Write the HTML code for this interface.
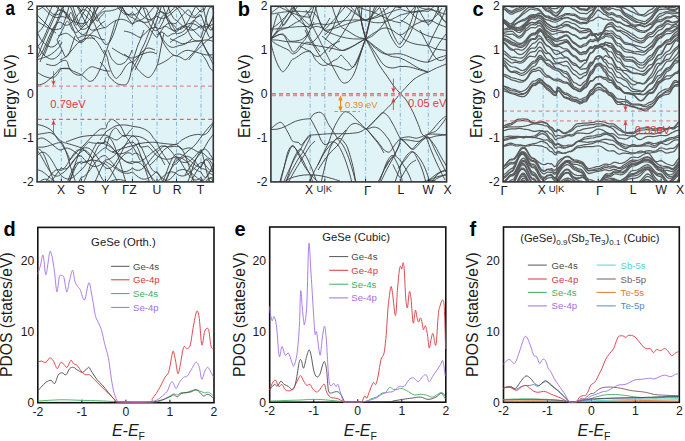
<!DOCTYPE html>
<html><head><meta charset="utf-8"><style>
html,body{margin:0;padding:0;background:#fff;}
svg{display:block;}
text{font-family:"Liberation Sans", sans-serif;}
</style></head><body>
<svg width="685" height="441" viewBox="0 0 685 441" font-family='"Liberation Sans", sans-serif'>
<rect width="685" height="441" fill="#ffffff"/>
<rect x="37.1" y="6.2" width="176.20" height="175.70" fill="#e0f4f8"/>
<line x1="61.3" y1="6.2" x2="61.3" y2="181.9" stroke="#88b6d8" stroke-width="1.05" stroke-dasharray="4 2 1 2" stroke-dashoffset="1.4"/>
<line x1="81.3" y1="6.2" x2="81.3" y2="181.9" stroke="#88b6d8" stroke-width="1.05" stroke-dasharray="4 2 1 2" stroke-dashoffset="1.4"/>
<line x1="105.4" y1="6.2" x2="105.4" y2="181.9" stroke="#88b6d8" stroke-width="1.05" stroke-dasharray="4 2 1 2" stroke-dashoffset="1.4"/>
<line x1="132.5" y1="6.2" x2="132.5" y2="181.9" stroke="#88b6d8" stroke-width="1.05" stroke-dasharray="4 2 1 2" stroke-dashoffset="1.4"/>
<line x1="157.0" y1="6.2" x2="157.0" y2="181.9" stroke="#88b6d8" stroke-width="1.05" stroke-dasharray="4 2 1 2" stroke-dashoffset="1.4"/>
<line x1="176.5" y1="6.2" x2="176.5" y2="181.9" stroke="#88b6d8" stroke-width="1.05" stroke-dasharray="4 2 1 2" stroke-dashoffset="1.4"/>
<line x1="201.0" y1="6.2" x2="201.0" y2="181.9" stroke="#88b6d8" stroke-width="1.05" stroke-dasharray="4 2 1 2" stroke-dashoffset="1.4"/>
<clipPath id="clipa"><rect x="37.1" y="6.2" width="176.20" height="175.70"/></clipPath>
<g clip-path="url(#clipa)">
<path d="M36.0,85.3 C37.3,85.0 41.0,85.0 43.9,83.4 C46.8,81.8 50.7,78.2 53.3,75.8 C55.9,73.4 58.2,70.0 59.6,68.8 C61.0,67.6 60.0,68.6 61.5,68.6 C63.0,68.6 67.0,68.5 68.7,68.8 C70.4,69.1 70.2,69.8 71.4,70.4 C72.6,71.0 74.2,71.5 75.9,72.2 C77.6,73.0 79.7,73.9 81.4,74.9 C83.1,76.0 84.6,77.4 85.9,78.5 C87.2,79.6 88.2,81.1 89.5,81.3 C90.8,81.5 92.5,81.0 94.0,79.5 C95.5,78.0 97.2,74.9 98.6,72.2 C100.0,69.5 101.2,66.0 102.2,63.1 C103.2,60.2 104.1,57.4 104.9,55.0 C105.7,52.6 106.2,51.5 107.0,49.0 C107.8,46.5 109.0,43.2 110.0,40.0 C111.0,36.8 112.0,33.3 113.0,30.0 C114.0,26.7 115.5,21.7 116.0,20.0" fill="none" stroke="#3c3c3c" stroke-width="0.9" stroke-linejoin="round"/>
<path d="M36.0,71.5 C37.3,72.3 41.3,75.0 43.9,76.1 C46.5,77.2 49.6,78.3 51.8,78.1 C54.0,77.9 55.6,76.2 57.0,74.8 C58.4,73.4 59.5,70.7 60.3,69.6 C61.1,68.5 60.6,68.6 62.0,68.4 C63.4,68.2 67.1,68.2 68.7,68.4 C70.3,68.6 71.0,69.4 71.4,69.6" fill="none" stroke="#3c3c3c" stroke-width="0.9" stroke-linejoin="round"/>
<path d="M46.0,64.0 C46.9,64.2 49.7,65.2 51.4,65.4 C53.1,65.6 54.5,65.6 56.0,65.0 C57.5,64.4 59.1,62.6 60.5,61.8 C61.9,61.0 63.0,60.5 64.1,60.4 C65.2,60.3 66.1,60.1 66.9,61.3 C67.7,62.5 68.3,66.0 69.1,67.7 C69.8,69.4 70.3,70.2 71.4,71.3 C72.5,72.4 74.2,73.9 75.9,74.5 C77.6,75.1 79.7,75.6 81.4,74.9 C83.1,74.2 84.2,71.8 85.9,70.4 C87.6,69.1 89.5,67.2 91.3,66.8 C93.1,66.4 95.0,67.6 96.8,68.1 C98.6,68.6 100.7,69.5 102.2,69.9 C103.7,70.4 104.7,70.6 106.0,70.8 C107.3,71.0 109.3,71.1 110.0,71.2" fill="none" stroke="#3c3c3c" stroke-width="0.9" stroke-linejoin="round"/>
<path d="M57.0,40.0 C57.5,41.0 59.1,44.3 60.0,46.0 C60.9,47.7 61.4,48.6 62.3,50.4 C63.2,52.2 64.4,56.2 65.5,56.8 C66.6,57.4 67.7,55.8 68.7,54.1 C69.7,52.4 70.7,48.8 71.4,46.8 C72.1,44.8 72.4,43.8 73.0,42.0 C73.6,40.2 74.7,37.0 75.0,36.0" fill="none" stroke="#3c3c3c" stroke-width="0.9" stroke-linejoin="round"/>
<path d="M36.0,60.0 C37.7,59.5 43.4,57.8 46.0,56.8 C48.6,55.8 49.6,55.3 51.4,54.1 C53.2,52.9 55.5,50.8 56.9,49.5 C58.3,48.2 58.8,47.6 59.6,46.4 C60.5,45.1 61.6,42.7 62.0,42.0" fill="none" stroke="#3c3c3c" stroke-width="0.9" stroke-linejoin="round"/>
<path d="M100.0,62.0 C100.9,63.0 103.9,65.7 105.4,68.1 C106.9,70.5 107.6,74.0 109.1,76.3 C110.6,78.6 112.8,80.3 114.5,81.7 C116.2,83.1 117.3,84.0 119.0,84.5 C120.7,85.0 123.1,85.1 124.5,84.9 C125.9,84.7 126.3,84.8 127.2,83.5 C128.1,82.2 129.2,79.8 129.9,77.2 C130.7,74.6 131.2,70.8 131.7,68.1 C132.2,65.4 132.6,63.0 133.1,60.9 C133.6,58.8 134.0,57.2 134.5,55.4 C135.0,53.6 135.7,51.7 136.3,50.0 C136.9,48.3 137.2,47.0 138.0,45.0 C138.8,43.0 140.0,40.5 141.0,38.0 C142.0,35.5 143.5,31.3 144.0,30.0" fill="none" stroke="#3c3c3c" stroke-width="0.9" stroke-linejoin="round"/>
<path d="M104.0,50.0 C104.5,51.2 106.5,54.7 107.3,57.3 C108.1,59.9 108.3,62.8 109.1,65.4 C109.8,68.0 110.8,70.6 111.8,72.7 C112.8,74.8 114.4,77.3 115.4,78.1 C116.5,78.8 117.0,78.1 118.1,77.2 C119.2,76.3 120.7,74.2 121.8,72.7 C122.9,71.2 123.6,69.5 124.5,68.1 C125.4,66.7 126.3,65.4 127.2,64.5 C128.1,63.6 129.1,62.9 130.0,62.5 C130.9,62.1 132.1,62.3 132.5,62.3" fill="none" stroke="#3c3c3c" stroke-width="0.9" stroke-linejoin="round"/>
<path d="M108.0,50.0 C108.5,51.2 110.0,55.5 110.9,57.3 C111.8,59.1 112.5,59.8 113.6,60.9 C114.6,62.0 115.8,63.6 117.2,64.1 C118.6,64.6 120.4,64.5 121.8,64.1 C123.2,63.7 124.5,62.6 125.4,61.8 C126.4,60.9 126.7,60.1 127.5,59.0 C128.3,57.9 129.2,56.5 130.0,55.0 C130.8,53.5 131.7,50.8 132.0,50.0" fill="none" stroke="#3c3c3c" stroke-width="0.9" stroke-linejoin="round"/>
<path d="M132.5,62.3 C133.7,63.8 137.2,69.0 139.8,71.5 C142.4,74.0 145.9,77.5 148.3,77.5 C150.7,77.5 152.7,73.7 154.2,71.5 C155.7,69.3 156.7,66.5 157.5,64.3 C158.3,62.0 158.5,60.4 159.0,58.0 C159.5,55.6 160.0,52.7 160.5,50.0 C161.0,47.3 161.4,44.8 162.0,42.0 C162.6,39.2 163.7,34.5 164.0,33.0" fill="none" stroke="#3c3c3c" stroke-width="0.9" stroke-linejoin="round"/>
<path d="M157.5,65.0 C158.4,64.6 161.2,63.4 163.0,62.5 C164.8,61.6 166.4,60.6 168.0,59.5 C169.6,58.4 171.2,56.4 172.6,55.8 C174.0,55.2 175.1,55.5 176.5,55.8 C177.9,56.1 179.4,56.9 181.0,57.5 C182.6,58.1 184.1,60.1 185.8,59.7 C187.5,59.3 189.3,56.6 191.0,55.0 C192.7,53.4 194.2,51.8 195.7,49.8 C197.2,47.8 199.0,44.4 200.0,43.0 C201.0,41.6 201.0,42.3 201.5,41.3 C202.0,40.3 202.8,37.7 203.0,37.0" fill="none" stroke="#3c3c3c" stroke-width="0.9" stroke-linejoin="round"/>
<path d="M160.0,32.0 C160.3,33.3 160.8,37.2 162.0,40.0 C163.2,42.8 165.7,46.7 167.4,49.0 C169.1,51.3 170.5,52.9 172.0,54.0 C173.5,55.1 175.2,55.9 176.5,55.8 C177.8,55.7 178.4,54.4 180.0,53.5 C181.6,52.6 183.8,50.9 185.8,50.5 C187.8,50.1 189.4,50.5 192.0,51.0 C194.6,51.5 198.8,53.1 201.5,53.8 C204.2,54.5 205.9,54.9 208.0,55.0 C210.1,55.1 213.0,54.6 214.0,54.5" fill="none" stroke="#3c3c3c" stroke-width="0.9" stroke-linejoin="round"/>
<path d="M201.5,41.3 C202.1,42.4 203.8,45.5 205.0,48.0 C206.2,50.5 207.5,53.0 209.0,56.0 C210.5,59.0 213.2,64.3 214.0,66.0" fill="none" stroke="#3c3c3c" stroke-width="0.9" stroke-linejoin="round"/>
<path d="M201.5,53.8 C202.2,54.8 204.6,57.6 206.0,60.0 C207.4,62.4 208.7,66.0 210.0,68.0 C211.3,70.0 213.3,71.3 214.0,72.0" fill="none" stroke="#3c3c3c" stroke-width="0.9" stroke-linejoin="round"/>
<path d="M124.0,54.0 C124.7,54.5 126.6,55.6 128.0,57.0 C129.4,58.4 131.0,62.1 132.5,62.3 C134.0,62.5 135.4,59.7 137.0,58.0 C138.6,56.3 140.2,53.7 142.0,52.0 C143.8,50.3 145.8,48.3 148.0,48.0 C150.2,47.7 153.8,49.7 155.0,50.0" fill="none" stroke="#3c3c3c" stroke-width="0.9" stroke-linejoin="round"/>
<path d="M112.0,48.0 C113.3,48.8 117.7,51.7 120.0,53.0 C122.3,54.3 123.9,55.2 126.0,56.0 C128.1,56.8 130.2,58.2 132.5,58.0 C134.8,57.8 137.1,56.0 140.0,55.0 C142.9,54.0 147.2,52.2 150.0,52.0 C152.8,51.8 155.8,53.7 157.0,54.0" fill="none" stroke="#3c3c3c" stroke-width="0.9" stroke-linejoin="round"/>
<path d="M36.0,124.2 C37.3,124.5 41.3,125.1 43.9,126.2 C46.5,127.3 49.4,128.5 51.8,130.8 C54.2,133.1 56.8,138.0 58.3,140.0 C59.8,142.0 60.0,141.7 61.0,143.0 C62.0,144.3 63.0,146.3 64.0,148.0 C65.0,149.7 66.0,151.0 67.0,153.0 C68.0,155.0 69.5,158.8 70.0,160.0" fill="none" stroke="#3c3c3c" stroke-width="0.9" stroke-linejoin="round"/>
<path d="M36.0,134.7 C37.3,134.5 41.5,133.7 43.9,133.4 C46.3,133.1 48.5,132.3 50.5,132.7 C52.5,133.1 54.0,134.6 55.7,136.0 C57.5,137.4 58.8,140.0 61.0,141.3 C63.2,142.6 65.5,142.8 68.9,143.9 C72.3,145.0 78.5,146.6 81.3,147.9 C84.1,149.2 84.2,150.3 86.0,152.0 C87.8,153.7 91.0,157.0 92.0,158.0" fill="none" stroke="#3c3c3c" stroke-width="0.9" stroke-linejoin="round"/>
<path d="M70.0,160.0 C71.0,158.8 74.1,155.0 76.0,153.0 C77.9,151.0 79.2,150.1 81.3,147.9 C83.4,145.7 86.5,142.2 88.6,140.0 C90.7,137.8 91.8,136.5 93.8,134.7 C95.8,132.9 98.5,130.1 100.5,129.1 C102.5,128.1 104.4,129.5 105.6,128.6 C106.8,127.6 106.6,124.9 107.5,123.4 C108.4,121.9 110.0,120.3 111.0,119.7 C112.0,119.1 112.6,119.4 113.6,119.9 C114.6,120.4 115.9,121.5 117.1,122.5 C118.3,123.5 119.6,124.5 120.6,126.0 C121.6,127.5 122.4,129.6 123.3,131.3 C124.2,133.1 125.0,135.1 125.9,136.5 C126.8,137.9 127.5,138.5 128.5,140.0 C129.5,141.5 130.8,143.3 132.0,145.3 C133.2,147.3 134.7,149.6 136.0,152.0 C137.3,154.4 139.3,158.7 140.0,160.0" fill="none" stroke="#3c3c3c" stroke-width="0.9" stroke-linejoin="round"/>
<path d="M100.0,140.0 C101.0,138.7 104.1,133.9 105.8,132.1 C107.5,130.3 108.5,130.1 110.1,129.1 C111.7,128.1 113.7,126.7 115.4,126.0 C117.2,125.3 118.7,125.2 120.6,125.1 C122.5,124.9 124.8,124.9 126.8,125.1 C128.8,125.3 130.9,126.0 132.9,126.4 C134.9,126.8 137.1,126.8 139.0,127.3 C140.9,127.8 142.5,128.2 144.3,129.1 C146.1,130.0 148.6,131.6 150.0,133.0 C151.4,134.4 151.8,135.7 152.9,137.3 C154.1,138.9 155.6,140.4 156.9,142.6 C158.2,144.8 159.3,147.9 160.8,150.5 C162.3,153.1 164.5,156.0 166.0,158.4 C167.5,160.8 169.3,163.9 170.0,165.0" fill="none" stroke="#3c3c3c" stroke-width="0.9" stroke-linejoin="round"/>
<path d="M106.0,148.0 C106.5,146.3 108.0,140.8 109.0,138.0 C110.0,135.2 110.9,132.7 112.0,131.0 C113.1,129.3 114.4,128.2 115.4,128.0 C116.4,127.8 117.1,129.0 118.0,130.0 C118.9,131.0 119.4,132.8 120.6,133.9 C121.8,135.0 123.5,136.9 125.0,136.5 C126.5,136.1 128.1,132.8 129.4,131.3 C130.7,129.9 132.3,128.4 132.9,127.8" fill="none" stroke="#3c3c3c" stroke-width="0.9" stroke-linejoin="round"/>
<path d="M66.0,142.0 C67.3,141.5 71.7,139.8 74.0,139.0 C76.3,138.2 78.0,137.5 80.0,137.0 C82.0,136.5 84.3,136.2 86.0,136.0 C87.7,135.8 88.5,135.7 90.0,135.6 C91.5,135.5 93.3,135.4 95.0,135.3 C96.7,135.2 98.2,135.2 100.0,135.2 C101.8,135.2 103.9,134.9 105.6,135.2 C107.3,135.5 108.3,136.2 110.0,137.0 C111.7,137.8 114.3,139.8 116.0,140.0 C117.7,140.2 118.7,138.8 120.0,138.0 C121.3,137.2 122.0,135.7 124.0,135.4 C126.0,135.1 129.3,135.8 131.9,136.0 C134.5,136.2 137.4,136.0 139.8,136.7 C142.2,137.4 144.3,138.6 146.3,140.0 C148.3,141.4 149.8,143.2 151.6,145.2 C153.4,147.2 155.3,149.7 156.9,151.8 C158.5,153.9 159.7,155.8 161.0,158.0 C162.3,160.2 164.3,163.8 165.0,165.0" fill="none" stroke="#3c3c3c" stroke-width="0.9" stroke-linejoin="round"/>
<path d="M112.0,152.0 C113.0,151.7 116.0,150.7 118.0,150.0 C120.0,149.3 121.7,148.6 124.0,147.9 C126.3,147.2 129.1,146.7 131.9,145.9 C134.7,145.1 137.9,143.9 141.0,143.3 C144.1,142.7 147.7,142.4 150.3,142.3 C153.0,142.2 154.1,142.3 156.9,142.6 C159.8,142.9 164.1,143.6 167.4,143.9 C170.7,144.2 174.2,144.8 176.6,144.2 C179.0,143.5 179.6,141.4 181.8,140.0 C184.0,138.6 187.1,136.9 189.7,136.0 C192.3,135.1 195.4,134.6 197.6,134.4 C199.8,134.2 201.1,135.4 202.8,135.0 C204.6,134.6 206.2,134.2 208.1,132.1 C210.0,130.0 213.0,123.8 214.0,122.2" fill="none" stroke="#3c3c3c" stroke-width="0.9" stroke-linejoin="round"/>
<path d="M176.6,144.2 C177.5,145.0 179.6,148.6 181.8,149.2 C184.0,149.8 187.1,147.5 189.7,147.9 C192.3,148.3 195.4,150.9 197.6,151.8 C199.8,152.7 200.9,152.0 202.8,153.1 C204.7,154.2 207.1,157.3 209.0,158.4 C210.9,159.5 213.2,159.5 214.0,159.7" fill="none" stroke="#3c3c3c" stroke-width="0.9" stroke-linejoin="round"/>
<path d="M150.0,165.0 C151.2,163.9 154.7,160.8 156.9,158.4 C159.1,156.0 161.2,152.6 163.4,150.5 C165.6,148.4 167.8,147.1 170.0,146.0 C172.2,144.9 175.5,144.5 176.6,144.2" fill="none" stroke="#3c3c3c" stroke-width="0.9" stroke-linejoin="round"/>
<path d="M172.0,165.0 C173.3,163.8 177.3,160.3 180.0,158.0 C182.7,155.7 185.5,153.2 188.0,151.0 C190.5,148.8 192.5,147.7 195.0,145.0 C197.5,142.3 200.6,137.5 202.8,134.7 C205.0,131.9 206.2,130.3 208.1,128.1 C210.0,125.9 213.0,122.7 214.0,121.6" fill="none" stroke="#3c3c3c" stroke-width="0.9" stroke-linejoin="round"/>
<path d="M185.0,175.0 C185.8,173.7 188.3,169.5 190.0,167.0 C191.7,164.5 192.9,162.8 195.0,160.0 C197.1,157.2 200.6,153.6 202.8,150.5 C205.0,147.4 206.2,144.2 208.1,141.3 C210.0,138.5 213.0,134.7 214.0,133.4" fill="none" stroke="#3c3c3c" stroke-width="0.9" stroke-linejoin="round"/>
<path d="M36.0,140.0 C37.0,139.7 40.0,137.8 42.0,138.0 C44.0,138.2 46.0,139.7 48.0,141.0 C50.0,142.3 52.0,144.5 54.0,146.0 C56.0,147.5 58.0,149.7 60.0,150.0 C62.0,150.3 64.0,148.0 66.0,148.0 C68.0,148.0 69.7,148.7 72.0,150.0 C74.3,151.3 78.7,155.0 80.0,156.0" fill="none" stroke="#3c3c3c" stroke-width="0.9" stroke-linejoin="round"/>
<path d="M37.0,9.9 L38.5,9.5 L40.0,8.9 L41.6,7.9 L43.1,6.8 L44.6,5.5 L46.1,4.0 L47.6,2.5 L49.1,1.0 L50.7,-0.4 L52.2,-1.8 L53.7,-2.9 L55.2,-3.9 L56.7,-4.7 L58.3,-5.1 L59.8,-5.3 L61.3,-5.2 L62.8,-6.8 L64.4,-7.3 L65.9,-6.8 L67.5,-5.3 L69.0,-2.7 L70.5,0.6 L72.1,4.5 L73.6,8.8 L75.1,13.2 L76.7,17.5 L78.2,21.5 L79.8,24.8 L81.3,27.3 L82.8,25.3 L84.3,22.7 L85.8,19.6 L87.3,16.0 L88.8,12.1 L90.3,8.1 L91.8,4.0 L93.3,0.2 L94.9,-3.4 L96.4,-6.4 L97.9,-9.0 L99.4,-10.8 L100.9,-11.9 L102.4,-12.3 L103.9,-11.8 L105.4,-10.6 L106.9,-10.6 L108.4,-10.2 L109.9,-9.4 L111.4,-8.2 L112.9,-6.7 L114.4,-4.8 L115.9,-2.7 L117.4,-0.4 L119.0,2.0 L120.5,4.5 L122.0,7.0 L123.5,9.3 L125.0,11.5 L126.5,13.4 L128.0,15.0 L129.5,16.3 L131.0,17.2 L132.5,17.7 L134.0,18.8 L135.5,19.7 L137.1,20.2 L138.6,20.4 L140.1,20.2 L141.6,19.6 L143.1,18.7 L144.7,17.6 L146.2,16.1 L147.7,14.5 L149.2,12.8 L150.7,11.0 L152.2,9.1 L153.8,7.4 L155.3,5.8 L156.8,4.4 L158.3,2.3 L159.8,-0.0 L161.3,-2.7 L162.9,-5.3 L164.4,-7.9 L165.9,-10.3 L167.4,-12.2 L168.9,-13.7 L170.4,-14.6 L172.0,-14.9 L173.5,-14.5 L175.0,-13.5 L176.5,-11.9 L178.0,-12.8 L179.6,-13.1 L181.1,-13.0 L182.6,-12.4 L184.2,-11.2 L185.7,-9.7 L187.2,-7.8 L188.8,-5.6 L190.3,-3.1 L191.8,-0.6 L193.3,2.0 L194.9,4.5 L196.4,6.8 L197.9,8.9 L199.5,10.6 L201.0,11.9 L202.5,11.9 L204.1,10.0 L205.6,6.6 L207.2,2.0 L208.7,-3.0 L210.2,-7.6 L211.8,-11.1 L213.3,-13.0" fill="none" stroke="#3c3c3c" stroke-width="0.9" stroke-linejoin="round"/>
<path d="M37.0,58.0 L38.5,56.9 L40.0,55.2 L41.6,52.9 L43.1,50.1 L44.6,46.9 L46.1,43.5 L47.6,39.9 L49.1,36.4 L50.7,33.0 L52.2,29.9 L53.7,27.2 L55.2,25.0 L56.7,23.4 L58.3,22.4 L59.8,22.1 L61.3,22.5 L62.8,23.9 L64.4,24.8 L65.9,25.2 L67.5,25.2 L69.0,24.6 L70.5,23.6 L72.1,22.2 L73.6,20.5 L75.1,18.5 L76.7,16.5 L78.2,14.4 L79.8,12.5 L81.3,10.8 L82.8,9.9 L84.3,9.6 L85.8,10.1 L87.3,11.2 L88.8,13.0 L90.3,15.3 L91.8,18.1 L93.3,21.3 L94.9,24.7 L96.4,28.2 L97.9,31.7 L99.4,35.1 L100.9,38.2 L102.4,40.8 L103.9,43.0 L105.4,44.6 L106.9,44.4 L108.4,43.4 L109.9,41.6 L111.4,39.0 L112.9,35.7 L114.4,31.8 L115.9,27.4 L117.4,22.7 L119.0,17.8 L120.5,12.9 L122.0,8.0 L123.5,3.4 L125.0,-0.8 L126.5,-4.5 L128.0,-7.5 L129.5,-9.9 L131.0,-11.4 L132.5,-12.2 L134.0,-11.2 L135.5,-9.5 L137.1,-7.0 L138.6,-3.9 L140.1,-0.4 L141.6,3.6 L143.1,7.7 L144.7,11.9 L146.2,16.1 L147.7,19.9 L149.2,23.3 L150.7,26.2 L152.2,28.4 L153.8,29.9 L155.3,30.6 L156.8,30.5 L158.3,29.5 L159.8,27.6 L161.3,25.0 L162.9,21.9 L164.4,18.4 L165.9,14.7 L167.4,11.1 L168.9,7.7 L170.4,4.8 L172.0,2.4 L173.5,0.9 L175.0,0.2 L176.5,0.3 L178.0,0.5 L179.6,0.4 L181.1,0.2 L182.6,-0.1 L184.2,-0.6 L185.7,-1.1 L187.2,-1.8 L188.8,-2.5 L190.3,-3.3 L191.8,-4.1 L193.3,-4.8 L194.9,-5.6 L196.4,-6.2 L197.9,-6.7 L199.5,-7.1 L201.0,-7.4 L202.5,-10.8 L204.1,-13.7 L205.6,-14.7 L207.2,-14.5 L208.7,-14.6 L210.2,-14.7 L211.8,-12.0 L213.3,-8.8" fill="none" stroke="#3c3c3c" stroke-width="0.9" stroke-linejoin="round"/>
<path d="M37.0,-10.4 L38.5,-9.5 L40.0,-8.6 L41.6,-7.5 L43.1,-6.3 L44.6,-5.1 L46.1,-4.0 L47.6,-3.0 L49.1,-2.0 L50.7,-1.3 L52.2,-0.7 L53.7,-0.3 L55.2,-0.1 L56.7,-0.1 L58.3,-0.4 L59.8,-0.9 L61.3,-1.6 L62.8,-2.4 L64.4,-2.2 L65.9,-1.1 L67.5,0.8 L69.0,3.6 L70.5,6.9 L72.1,10.6 L73.6,14.5 L75.1,18.4 L76.7,22.0 L78.2,25.1 L79.8,27.6 L81.3,29.2 L82.8,29.3 L84.3,29.1 L85.8,28.5 L87.3,27.6 L88.8,26.4 L90.3,25.0 L91.8,23.4 L93.3,21.6 L94.9,19.8 L96.4,18.1 L97.9,16.4 L99.4,14.8 L100.9,13.4 L102.4,12.3 L103.9,11.5 L105.4,11.1 L106.9,11.1 L108.4,11.0 L109.9,10.9 L111.4,10.6 L112.9,10.2 L114.4,9.8 L115.9,9.3 L117.4,8.7 L119.0,8.1 L120.5,7.5 L122.0,6.9 L123.5,6.3 L125.0,5.8 L126.5,5.3 L128.0,4.9 L129.5,4.5 L131.0,4.3 L132.5,4.2 L134.0,5.7 L135.5,7.5 L137.1,9.3 L138.6,11.2 L140.1,13.0 L141.6,14.8 L143.1,16.3 L144.7,17.6 L146.2,18.6 L147.7,19.3 L149.2,19.6 L150.7,19.6 L152.2,19.2 L153.8,18.5 L155.3,17.4 L156.8,16.0 L158.3,17.0 L159.8,17.8 L161.3,18.2 L162.9,18.3 L164.4,18.1 L165.9,17.5 L167.4,16.7 L168.9,15.6 L170.4,14.3 L172.0,12.9 L173.5,11.6 L175.0,10.2 L176.5,9.0 L178.0,8.1 L179.6,7.1 L181.1,6.0 L182.6,4.8 L184.2,3.7 L185.7,2.6 L187.2,1.6 L188.8,0.7 L190.3,0.0 L191.8,-0.5 L193.3,-0.8 L194.9,-0.9 L196.4,-0.8 L197.9,-0.4 L199.5,0.1 L201.0,0.9 L202.5,5.6 L204.1,11.5 L205.6,17.9 L207.2,23.6 L208.7,27.9 L210.2,30.1 L211.8,29.8 L213.3,27.1" fill="none" stroke="#3c3c3c" stroke-width="0.9" stroke-linejoin="round"/>
<path d="M37.0,-5.9 L38.5,-4.3 L40.0,-2.3 L41.6,-0.2 L43.1,2.0 L44.6,4.4 L46.1,6.6 L47.6,8.7 L49.1,10.6 L50.7,12.3 L52.2,13.5 L53.7,14.4 L55.2,14.8 L56.7,14.8 L58.3,14.4 L59.8,13.5 L61.3,12.2 L62.8,11.6 L64.4,11.7 L65.9,12.5 L67.5,13.9 L69.0,15.8 L70.5,18.2 L72.1,20.8 L73.6,23.6 L75.1,26.4 L76.7,29.0 L78.2,31.2 L79.8,33.0 L81.3,34.2 L82.8,34.6 L84.3,34.2 L85.8,33.0 L87.3,31.1 L88.8,28.6 L90.3,25.5 L91.8,22.0 L93.3,18.1 L94.9,14.2 L96.4,10.2 L97.9,6.4 L99.4,2.9 L100.9,-0.2 L102.4,-2.7 L103.9,-4.6 L105.4,-5.7 L106.9,-5.2 L108.4,-4.5 L109.9,-3.4 L111.4,-2.1 L112.9,-0.6 L114.4,1.0 L115.9,2.8 L117.4,4.6 L119.0,6.4 L120.5,8.2 L122.0,9.8 L123.5,11.3 L125.0,12.6 L126.5,13.6 L128.0,14.4 L129.5,14.9 L131.0,15.0 L132.5,14.8 L134.0,14.9 L135.5,14.4 L137.1,13.4 L138.6,11.9 L140.1,10.0 L141.6,7.7 L143.1,5.2 L144.7,2.6 L146.2,-0.2 L147.7,-2.9 L149.2,-5.4 L150.7,-7.7 L152.2,-9.7 L153.8,-11.3 L155.3,-12.3 L156.8,-12.9 L158.3,-12.6 L159.8,-11.4 L161.3,-9.3 L162.9,-6.4 L164.4,-3.0 L165.9,0.9 L167.4,4.9 L168.9,8.8 L170.4,12.5 L172.0,15.6 L173.5,18.1 L175.0,19.7 L176.5,20.4 L178.0,21.8 L179.6,23.2 L181.1,24.6 L182.6,26.0 L184.2,27.2 L185.7,28.3 L187.2,29.1 L188.8,29.8 L190.3,30.1 L191.8,30.2 L193.3,30.0 L194.9,29.6 L196.4,28.9 L197.9,27.9 L199.5,26.8 L201.0,25.5 L202.5,28.5 L204.1,30.3 L205.6,30.6 L207.2,29.3 L208.7,26.7 L210.2,23.1 L211.8,19.2 L213.3,15.4" fill="none" stroke="#3c3c3c" stroke-width="0.9" stroke-linejoin="round"/>
<path d="M37.0,21.5 L38.5,22.2 L40.0,23.1 L41.6,23.9 L43.1,24.9 L44.6,25.8 L46.1,26.7 L47.6,27.5 L49.1,28.2 L50.7,28.8 L52.2,29.2 L53.7,29.5 L55.2,29.6 L56.7,29.5 L58.3,29.2 L59.8,28.8 L61.3,28.2 L62.8,25.3 L64.4,21.5 L65.9,16.9 L67.5,11.8 L69.0,6.6 L70.5,1.4 L72.1,-3.3 L73.6,-7.3 L75.1,-10.4 L76.7,-12.5 L78.2,-13.2 L79.8,-12.8 L81.3,-11.1 L82.8,-10.8 L84.3,-9.9 L85.8,-8.2 L87.3,-5.9 L88.8,-3.1 L90.3,0.2 L91.8,3.8 L93.3,7.6 L94.9,11.4 L96.4,15.1 L97.9,18.5 L99.4,21.6 L100.9,24.1 L102.4,26.0 L103.9,27.3 L105.4,27.8 L106.9,26.6 L108.4,25.4 L109.9,24.2 L111.4,23.1 L112.9,22.1 L114.4,21.2 L115.9,20.5 L117.4,19.9 L119.0,19.5 L120.5,19.3 L122.0,19.3 L123.5,19.6 L125.0,20.0 L126.5,20.6 L128.0,21.4 L129.5,22.3 L131.0,23.3 L132.5,24.5 L134.0,23.1 L135.5,22.0 L137.1,21.3 L138.6,21.0 L140.1,21.0 L141.6,21.5 L143.1,22.3 L144.7,23.4 L146.2,24.8 L147.7,26.5 L149.2,28.3 L150.7,30.3 L152.2,32.3 L153.8,34.2 L155.3,36.0 L156.8,37.6 L158.3,35.4 L159.8,33.0 L161.3,30.6 L162.9,28.4 L164.4,26.5 L165.9,24.9 L167.4,23.8 L168.9,23.2 L170.4,23.3 L172.0,23.9 L173.5,25.0 L175.0,26.6 L176.5,28.6 L178.0,29.3 L179.6,29.5 L181.1,29.1 L182.6,28.2 L184.2,26.7 L185.7,24.7 L187.2,22.4 L188.8,19.7 L190.3,16.8 L191.8,13.8 L193.3,10.9 L194.9,8.0 L196.4,5.5 L197.9,3.2 L199.5,1.4 L201.0,0.1 L202.5,-2.5 L204.1,-4.4 L205.6,-5.1 L207.2,-4.6 L208.7,-3.1 L210.2,-0.6 L211.8,2.4 L213.3,5.4" fill="none" stroke="#3c3c3c" stroke-width="0.9" stroke-linejoin="round"/>
<path d="M37.0,4.1 L38.5,3.3 L40.0,2.6 L41.6,2.1 L43.1,1.9 L44.6,1.8 L46.1,1.9 L47.6,2.3 L49.1,2.8 L50.7,3.5 L52.2,4.4 L53.7,5.3 L55.2,6.3 L56.7,7.4 L58.3,8.5 L59.8,9.5 L61.3,10.4 L62.8,10.5 L64.4,11.4 L65.9,13.2 L67.5,15.8 L69.0,18.9 L70.5,22.5 L72.1,26.2 L73.6,30.0 L75.1,33.5 L76.7,36.6 L78.2,39.1 L79.8,40.8 L81.3,41.6 L82.8,40.6 L84.3,38.6 L85.8,35.7 L87.3,32.1 L88.8,27.8 L90.3,23.1 L91.8,18.1 L93.3,13.0 L94.9,8.0 L96.4,3.3 L97.9,-0.9 L99.4,-4.5 L100.9,-7.3 L102.4,-9.2 L103.9,-10.1 L105.4,-10.1 L106.9,-8.6 L108.4,-6.8 L109.9,-4.7 L111.4,-2.5 L112.9,-0.2 L114.4,2.2 L115.9,4.5 L117.4,6.8 L119.0,8.8 L120.5,10.7 L122.0,12.2 L123.5,13.4 L125.0,14.3 L126.5,14.7 L128.0,14.7 L129.5,14.4 L131.0,13.6 L132.5,12.4 L134.0,14.2 L135.5,16.0 L137.1,17.6 L138.6,19.1 L140.1,20.4 L141.6,21.4 L143.1,22.1 L144.7,22.4 L146.2,22.4 L147.7,22.0 L149.2,21.3 L150.7,20.3 L152.2,19.1 L153.8,17.6 L155.3,15.9 L156.8,14.1 L158.3,12.7 L159.8,11.9 L161.3,11.7 L162.9,12.2 L164.4,13.3 L165.9,15.0 L167.4,17.1 L168.9,19.6 L170.4,22.3 L172.0,25.0 L173.5,27.6 L175.0,29.9 L176.5,31.8 L178.0,30.5 L179.6,29.2 L181.1,27.9 L182.6,26.7 L184.2,25.7 L185.7,24.8 L187.2,24.1 L188.8,23.6 L190.3,23.4 L191.8,23.5 L193.3,23.8 L194.9,24.3 L196.4,25.1 L197.9,26.1 L199.5,27.2 L201.0,28.4 L202.5,26.5 L204.1,25.0 L205.6,24.2 L207.2,24.2 L208.7,25.1 L210.2,26.7 L211.8,28.6 L213.3,30.8" fill="none" stroke="#3c3c3c" stroke-width="0.9" stroke-linejoin="round"/>
<path d="M37.0,3.0 L38.5,3.8 L40.0,4.9 L41.6,6.2 L43.1,7.6 L44.6,9.1 L46.1,10.7 L47.6,12.2 L49.1,13.6 L50.7,14.8 L52.2,15.9 L53.7,16.7 L55.2,17.2 L56.7,17.5 L58.3,17.5 L59.8,17.1 L61.3,16.5 L62.8,16.7 L64.4,17.1 L65.9,17.6 L67.5,18.2 L69.0,19.0 L70.5,19.8 L72.1,20.6 L73.6,21.4 L75.1,22.1 L76.7,22.6 L78.2,23.0 L79.8,23.3 L81.3,23.3 L82.8,23.5 L84.3,23.3 L85.8,22.7 L87.3,21.7 L88.8,20.3 L90.3,18.6 L91.8,16.6 L93.3,14.5 L94.9,12.3 L96.4,10.1 L97.9,7.9 L99.4,6.0 L100.9,4.2 L102.4,2.8 L103.9,1.7 L105.4,1.0 L106.9,1.5 L108.4,1.8 L109.9,1.7 L111.4,1.4 L112.9,0.9 L114.4,0.1 L115.9,-0.9 L117.4,-2.0 L119.0,-3.3 L120.5,-4.8 L122.0,-6.2 L123.5,-7.8 L125.0,-9.2 L126.5,-10.6 L128.0,-11.9 L129.5,-13.1 L131.0,-14.0 L132.5,-14.8 L134.0,-14.6 L135.5,-14.3 L137.1,-14.1 L138.6,-14.1 L140.1,-14.3 L141.6,-14.6 L143.1,-14.7 L144.7,-12.7 L146.2,-10.4 L147.7,-7.8 L149.2,-5.1 L150.7,-2.3 L152.2,0.4 L153.8,3.0 L155.3,5.3 L156.8,7.2 L158.3,9.1 L159.8,10.8 L161.3,12.2 L162.9,13.2 L164.4,13.8 L165.9,14.0 L167.4,13.7 L168.9,12.9 L170.4,11.7 L172.0,10.2 L173.5,8.4 L175.0,6.5 L176.5,4.6 L178.0,5.8 L179.6,7.1 L181.1,8.6 L182.6,10.1 L184.2,11.5 L185.7,13.0 L187.2,14.3 L188.8,15.4 L190.3,16.3 L191.8,17.0 L193.3,17.4 L194.9,17.4 L196.4,17.2 L197.9,16.8 L199.5,16.0 L201.0,15.0 L202.5,18.7 L204.1,23.3 L205.6,28.3 L207.2,32.8 L208.7,36.1 L210.2,37.8 L211.8,37.6 L213.3,35.5" fill="none" stroke="#3c3c3c" stroke-width="0.9" stroke-linejoin="round"/>
<path d="M37.0,46.4 L38.5,45.5 L40.0,43.8 L41.6,41.6 L43.1,38.9 L44.6,35.8 L46.1,32.4 L47.6,28.8 L49.1,25.3 L50.7,21.8 L52.2,18.6 L53.7,15.8 L55.2,13.5 L56.7,11.8 L58.3,10.6 L59.8,10.2 L61.3,10.5 L62.8,8.4 L64.4,6.4 L65.9,4.6 L67.5,3.2 L69.0,2.3 L70.5,1.8 L72.1,1.9 L73.6,2.4 L75.1,3.5 L76.7,4.9 L78.2,6.8 L79.8,8.8 L81.3,10.9 L82.8,8.8 L84.3,6.4 L85.8,3.7 L87.3,1.0 L88.8,-1.7 L90.3,-4.4 L91.8,-6.8 L93.3,-8.9 L94.9,-10.6 L96.4,-11.9 L97.9,-12.6 L99.4,-12.9 L100.9,-12.6 L102.4,-11.8 L103.9,-10.4 L105.4,-8.7 L106.9,-9.6 L108.4,-10.1 L109.9,-10.0 L111.4,-9.4 L112.9,-8.2 L114.4,-6.6 L115.9,-4.6 L117.4,-2.2 L119.0,0.5 L120.5,3.4 L122.0,6.5 L123.5,9.6 L125.0,12.6 L126.5,15.4 L128.0,18.0 L129.5,20.3 L131.0,22.2 L132.5,23.7 L134.0,21.8 L135.5,19.3 L137.1,16.3 L138.6,12.9 L140.1,9.2 L141.6,5.4 L143.1,1.6 L144.7,-2.0 L146.2,-5.3 L147.7,-8.1 L149.2,-10.5 L150.7,-12.2 L152.2,-13.1 L153.8,-13.4 L155.3,-12.9 L156.8,-11.7 L158.3,-12.3 L159.8,-13.0 L161.3,-13.5 L162.9,-13.9 L164.4,-14.2 L165.9,-14.3 L167.4,-14.3 L168.9,-14.1 L170.4,-13.7 L172.0,-13.3 L173.5,-12.7 L175.0,-12.1 L176.5,-11.4 L178.0,-13.2 L179.6,-14.8 L181.1,-14.7 L182.6,-14.4 L184.2,-14.2 L185.7,-14.1 L187.2,-14.2 L188.8,-14.3 L190.3,-14.6 L191.8,-15.0 L193.3,-13.5 L194.9,-11.7 L196.4,-9.8 L197.9,-7.9 L199.5,-5.9 L201.0,-3.9 L202.5,-1.2 L204.1,1.0 L205.6,2.2 L207.2,2.3 L208.7,1.3 L210.2,-0.7 L211.8,-3.4 L213.3,-6.4" fill="none" stroke="#3c3c3c" stroke-width="0.9" stroke-linejoin="round"/>
<path d="M37.0,32.3 L38.5,31.9 L40.0,30.7 L41.6,28.9 L43.1,26.5 L44.6,23.7 L46.1,20.4 L47.6,16.8 L49.1,13.1 L50.7,9.5 L52.2,6.0 L53.7,2.7 L55.2,-0.1 L56.7,-2.4 L58.3,-4.0 L59.8,-5.0 L61.3,-5.3 L62.8,-7.2 L64.4,-8.8 L65.9,-10.0 L67.5,-10.7 L69.0,-10.9 L70.5,-10.6 L72.1,-9.8 L73.6,-8.5 L75.1,-6.9 L76.7,-4.9 L78.2,-2.8 L79.8,-0.7 L81.3,1.4 L82.8,-0.1 L84.3,-1.5 L85.8,-2.6 L87.3,-3.5 L88.8,-4.2 L90.3,-4.5 L91.8,-4.5 L93.3,-4.2 L94.9,-3.5 L96.4,-2.6 L97.9,-1.5 L99.4,-0.1 L100.9,1.4 L102.4,3.0 L103.9,4.6 L105.4,6.2 L106.9,5.7 L108.4,5.1 L109.9,4.7 L111.4,4.3 L112.9,4.0 L114.4,3.7 L115.9,3.6 L117.4,3.5 L119.0,3.6 L120.5,3.7 L122.0,3.9 L123.5,4.2 L125.0,4.6 L126.5,5.1 L128.0,5.6 L129.5,6.1 L131.0,6.7 L132.5,7.2 L134.0,6.1 L135.5,4.8 L137.1,3.3 L138.6,1.6 L140.1,-0.2 L141.6,-2.0 L143.1,-3.7 L144.7,-5.3 L146.2,-6.8 L147.7,-8.0 L149.2,-8.9 L150.7,-9.5 L152.2,-9.8 L153.8,-9.7 L155.3,-9.3 L156.8,-8.5 L158.3,-6.4 L159.8,-3.2 L161.3,0.7 L162.9,5.2 L164.4,10.1 L165.9,15.0 L167.4,19.6 L168.9,23.7 L170.4,27.1 L172.0,29.5 L173.5,30.8 L175.0,31.0 L176.5,30.0 L178.0,28.7 L179.6,27.7 L181.1,26.9 L182.6,26.3 L184.2,26.1 L185.7,26.1 L187.2,26.4 L188.8,27.0 L190.3,27.9 L191.8,29.0 L193.3,30.3 L194.9,31.7 L196.4,33.2 L197.9,34.8 L199.5,36.2 L201.0,37.6 L202.5,32.9 L204.1,26.8 L205.6,20.2 L207.2,14.1 L208.7,9.5 L210.2,7.0 L211.8,7.1 L213.3,9.7" fill="none" stroke="#3c3c3c" stroke-width="0.9" stroke-linejoin="round"/>
<path d="M37.0,193.1 L38.5,191.9 L40.0,190.4 L41.6,188.5 L43.1,186.4 L44.6,184.1 L46.1,181.7 L47.6,179.3 L49.1,177.0 L50.7,174.9 L52.2,173.1 L53.7,171.6 L55.2,170.4 L56.7,169.8 L58.3,169.6 L59.8,169.8 L61.3,170.5 L62.8,169.6 L64.4,168.1 L65.9,166.2 L67.5,163.9 L69.0,161.4 L70.5,158.8 L72.1,156.3 L73.6,154.1 L75.1,152.2 L76.7,150.7 L78.2,149.9 L79.8,149.6 L81.3,149.9 L82.8,148.8 L84.3,148.0 L85.8,147.7 L87.3,147.8 L88.8,148.3 L90.3,149.2 L91.8,150.5 L93.3,152.1 L94.9,154.0 L96.4,156.0 L97.9,158.2 L99.4,160.4 L100.9,162.5 L102.4,164.5 L103.9,166.2 L105.4,167.7 L106.9,168.4 L108.4,168.6 L109.9,168.3 L111.4,167.4 L112.9,166.1 L114.4,164.4 L115.9,162.3 L117.4,159.8 L119.0,157.1 L120.5,154.3 L122.0,151.3 L123.5,148.4 L125.0,145.6 L126.5,142.9 L128.0,140.5 L129.5,138.5 L131.0,136.9 L132.5,135.7 L134.0,136.2 L135.5,137.3 L137.1,139.1 L138.6,141.5 L140.1,146.5 L141.6,147.6 L143.1,151.1 L144.7,154.7 L146.2,158.3 L147.7,161.7 L149.2,164.8 L150.7,167.5 L152.2,169.7 L153.8,171.3 L155.3,172.2 L156.8,172.4 L158.3,174.1 L159.8,176.3 L161.3,178.9 L162.9,181.9 L164.4,184.9 L165.9,187.8 L167.4,190.6 L168.9,192.9 L170.4,194.7 L172.0,195.8 L173.5,195.9 L175.0,195.9 L176.5,194.9 L178.0,194.2 L179.6,193.4 L181.1,192.5 L182.6,191.7 L184.2,190.8 L185.7,190.0 L187.2,189.3 L188.8,188.6 L190.3,188.1 L191.8,187.8 L193.3,187.6 L194.9,187.6 L196.4,187.8 L197.9,188.1 L199.5,188.6 L201.0,189.2 L202.5,186.7 L204.1,184.0 L205.6,181.5 L207.2,179.4 L208.7,178.3 L210.2,178.1 L211.8,179.0 L213.3,180.8" fill="none" stroke="#3c3c3c" stroke-width="0.9" stroke-linejoin="round"/>
<path d="M37.0,184.7 L38.5,183.0 L40.0,181.5 L41.6,180.3 L43.1,179.6 L44.6,179.2 L46.1,179.2 L47.6,179.7 L49.1,180.5 L50.7,181.7 L52.2,183.2 L53.7,185.0 L55.2,187.0 L56.7,189.1 L58.3,191.2 L59.8,193.2 L61.3,195.2 L62.8,192.8 L64.4,190.4 L65.9,188.0 L67.5,185.9 L69.0,184.1 L70.5,182.7 L72.1,181.8 L73.6,181.5 L75.1,181.8 L76.7,182.7 L78.2,184.1 L79.8,185.9 L81.3,188.0 L82.8,187.1 L84.3,186.2 L85.8,185.2 L87.3,184.3 L88.8,183.5 L90.3,182.7 L91.8,182.1 L93.3,181.6 L94.9,181.3 L96.4,181.2 L97.9,181.2 L99.4,181.5 L100.9,181.9 L102.4,182.4 L103.9,183.2 L105.4,184.0 L106.9,183.1 L108.4,182.4 L109.9,181.6 L111.4,181.0 L112.9,180.4 L114.4,180.0 L115.9,179.7 L117.4,179.5 L119.0,179.5 L120.5,179.7 L122.0,180.0 L123.5,180.4 L125.0,180.9 L126.5,181.6 L128.0,182.3 L129.5,183.1 L131.0,183.9 L132.5,184.7 L134.0,185.5 L135.5,186.1 L137.1,186.7 L138.6,187.2 L140.1,187.6 L141.6,187.8 L143.1,187.8 L144.7,187.7 L146.2,187.5 L147.7,187.1 L149.2,186.6 L150.7,186.0 L152.2,185.3 L153.8,184.5 L155.3,183.8 L156.8,183.0 L158.3,184.8 L159.8,185.8 L161.3,185.8 L162.9,185.0 L164.4,183.3 L165.9,180.8 L167.4,177.7 L168.9,174.2 L170.4,170.4 L172.0,166.6 L173.5,163.0 L175.0,159.9 L176.5,157.3 L178.0,157.3 L179.6,157.5 L181.1,158.0 L182.6,158.7 L184.2,159.7 L185.7,160.9 L187.2,162.2 L188.8,163.6 L190.3,165.0 L191.8,166.4 L193.3,167.8 L194.9,169.0 L196.4,170.1 L197.9,170.9 L199.5,171.5 L201.0,171.9 L202.5,174.9 L204.1,176.9 L205.6,177.5 L207.2,176.6 L208.7,174.4 L210.2,171.1 L211.8,167.4 L213.3,163.8" fill="none" stroke="#3c3c3c" stroke-width="0.9" stroke-linejoin="round"/>
<path d="M37.0,195.3 L38.5,195.8 L40.0,195.5 L41.6,195.1 L43.1,194.8 L44.6,194.6 L46.1,194.5 L47.6,194.4 L49.1,194.4 L50.7,194.5 L52.2,194.7 L53.7,194.9 L55.2,195.2 L56.7,195.6 L58.3,195.9 L59.8,194.9 L61.3,193.6 L62.8,193.0 L64.4,191.6 L65.9,189.3 L67.5,186.3 L69.0,182.9 L70.5,179.1 L72.1,175.3 L73.6,171.6 L75.1,168.2 L76.7,165.4 L78.2,163.3 L79.8,162.1 L81.3,161.7 L82.8,162.2 L84.3,162.3 L85.8,162.2 L87.3,161.8 L88.8,161.1 L90.3,160.2 L91.8,159.0 L93.3,157.7 L94.9,156.3 L96.4,154.8 L97.9,153.3 L99.4,151.9 L100.9,150.6 L102.4,149.4 L103.9,148.4 L105.4,147.7 L106.9,148.7 L108.4,149.7 L109.9,150.7 L111.4,151.6 L112.9,152.3 L114.4,153.0 L115.9,153.4 L117.4,153.7 L119.0,153.9 L120.5,153.8 L122.0,153.6 L123.5,153.2 L125.0,152.6 L126.5,151.9 L128.0,151.0 L129.5,150.1 L131.0,149.1 L132.5,148.1 L134.0,146.5 L135.5,145.2 L137.1,144.1 L138.6,143.3 L140.1,146.9 L141.6,147.0 L143.1,146.9 L144.7,146.7 L146.2,146.4 L147.7,146.1 L149.2,147.2 L150.7,148.8 L152.2,150.6 L153.8,152.4 L155.3,154.1 L156.8,155.8 L158.3,156.6 L159.8,157.3 L161.3,158.0 L162.9,158.6 L164.4,159.0 L165.9,159.2 L167.4,159.2 L168.9,159.1 L170.4,158.8 L172.0,158.3 L173.5,157.7 L175.0,157.0 L176.5,156.2 L178.0,158.0 L179.6,160.2 L181.1,162.5 L182.6,165.1 L184.2,167.7 L185.7,170.3 L187.2,172.7 L188.8,174.9 L190.3,176.8 L191.8,178.3 L193.3,179.4 L194.9,179.9 L196.4,180.0 L197.9,179.5 L199.5,178.6 L201.0,177.2 L202.5,179.9 L204.1,183.2 L205.6,186.7 L207.2,189.8 L208.7,192.0 L210.2,193.0 L211.8,192.7 L213.3,191.0" fill="none" stroke="#3c3c3c" stroke-width="0.9" stroke-linejoin="round"/>
<path d="M37.0,181.0 L38.5,182.6 L40.0,183.9 L41.6,184.9 L43.1,185.4 L44.6,185.5 L46.1,185.2 L47.6,184.5 L49.1,183.3 L50.7,181.9 L52.2,180.1 L53.7,178.2 L55.2,176.1 L56.7,173.9 L58.3,171.7 L59.8,169.7 L61.3,167.8 L62.8,168.7 L64.4,169.0 L65.9,168.8 L67.5,168.0 L69.0,166.8 L70.5,165.2 L72.1,163.2 L73.6,161.1 L75.1,158.8 L76.7,156.7 L78.2,154.7 L79.8,153.0 L81.3,151.6 L82.8,150.7 L84.3,150.3 L85.8,150.6 L87.3,151.6 L88.8,153.1 L90.3,155.2 L91.8,157.8 L93.3,160.7 L94.9,163.9 L96.4,167.2 L97.9,170.5 L99.4,173.7 L100.9,176.6 L102.4,179.2 L103.9,181.3 L105.4,182.9 L106.9,181.4 L108.4,179.5 L109.9,177.3 L111.4,174.8 L112.9,172.2 L114.4,169.4 L115.9,166.6 L117.4,163.9 L119.0,161.3 L120.5,159.0 L122.0,156.9 L123.5,155.2 L125.0,154.0 L126.5,153.1 L128.0,152.8 L129.5,152.9 L131.0,153.5 L132.5,154.6 L134.0,153.6 L135.5,153.1 L137.1,153.4 L138.6,154.3 L140.1,155.8 L141.6,157.9 L143.1,160.4 L144.7,163.4 L146.2,166.6 L147.7,169.9 L149.2,173.3 L150.7,176.5 L152.2,179.5 L153.8,182.2 L155.3,184.4 L156.8,186.0 L158.3,188.1 L159.8,190.3 L161.3,192.5 L162.9,194.5 L164.4,195.9 L165.9,195.4 L167.4,195.1 L168.9,195.0 L170.4,195.0 L172.0,195.1 L173.5,195.4 L175.0,195.9 L176.5,194.6 L178.0,195.5 L179.6,195.8 L181.1,195.6 L182.6,194.7 L184.2,193.3 L185.7,191.4 L187.2,189.0 L188.8,186.3 L190.3,183.4 L191.8,180.3 L193.3,177.3 L194.9,174.3 L196.4,171.6 L197.9,169.2 L199.5,167.3 L201.0,165.8 L202.5,163.1 L204.1,160.8 L205.6,159.3 L207.2,158.9 L208.7,159.4 L210.2,161.0 L211.8,163.4 L213.3,166.1" fill="none" stroke="#3c3c3c" stroke-width="0.9" stroke-linejoin="round"/>
<path d="M37.0,185.6 L38.5,185.8 L40.0,186.1 L41.6,186.7 L43.1,187.3 L44.6,188.1 L46.1,189.0 L47.6,189.9 L49.1,190.8 L50.7,191.7 L52.2,192.5 L53.7,193.3 L55.2,193.9 L56.7,194.4 L58.3,194.8 L59.8,195.0 L61.3,194.9 L62.8,195.8 L64.4,195.4 L65.9,195.3 L67.5,195.3 L69.0,195.6 L70.5,195.9 L72.1,193.8 L73.6,191.2 L75.1,188.4 L76.7,185.4 L78.2,182.5 L79.8,179.8 L81.3,177.5 L82.8,177.0 L84.3,176.2 L85.8,174.9 L87.3,173.4 L88.8,171.6 L90.3,169.6 L91.8,167.4 L93.3,165.3 L94.9,163.2 L96.4,161.2 L97.9,159.5 L99.4,158.0 L100.9,156.8 L102.4,156.0 L103.9,155.7 L105.4,155.7 L106.9,157.1 L108.4,158.6 L109.9,160.3 L111.4,161.9 L112.9,163.6 L114.4,165.2 L115.9,166.8 L117.4,168.1 L119.0,169.3 L120.5,170.3 L122.0,171.0 L123.5,171.4 L125.0,171.5 L126.5,171.4 L128.0,170.9 L129.5,170.2 L131.0,169.2 L132.5,168.0 L134.0,169.1 L135.5,169.9 L137.1,170.3 L138.6,170.4 L140.1,170.0 L141.6,169.3 L143.1,168.2 L144.7,166.8 L146.2,165.2 L147.7,163.3 L149.2,161.4 L150.7,159.4 L152.2,157.5 L153.8,155.6 L155.3,154.0 L156.8,152.5 L158.3,151.1 L159.8,149.5 L161.3,148.0 L162.9,146.5 L164.4,146.2 L165.9,146.5 L167.4,146.7 L168.9,146.8 L170.4,146.8 L172.0,146.7 L173.5,146.5 L175.0,146.2 L176.5,146.7 L178.0,146.2 L179.6,146.6 L181.1,148.0 L182.6,150.2 L184.2,153.2 L185.7,156.9 L187.2,161.1 L188.8,165.7 L190.3,170.4 L191.8,175.2 L193.3,179.8 L194.9,184.0 L196.4,187.8 L197.9,190.8 L199.5,193.1 L201.0,194.5 L202.5,192.3 L204.1,189.3 L205.6,185.8 L207.2,182.4 L208.7,179.6 L210.2,177.9 L211.8,177.5 L213.3,178.5" fill="none" stroke="#3c3c3c" stroke-width="0.9" stroke-linejoin="round"/>
<path d="M37.0,150.4 L38.5,152.2 L40.0,154.4 L41.6,156.9 L43.1,159.6 L44.6,162.3 L46.1,165.1 L47.6,167.7 L49.1,170.1 L50.7,172.2 L52.2,174.0 L53.7,175.2 L55.2,176.0 L56.7,176.2 L58.3,175.9 L59.8,175.0 L61.3,173.7 L62.8,173.0 L64.4,171.9 L65.9,170.4 L67.5,168.5 L69.0,166.5 L70.5,164.3 L72.1,162.2 L73.6,160.2 L75.1,158.5 L76.7,157.2 L78.2,156.3 L79.8,155.9 L81.3,156.0 L82.8,157.7 L84.3,159.4 L85.8,161.0 L87.3,162.5 L88.8,163.8 L90.3,165.0 L91.8,165.8 L93.3,166.3 L94.9,166.6 L96.4,166.5 L97.9,166.0 L99.4,165.3 L100.9,164.3 L102.4,163.0 L103.9,161.6 L105.4,160.0 L106.9,159.8 L108.4,159.5 L109.9,158.8 L111.4,157.9 L112.9,156.8 L114.4,155.5 L115.9,154.1 L117.4,152.6 L119.0,151.1 L120.5,149.5 L122.0,148.0 L123.5,146.6 L125.0,145.3 L126.5,144.2 L128.0,143.3 L129.5,142.7 L131.0,142.3 L132.5,142.1 L134.0,142.7 L135.5,144.2 L137.1,146.6 L138.6,149.8 L140.1,153.6 L141.6,158.0 L143.1,162.6 L144.7,167.5 L146.2,172.3 L147.7,176.8 L149.2,181.1 L150.7,184.7 L152.2,187.7 L153.8,189.9 L155.3,191.2 L156.8,191.5 L158.3,191.2 L159.8,190.1 L161.3,188.3 L162.9,185.9 L164.4,183.0 L165.9,179.7 L167.4,176.4 L168.9,173.1 L170.4,170.1 L172.0,167.5 L173.5,165.5 L175.0,164.2 L176.5,163.7 L178.0,161.9 L179.6,160.2 L181.1,158.8 L182.6,157.6 L184.2,156.8 L185.7,156.4 L187.2,156.3 L188.8,156.7 L190.3,157.4 L191.8,158.4 L193.3,159.7 L194.9,161.3 L196.4,163.1 L197.9,165.0 L199.5,167.0 L201.0,168.9 L202.5,168.7 L204.1,169.0 L205.6,169.7 L207.2,170.8 L208.7,172.1 L210.2,173.4 L211.8,174.5 L213.3,175.2" fill="none" stroke="#3c3c3c" stroke-width="0.9" stroke-linejoin="round"/>
<path d="M37.0,147.0 L38.5,147.2 L40.0,147.2 L41.6,147.2 L43.1,147.1 L44.6,146.8 L46.1,146.5 L47.6,146.2 L49.1,145.7 L50.7,145.2 L52.2,144.7 L53.7,144.2 L55.2,143.7 L56.7,143.2 L58.3,142.8 L59.8,142.5 L61.3,142.2 L62.8,144.2 L64.4,147.3 L65.9,151.4 L67.5,156.2 L69.0,161.4 L70.5,166.7 L72.1,171.9 L73.6,176.6 L75.1,180.6 L76.7,183.5 L78.2,185.3 L79.8,185.9 L81.3,185.2 L82.8,183.2 L84.3,180.6 L85.8,177.4 L87.3,173.7 L88.8,169.6 L90.3,165.4 L91.8,161.1 L93.3,157.0 L94.9,153.2 L96.4,149.9 L97.9,147.1 L99.4,145.0 L100.9,143.7 L102.4,143.2 L103.9,143.5 L105.4,144.7 L106.9,145.0 L108.4,145.7 L109.9,146.5 L111.4,147.6 L112.9,148.9 L114.4,150.4 L115.9,152.0 L117.4,153.6 L119.0,155.2 L120.5,156.8 L122.0,158.3 L123.5,159.7 L125.0,160.9 L126.5,161.9 L128.0,162.7 L129.5,163.2 L131.0,163.4 L132.5,163.4 L134.0,162.6 L135.5,162.2 L137.1,162.2 L138.6,162.6 L140.1,163.4 L141.6,164.5 L143.1,166.0 L144.7,167.8 L146.2,169.7 L147.7,171.8 L149.2,173.9 L150.7,175.9 L152.2,177.9 L153.8,179.6 L155.3,181.1 L156.8,182.3 L158.3,181.1 L159.8,179.7 L161.3,178.2 L162.9,176.8 L164.4,175.4 L165.9,174.1 L167.4,173.1 L168.9,172.4 L170.4,172.0 L172.0,171.9 L173.5,172.2 L175.0,172.9 L176.5,173.8 L178.0,174.8 L179.6,175.5 L181.1,175.9 L182.6,176.0 L184.2,175.8 L185.7,175.3 L187.2,174.5 L188.8,173.5 L190.3,172.3 L191.8,170.9 L193.3,169.4 L194.9,167.8 L196.4,166.3 L197.9,164.8 L199.5,163.5 L201.0,162.3 L202.5,162.7 L204.1,163.8 L205.6,165.4 L207.2,167.3 L208.7,169.1 L210.2,170.6 L211.8,171.6 L213.3,171.9" fill="none" stroke="#3c3c3c" stroke-width="0.9" stroke-linejoin="round"/>
<path d="M37.0,169.7 L38.5,170.0 L40.0,170.5 L41.6,171.2 L43.1,172.1 L44.6,173.2 L46.1,174.4 L47.6,175.7 L49.1,177.0 L50.7,178.3 L52.2,179.5 L53.7,180.6 L55.2,181.6 L56.7,182.3 L58.3,182.8 L59.8,183.0 L61.3,183.0 L62.8,183.1 L64.4,183.3 L65.9,183.8 L67.5,184.5 L69.0,185.3 L70.5,186.2 L72.1,187.2 L73.6,188.2 L75.1,189.1 L76.7,189.9 L78.2,190.6 L79.8,191.0 L81.3,191.3 L82.8,192.7 L84.3,193.5 L85.8,193.7 L87.3,193.2 L88.8,192.0 L90.3,190.2 L91.8,187.9 L93.3,185.2 L94.9,182.1 L96.4,178.8 L97.9,175.4 L99.4,172.1 L100.9,168.9 L102.4,166.0 L103.9,163.5 L105.4,161.5 L106.9,162.3 L108.4,163.2 L109.9,164.2 L111.4,165.3 L112.9,166.4 L114.4,167.6 L115.9,168.7 L117.4,169.7 L119.0,170.7 L120.5,171.6 L122.0,172.3 L123.5,172.8 L125.0,173.2 L126.5,173.3 L128.0,173.3 L129.5,173.0 L131.0,172.6 L132.5,172.0 L134.0,173.4 L135.5,174.8 L137.1,176.1 L138.6,177.2 L140.1,178.1 L141.6,178.7 L143.1,179.1 L144.7,179.2 L146.2,178.9 L147.7,178.5 L149.2,177.7 L150.7,176.7 L152.2,175.5 L153.8,174.2 L155.3,172.8 L156.8,171.3 L158.3,173.4 L159.8,175.4 L161.3,177.2 L162.9,178.6 L164.4,179.7 L165.9,180.2 L167.4,180.2 L168.9,179.8 L170.4,178.8 L172.0,177.4 L173.5,175.7 L175.0,173.7 L176.5,171.6 L178.0,170.8 L179.6,170.1 L181.1,169.7 L182.6,169.5 L184.2,169.6 L185.7,170.0 L187.2,170.5 L188.8,171.3 L190.3,172.3 L191.8,173.4 L193.3,174.6 L194.9,175.9 L196.4,177.2 L197.9,178.5 L199.5,179.6 L201.0,180.6 L202.5,180.6 L204.1,179.7 L205.6,178.0 L207.2,175.8 L208.7,173.4 L210.2,171.2 L211.8,169.5 L213.3,168.6" fill="none" stroke="#3c3c3c" stroke-width="0.9" stroke-linejoin="round"/>
<path d="M37.0,192.6 L38.5,193.7 L40.0,194.6 L41.6,195.3 L43.1,195.8 L44.6,196.0 L46.1,195.9 L47.6,196.0 L49.1,195.7 L50.7,195.0 L52.2,194.2 L53.7,193.2 L55.2,192.1 L56.7,191.0 L58.3,189.7 L59.8,188.5 L61.3,187.4 L62.8,188.7 L64.4,188.9 L65.9,187.9 L67.5,185.7 L69.0,182.5 L70.5,178.6 L72.1,174.0 L73.6,169.1 L75.1,164.1 L76.7,159.4 L78.2,155.3 L79.8,151.9 L81.3,149.4 L82.8,148.0 L84.3,146.5 L85.8,144.9 L87.3,143.4 L88.8,142.0 L90.3,142.4 L91.8,142.8 L93.3,143.0 L94.9,143.2 L96.4,143.3 L97.9,143.3 L99.4,143.3 L100.9,143.1 L102.4,142.8 L103.9,142.5 L105.4,141.5 L106.9,142.4 L108.4,143.6 L109.9,145.0 L111.4,146.6 L112.9,148.4 L114.4,150.3 L115.9,152.1 L117.4,154.0 L119.0,155.8 L120.5,157.5 L122.0,158.9 L123.5,160.2 L125.0,161.2 L126.5,161.9 L128.0,162.2 L129.5,162.3 L131.0,162.0 L132.5,161.4 L134.0,161.9 L135.5,162.2 L137.1,162.2 L138.6,162.0 L140.1,161.5 L141.6,160.7 L143.1,159.8 L144.7,158.7 L146.2,157.5 L147.7,156.2 L149.2,154.9 L150.7,153.6 L152.2,152.4 L153.8,151.3 L155.3,150.4 L156.8,149.6 L158.3,148.0 L159.8,146.8 L161.3,146.0 L162.9,146.1 L164.4,146.1 L165.9,146.2 L167.4,147.2 L168.9,148.6 L170.4,150.3 L172.0,152.2 L173.5,154.2 L175.0,156.2 L176.5,158.0 L178.0,159.4 L179.6,160.6 L181.1,161.6 L182.6,162.2 L184.2,162.5 L185.7,162.5 L187.2,162.2 L188.8,161.5 L190.3,160.5 L191.8,159.3 L193.3,157.9 L194.9,156.3 L196.4,154.6 L197.9,152.9 L199.5,151.2 L201.0,149.7 L202.5,154.4 L204.1,160.6 L205.6,167.5 L207.2,173.9 L208.7,178.9 L210.2,181.7 L211.8,181.9 L213.3,179.5" fill="none" stroke="#3c3c3c" stroke-width="0.9" stroke-linejoin="round"/>
<path d="M37.0,149.2 L38.5,149.0 L40.0,149.6 L41.6,151.1 L43.1,153.4 L44.6,156.3 L46.1,159.9 L47.6,163.8 L49.1,168.1 L50.7,172.5 L52.2,176.8 L53.7,180.9 L55.2,184.7 L56.7,187.9 L58.3,190.5 L59.8,192.4 L61.3,193.4 L62.8,191.5 L64.4,188.9 L65.9,185.6 L67.5,182.0 L69.0,178.1 L70.5,174.2 L72.1,170.6 L73.6,167.5 L75.1,165.0 L76.7,163.2 L78.2,162.4 L79.8,162.5 L81.3,163.5 L82.8,162.8 L84.3,162.1 L85.8,161.5 L87.3,161.0 L88.8,160.6 L90.3,160.4 L91.8,160.2 L93.3,160.2 L94.9,160.4 L96.4,160.6 L97.9,161.0 L99.4,161.5 L100.9,162.1 L102.4,162.8 L103.9,163.5 L105.4,164.2 L106.9,165.2 L108.4,166.7 L109.9,168.5 L111.4,170.7 L112.9,173.2 L114.4,175.8 L115.9,178.6 L117.4,181.5 L119.0,184.2 L120.5,186.9 L122.0,189.3 L123.5,191.4 L125.0,193.2 L126.5,194.6 L128.0,195.5 L129.5,196.0 L131.0,195.9 L132.5,195.4 L134.0,193.4 L135.5,191.4 L137.1,189.4 L138.6,187.4 L140.1,185.7 L141.6,184.1 L143.1,182.8 L144.7,181.9 L146.2,181.3 L147.7,181.1 L149.2,181.4 L150.7,182.0 L152.2,182.9 L153.8,184.2 L155.3,185.8 L156.8,187.6 L158.3,187.4 L159.8,186.2 L161.3,184.1 L162.9,181.3 L164.4,177.8 L165.9,173.9 L167.4,169.9 L168.9,165.9 L170.4,162.2 L172.0,159.0 L173.5,156.5 L175.0,154.8 L176.5,154.1 L178.0,154.0 L179.6,154.1 L181.1,154.5 L182.6,155.2 L184.2,156.1 L185.7,157.1 L187.2,158.3 L188.8,159.6 L190.3,161.0 L191.8,162.3 L193.3,163.6 L194.9,164.8 L196.4,165.8 L197.9,166.6 L199.5,167.2 L201.0,167.6 L202.5,164.0 L204.1,161.4 L205.6,160.0 L207.2,160.0 L208.7,161.6 L210.2,164.3 L211.8,167.9 L213.3,171.8" fill="none" stroke="#3c3c3c" stroke-width="0.9" stroke-linejoin="round"/>
<path d="M37.0,155.9 L38.5,154.3 L40.0,153.1 L41.6,152.4 L43.1,152.3 L44.6,152.6 L46.1,153.5 L47.6,154.8 L49.1,156.6 L50.7,158.7 L52.2,161.1 L53.7,163.6 L55.2,166.3 L56.7,168.9 L58.3,171.4 L59.8,173.7 L61.3,175.7 L62.8,176.9 L64.4,177.9 L65.9,178.6 L67.5,179.0 L69.0,179.0 L70.5,178.6 L72.1,177.9 L73.6,176.8 L75.1,175.6 L76.7,174.1 L78.2,172.6 L79.8,171.1 L81.3,169.7 L82.8,168.5 L84.3,166.7 L85.8,164.4 L87.3,161.8 L88.8,158.8 L90.3,155.6 L91.8,152.4 L93.3,149.2 L94.9,146.2 L96.4,143.5 L97.9,142.2 L99.4,142.8 L100.9,143.2 L102.4,143.4 L103.9,143.4 L105.4,138.0 L106.9,137.1 L108.4,137.2 L109.9,138.1 L111.4,139.9 L112.9,142.5 L114.4,145.8 L115.9,149.8 L117.4,154.3 L119.0,159.1 L120.5,164.2 L122.0,169.3 L123.5,174.4 L125.0,179.2 L126.5,183.6 L128.0,187.5 L129.5,190.8 L131.0,193.4 L132.5,195.1 L134.0,194.7 L135.5,194.1 L137.1,193.4 L138.6,192.6 L140.1,191.6 L141.6,190.7 L143.1,189.7 L144.7,188.7 L146.2,187.8 L147.7,187.0 L149.2,186.3 L150.7,185.7 L152.2,185.4 L153.8,185.2 L155.3,185.2 L156.8,185.4 L158.3,187.5 L159.8,189.8 L161.3,192.0 L162.9,194.2 L164.4,196.0 L165.9,195.5 L167.4,195.2 L168.9,195.0 L170.4,195.0 L172.0,195.1 L173.5,195.4 L175.0,195.9 L176.5,194.6 L178.0,195.4 L179.6,195.4 L181.1,194.5 L182.6,192.7 L184.2,190.3 L185.7,187.1 L187.2,183.4 L188.8,179.3 L190.3,174.9 L191.8,170.5 L193.3,166.2 L194.9,162.1 L196.4,158.4 L197.9,155.3 L199.5,152.9 L201.0,151.2 L202.5,149.7 L204.1,149.0 L205.6,149.3 L207.2,150.4 L208.7,152.3 L210.2,154.7 L211.8,157.1 L213.3,159.3" fill="none" stroke="#3c3c3c" stroke-width="0.9" stroke-linejoin="round"/>
<path d="M36.5,60.0 C37.2,58.0 39.4,52.0 41.0,48.0 C42.6,44.0 44.3,39.8 46.0,36.0 C47.7,32.2 49.3,28.7 51.0,25.0 C52.7,21.3 54.6,17.3 56.0,14.0 C57.4,10.7 58.9,6.5 59.5,5.0" fill="none" stroke="#3c3c3c" stroke-width="0.9" stroke-linejoin="round"/>
<path d="M40.0,62.0 C40.8,60.0 43.3,54.0 45.0,50.0 C46.7,46.0 48.3,42.0 50.0,38.0 C51.7,34.0 53.5,29.7 55.0,26.0 C56.5,22.3 57.8,19.0 59.0,16.0 C60.2,13.0 61.5,9.3 62.0,8.0" fill="none" stroke="#3c3c3c" stroke-width="0.9" stroke-linejoin="round"/>
<path d="M44.0,56.0 C44.7,54.3 46.7,49.3 48.0,46.0 C49.3,42.7 50.7,39.3 52.0,36.0 C53.3,32.7 54.7,29.2 56.0,26.0 C57.3,22.8 58.8,19.7 60.0,17.0 C61.2,14.3 62.5,11.2 63.0,10.0" fill="none" stroke="#3c3c3c" stroke-width="0.9" stroke-linejoin="round"/>
<path d="M36.5,14.0 C37.1,14.7 38.8,16.7 40.0,18.0 C41.2,19.3 42.7,20.7 44.0,22.0 C45.3,23.3 46.7,24.7 48.0,26.0 C49.3,27.3 50.7,28.8 52.0,30.0 C53.3,31.2 55.3,32.5 56.0,33.0" fill="none" stroke="#3c3c3c" stroke-width="0.9" stroke-linejoin="round"/>
<path d="M36.5,30.0 C37.1,31.3 38.8,35.8 40.0,38.0 C41.2,40.2 42.7,41.7 44.0,43.0 C45.3,44.3 46.7,45.3 48.0,46.0 C49.3,46.7 50.7,47.2 52.0,47.0 C53.3,46.8 54.7,46.2 56.0,45.0 C57.3,43.8 59.3,40.8 60.0,40.0" fill="none" stroke="#3c3c3c" stroke-width="0.9" stroke-linejoin="round"/>
<path d="M36.5,42.0 C36.9,43.0 37.9,46.0 39.0,48.0 C40.1,50.0 41.5,52.3 43.0,54.0 C44.5,55.7 46.3,57.2 48.0,58.0 C49.7,58.8 51.3,59.3 53.0,59.0 C54.7,58.7 56.5,57.5 58.0,56.0 C59.5,54.5 61.3,51.0 62.0,50.0" fill="none" stroke="#3c3c3c" stroke-width="0.9" stroke-linejoin="round"/>
<path d="M124.0,31.0 C125.0,31.2 128.2,31.8 130.0,32.4 C131.8,33.0 133.3,34.1 135.0,34.9 C136.7,35.7 138.6,37.4 140.0,37.4 C141.4,37.4 142.2,36.1 143.7,34.9 C145.1,33.6 146.8,31.1 148.7,29.9 C150.6,28.6 153.0,27.6 154.9,27.4 C156.8,27.2 158.2,28.9 159.9,28.7 C161.6,28.5 163.2,26.2 164.9,26.2 C166.6,26.2 168.2,27.9 169.9,28.7 C171.6,29.5 173.9,30.4 175.0,31.2 C176.1,32.0 174.9,33.6 176.2,33.7 C177.4,33.8 180.4,33.1 182.5,31.8 C184.6,30.6 186.8,28.1 188.7,26.2 C190.6,24.3 191.8,20.8 193.7,20.6 C195.6,20.4 198.0,23.9 199.9,25.0 C201.8,26.1 202.7,27.2 205.0,27.0 C207.3,26.8 212.5,24.5 214.0,24.0" fill="none" stroke="#3c3c3c" stroke-width="0.9" stroke-linejoin="round"/>
<path d="M132.0,70.0 C132.9,68.3 136.0,63.1 137.5,59.9 C139.0,56.7 139.8,53.9 141.0,51.0 C142.2,48.1 143.5,45.9 145.0,42.4 C146.5,38.9 148.3,34.0 150.0,29.9 C151.7,25.8 153.5,21.2 154.9,17.5 C156.3,13.8 157.8,9.9 158.7,7.5 C159.5,5.1 159.8,3.8 160.0,3.0" fill="none" stroke="#3c3c3c" stroke-width="0.9" stroke-linejoin="round"/>
<path d="M135.0,70.0 C135.8,68.3 138.5,63.1 140.0,59.9 C141.5,56.7 142.8,53.7 144.0,51.0 C145.2,48.3 145.9,47.4 147.5,43.7 C149.1,40.0 152.1,32.6 153.7,28.7 C155.3,24.8 155.9,22.9 157.0,20.0 C158.1,17.1 159.2,13.7 160.0,11.0 C160.8,8.3 161.7,5.2 162.0,4.0" fill="none" stroke="#3c3c3c" stroke-width="0.9" stroke-linejoin="round"/>
<path d="M143.0,8.7 C143.5,8.7 145.0,7.2 146.2,8.7 C147.4,10.2 148.6,14.8 150.0,17.5 C151.4,20.2 153.5,22.5 154.9,25.0 C156.3,27.5 157.4,30.1 158.7,32.4 C159.9,34.7 160.9,36.6 162.4,38.7 C163.9,40.8 165.7,43.5 167.4,44.9 C169.1,46.3 170.7,47.2 172.4,47.4 C174.1,47.6 175.4,46.6 177.5,46.0 C179.6,45.4 182.5,45.2 185.0,44.0 C187.5,42.8 191.2,39.6 192.4,38.7" fill="none" stroke="#3c3c3c" stroke-width="0.9" stroke-linejoin="round"/>
<path d="M158.7,23.7 C159.5,22.2 162.0,15.4 163.7,15.0 C165.4,14.6 166.8,19.8 168.7,21.2 C170.6,22.6 173.1,24.2 175.0,23.7 C176.9,23.2 178.3,19.9 180.0,18.0 C181.7,16.1 183.6,13.8 185.0,12.5 C186.4,11.2 187.5,9.6 188.7,10.0 C189.9,10.4 191.3,14.0 192.4,15.0 C193.5,16.0 193.7,16.7 195.0,16.0 C196.3,15.3 198.5,12.2 200.0,11.0 C201.5,9.8 203.3,9.1 204.0,8.7" fill="none" stroke="#3c3c3c" stroke-width="0.9" stroke-linejoin="round"/>
<path d="M157.0,35.0 C157.8,34.5 160.3,31.8 162.0,32.0 C163.7,32.2 165.7,35.9 167.4,36.2 C169.1,36.5 170.7,34.5 172.0,34.0 C173.3,33.5 174.5,33.6 175.0,33.5" fill="none" stroke="#3c3c3c" stroke-width="0.9" stroke-linejoin="round"/>
<path d="M172.0,5.0 C172.9,5.6 175.8,6.6 177.5,8.7 C179.2,10.8 180.8,14.0 182.5,17.5 C184.2,21.0 185.8,26.4 187.5,29.9 C189.2,33.4 190.8,36.8 192.4,38.7 C194.1,40.6 195.8,40.9 197.4,41.2 C199.0,41.5 200.1,40.7 201.8,40.5 C203.5,40.3 205.5,39.8 207.4,39.9 C209.3,40.0 211.6,40.9 213.0,41.2 C214.4,41.6 215.5,41.9 216.0,42.0" fill="none" stroke="#3c3c3c" stroke-width="0.9" stroke-linejoin="round"/>
<path d="M170.0,42.4 C171.2,41.6 175.0,38.8 177.5,37.4 C180.0,36.0 182.9,35.3 185.0,33.7 C187.1,32.1 188.8,29.7 190.0,28.0 C191.2,26.3 191.4,25.4 192.4,23.7 C193.4,22.0 194.7,19.6 196.0,18.0 C197.3,16.4 199.3,14.7 200.0,14.0" fill="none" stroke="#3c3c3c" stroke-width="0.9" stroke-linejoin="round"/>
<path d="M201.8,40.5 C202.5,42.1 204.4,46.9 206.2,49.9 C208.0,52.9 210.9,56.6 212.4,58.6 C213.9,60.6 214.6,61.4 215.0,62.0" fill="none" stroke="#3c3c3c" stroke-width="0.9" stroke-linejoin="round"/>
<path d="M201.8,40.5 C202.5,38.7 204.6,33.1 206.2,29.9 C207.8,26.7 209.6,23.7 211.1,21.2 C212.6,18.7 214.3,16.0 215.0,15.0" fill="none" stroke="#3c3c3c" stroke-width="0.9" stroke-linejoin="round"/>
<path d="M170.0,38.7 C171.0,39.1 174.1,40.4 176.2,41.2 C178.3,42.0 180.4,43.5 182.5,43.7 C184.6,43.9 186.6,42.8 188.7,42.4 C190.8,42.0 192.7,41.5 194.9,41.2 C197.1,40.9 200.7,40.6 201.8,40.5" fill="none" stroke="#3c3c3c" stroke-width="0.9" stroke-linejoin="round"/>
<path d="M188.7,60.0 C189.7,58.7 192.8,54.7 194.9,52.4 C197.0,50.1 199.3,48.1 201.2,46.2 C203.1,44.3 204.2,42.9 206.2,41.2 C208.2,39.5 211.9,37.0 213.0,36.2" fill="none" stroke="#3c3c3c" stroke-width="0.9" stroke-linejoin="round"/>
<path d="M57.0,40.0 C57.5,39.1 58.9,37.0 60.0,34.9 C61.1,32.8 62.5,29.7 63.7,27.4 C65.0,25.1 66.0,20.8 67.5,21.2 C69.0,21.6 71.0,28.0 72.5,29.9 C74.0,31.8 75.0,32.4 76.2,32.4 C77.5,32.4 78.7,31.1 80.0,30.0 C81.3,28.9 82.7,27.3 84.0,26.0 C85.3,24.7 87.3,22.7 88.0,22.0" fill="none" stroke="#3c3c3c" stroke-width="0.9" stroke-linejoin="round"/>
<path d="M58.0,36.0 C59.0,35.6 62.1,34.1 63.7,33.7 C65.3,33.3 66.0,33.1 67.5,33.7 C69.0,34.3 70.8,36.1 72.5,37.4 C74.2,38.6 76.0,40.4 77.5,41.2 C79.0,42.0 80.1,43.0 81.8,42.4 C83.5,41.8 85.4,39.3 87.4,37.4 C89.4,35.5 91.6,32.6 93.7,31.2 C95.8,29.8 98.0,29.3 99.9,28.7 C101.8,28.1 104.2,27.7 105.0,27.5" fill="none" stroke="#3c3c3c" stroke-width="0.9" stroke-linejoin="round"/>
<path d="M60.0,2.0 C60.4,2.9 61.2,4.9 62.5,7.5 C63.8,10.1 66.0,16.7 67.5,17.5 C69.0,18.3 69.8,11.2 71.2,12.5 C72.7,13.8 74.6,24.2 76.2,25.0 C77.8,25.8 79.1,20.0 80.6,17.5 C82.1,15.0 83.8,12.1 85.0,10.0 C86.2,7.9 87.5,5.8 88.0,5.0" fill="none" stroke="#3c3c3c" stroke-width="0.9" stroke-linejoin="round"/>
<path d="M75.0,3.0 C75.4,3.8 76.4,5.5 77.5,7.5 C78.6,9.5 80.3,12.3 81.8,15.0 C83.2,17.7 84.6,21.2 86.2,23.7 C87.8,26.2 89.5,29.1 91.2,29.9 C92.9,30.7 94.6,29.7 96.2,28.7 C97.8,27.7 99.6,24.9 101.1,23.7 C102.6,22.4 104.3,21.6 105.0,21.2" fill="none" stroke="#3c3c3c" stroke-width="0.9" stroke-linejoin="round"/>
<path d="M76.0,4.0 C76.5,4.6 77.6,6.1 78.7,7.5 C79.8,8.9 81.0,10.8 82.4,12.5 C83.9,14.2 85.7,16.1 87.4,17.5 C89.1,18.9 90.7,21.6 92.4,21.2 C94.1,20.8 95.7,16.9 97.4,15.0 C99.1,13.1 101.1,11.3 102.4,10.0 C103.7,8.7 104.6,7.5 105.0,7.0" fill="none" stroke="#3c3c3c" stroke-width="0.9" stroke-linejoin="round"/>
<path d="M85.0,4.0 C85.4,4.6 86.4,6.3 87.4,7.5 C88.4,8.7 89.9,9.5 91.2,11.2 C92.5,12.9 94.0,15.8 95.0,17.5 C96.0,19.2 96.4,21.4 97.4,21.2 C98.4,21.0 99.8,17.6 101.1,16.2 C102.4,14.8 104.3,13.1 105.0,12.5" fill="none" stroke="#3c3c3c" stroke-width="0.9" stroke-linejoin="round"/>
<path d="M78.0,38.0 C78.7,37.7 80.6,36.7 82.4,36.2 C84.2,35.7 86.6,35.0 88.7,35.0 C90.8,35.0 93.0,35.6 94.9,36.2 C96.8,36.8 98.2,38.1 99.9,38.7 C101.6,39.3 104.2,39.8 105.0,40.0" fill="none" stroke="#3c3c3c" stroke-width="0.9" stroke-linejoin="round"/>
<path d="M90.0,35.0 C90.6,35.6 92.5,37.5 93.7,38.7 C94.9,39.9 96.2,40.8 97.4,42.4 C98.6,44.0 99.8,46.5 101.1,48.6 C102.4,50.7 104.3,53.9 105.0,55.0" fill="none" stroke="#3c3c3c" stroke-width="0.9" stroke-linejoin="round"/>
<path d="M60.0,60.0 C60.8,59.6 63.3,58.7 65.0,57.4 C66.7,56.1 68.3,54.3 70.0,52.4 C71.7,50.5 73.3,48.1 75.0,46.2 C76.7,44.3 78.3,42.5 80.0,41.2 C81.7,40.0 83.3,39.2 85.0,38.7 C86.7,38.2 88.3,38.0 90.0,38.0 C91.7,38.0 94.2,38.4 95.0,38.5" fill="none" stroke="#3c3c3c" stroke-width="0.9" stroke-linejoin="round"/>
</g>
<line x1="37.1" y1="86.2" x2="213.3" y2="86.2" stroke="#e7828a" stroke-width="1.3" stroke-dasharray="3.8 3.3" stroke-dashoffset="-0.7"/>
<line x1="37.1" y1="119.4" x2="213.3" y2="119.4" stroke="#e0606a" stroke-width="1.3" stroke-dasharray="3.8 3.3" stroke-dashoffset="-0.7"/>
<line x1="53.5" y1="71.3" x2="53.5" y2="82.5" stroke="#e03a45" stroke-width="0.85"/><path d="M51.3,80.3 L53.5,85.8 L55.7,80.3 L53.5,81.675 Z" fill="#e03a45"/>
<line x1="53.5" y1="135" x2="53.5" y2="123.1" stroke="#e03a45" stroke-width="0.85"/><path d="M51.3,125.3 L53.5,119.8 L55.7,125.3 L53.5,123.925 Z" fill="#e03a45"/>
<text x="50.3" y="108.1" font-size="11.2" fill="#e03a45">0.79eV</text>
<line x1="61.3" y1="178.9" x2="61.3" y2="181.9" stroke="#222" stroke-width="1"/>
<line x1="81.3" y1="178.9" x2="81.3" y2="181.9" stroke="#222" stroke-width="1"/>
<line x1="105.4" y1="178.9" x2="105.4" y2="181.9" stroke="#222" stroke-width="1"/>
<line x1="132.5" y1="178.9" x2="132.5" y2="181.9" stroke="#222" stroke-width="1"/>
<line x1="157.0" y1="178.9" x2="157.0" y2="181.9" stroke="#222" stroke-width="1"/>
<line x1="176.5" y1="178.9" x2="176.5" y2="181.9" stroke="#222" stroke-width="1"/>
<line x1="201.0" y1="178.9" x2="201.0" y2="181.9" stroke="#222" stroke-width="1"/>
<rect x="37.1" y="6.2" width="176.20" height="175.70" fill="none" stroke="#333" stroke-width="1.6"/>
<text x="33.70" y="9.90" font-size="12.2" text-anchor="end" font-weight="normal" font-style="normal" fill="#1a1a1a" >2</text>
<text x="33.70" y="54.00" font-size="12.2" text-anchor="end" font-weight="normal" font-style="normal" fill="#1a1a1a" >1</text>
<text x="33.70" y="98.10" font-size="12.2" text-anchor="end" font-weight="normal" font-style="normal" fill="#1a1a1a" >0</text>
<text x="33.70" y="142.20" font-size="12.2" text-anchor="end" font-weight="normal" font-style="normal" fill="#1a1a1a" >-1</text>
<text x="33.70" y="186.30" font-size="12.2" text-anchor="end" font-weight="normal" font-style="normal" fill="#1a1a1a" >-2</text>
<rect x="270.9" y="6.2" width="175.70" height="175.70" fill="#e0f4f8"/>
<line x1="310.1" y1="6.2" x2="310.1" y2="181.9" stroke="#88b6d8" stroke-width="1.05" stroke-dasharray="4 2 1 2" stroke-dashoffset="1.4"/>
<line x1="324.8" y1="6.2" x2="324.8" y2="181.9" stroke="#88b6d8" stroke-width="1.05" stroke-dasharray="4 2 1 2" stroke-dashoffset="1.4"/>
<line x1="365.6" y1="6.2" x2="365.6" y2="181.9" stroke="#88b6d8" stroke-width="1.05" stroke-dasharray="4 2 1 2" stroke-dashoffset="1.4"/>
<line x1="400.3" y1="6.2" x2="400.3" y2="181.9" stroke="#88b6d8" stroke-width="1.05" stroke-dasharray="4 2 1 2" stroke-dashoffset="1.4"/>
<line x1="428.3" y1="6.2" x2="428.3" y2="181.9" stroke="#88b6d8" stroke-width="1.05" stroke-dasharray="4 2 1 2" stroke-dashoffset="1.4"/>
<clipPath id="clipb"><rect x="270.9" y="6.2" width="175.70" height="175.70"/></clipPath>
<g clip-path="url(#clipb)">
<path d="M270.5,38.8 C270.8,37.7 271.3,34.6 272.0,32.0 C272.7,29.4 273.6,26.1 274.5,23.1 C275.4,20.1 276.8,15.2 277.7,14.1 C278.6,13.0 279.1,15.0 280.0,16.8 C280.9,18.6 282.1,24.1 283.1,25.0 C284.2,25.9 285.0,24.0 286.3,22.2 C287.6,20.4 289.7,16.4 290.9,14.1 C292.1,11.8 292.9,10.0 293.6,8.6 C294.4,7.2 294.8,6.8 295.4,5.9 C296.0,5.0 296.7,3.5 297.0,3.0" fill="none" stroke="#3c3c3c" stroke-width="0.9" stroke-linejoin="round"/>
<path d="M270.5,38.8 C271.6,37.7 275.4,33.8 277.3,32.2 C279.2,30.7 280.0,30.3 281.8,29.5 C283.6,28.7 285.8,28.6 288.0,27.5 C290.2,26.4 293.0,24.2 295.0,23.0 C297.0,21.8 298.1,21.9 300.0,20.4 C301.9,18.9 304.6,15.8 306.3,14.1 C308.0,12.4 308.7,11.5 310.0,10.0 C311.3,8.5 313.3,5.8 314.0,5.0" fill="none" stroke="#3c3c3c" stroke-width="0.9" stroke-linejoin="round"/>
<path d="M270.5,38.8 C271.4,38.3 274.1,36.8 276.0,36.0 C277.9,35.2 280.4,34.2 281.8,34.0 C283.2,33.8 283.5,34.1 284.5,35.0 C285.5,35.9 286.9,38.5 288.0,39.5 C289.1,40.5 289.5,41.1 291.0,41.3 C292.5,41.5 295.2,41.1 297.0,40.8 C298.8,40.5 300.3,40.3 301.8,39.5 C303.3,38.7 304.6,37.4 306.0,36.0 C307.4,34.6 309.3,31.8 310.0,31.0" fill="none" stroke="#3c3c3c" stroke-width="0.9" stroke-linejoin="round"/>
<path d="M293.6,6.8 C294.2,8.0 296.0,12.1 297.2,14.1 C298.4,16.1 299.6,16.8 300.8,18.6 C302.0,20.4 303.1,22.3 304.5,25.0 C305.9,27.7 307.8,32.3 309.0,35.0 C310.2,37.7 310.8,39.0 312.0,41.0 C313.2,43.0 314.7,45.2 316.0,47.0 C317.3,48.8 319.3,51.2 320.0,52.0" fill="none" stroke="#3c3c3c" stroke-width="0.9" stroke-linejoin="round"/>
<path d="M270.5,39.5 C271.3,40.2 273.2,42.2 275.4,43.6 C277.6,45.0 281.3,46.6 283.6,47.7 C285.9,48.8 287.5,49.4 289.0,50.4 C290.5,51.4 291.0,53.6 292.4,53.8 C293.8,54.0 295.5,53.3 297.2,51.8 C298.9,50.3 301.1,46.6 302.7,45.0 C304.3,43.4 305.3,42.6 306.7,42.2 C308.1,41.9 309.4,43.3 310.8,42.9 C312.2,42.5 313.5,41.5 315.0,40.0 C316.5,38.5 318.3,36.3 320.0,34.0 C321.7,31.7 323.3,28.7 325.0,26.0 C326.7,23.3 329.2,19.3 330.0,18.0" fill="none" stroke="#3c3c3c" stroke-width="0.9" stroke-linejoin="round"/>
<path d="M270.5,40.0 C270.9,41.7 271.6,46.6 272.7,50.4 C273.8,54.2 275.4,59.4 276.8,62.7 C278.2,66.0 279.8,68.6 280.9,70.1 C282.0,71.6 282.5,72.1 283.6,71.5 C284.7,70.9 286.3,68.6 287.7,66.7 C289.1,64.8 290.7,61.2 291.8,59.9 C292.9,58.5 293.4,59.3 294.5,58.6 C295.6,57.9 297.0,56.9 298.6,55.9 C300.2,54.9 302.0,53.1 304.0,52.4 C306.0,51.7 309.0,50.7 310.8,51.8 C312.6,52.9 313.5,57.0 315.0,59.0 C316.5,61.0 318.4,62.9 320.0,64.0 C321.6,65.1 323.0,65.5 324.5,65.5 C326.0,65.5 327.6,64.8 329.0,64.0 C330.4,63.2 331.6,61.9 333.0,61.0 C334.4,60.1 336.3,59.6 337.7,58.6 C339.1,57.6 340.0,55.2 341.1,55.2 C342.2,55.2 343.3,57.4 344.5,58.6 C345.7,59.9 347.1,61.2 348.5,62.7 C349.9,64.2 351.2,67.5 352.6,67.4 C354.0,67.3 355.6,64.6 357.0,62.0 C358.4,59.4 359.6,55.9 361.0,52.0 C362.4,48.1 364.8,40.9 365.6,38.7" fill="none" stroke="#3c3c3c" stroke-width="0.9" stroke-linejoin="round"/>
<path d="M270.5,39.5 C271.8,38.7 276.0,35.5 278.2,34.8 C280.4,34.1 282.0,34.2 283.6,35.4 C285.2,36.6 286.3,39.7 287.7,42.2 C289.1,44.7 290.7,48.8 291.8,50.4 C292.9,52.0 293.5,52.2 294.5,51.8 C295.5,51.4 296.8,49.5 298.0,48.0 C299.2,46.5 300.7,44.7 302.0,43.0 C303.3,41.3 304.7,40.2 306.0,38.0 C307.3,35.8 308.7,32.7 310.0,30.0 C311.3,27.3 313.3,23.3 314.0,22.0" fill="none" stroke="#3c3c3c" stroke-width="0.9" stroke-linejoin="round"/>
<path d="M270.5,39.8 C271.8,39.9 275.6,39.9 278.2,40.2 C280.8,40.5 283.1,41.3 286.3,41.6 C289.5,41.9 294.1,41.9 297.2,42.2 C300.3,42.5 301.4,43.0 305.0,43.6 C308.6,44.2 314.1,45.2 318.6,46.0 C323.1,46.8 328.6,47.7 332.2,48.4 C335.8,49.1 338.3,50.2 340.4,50.4 C342.5,50.6 342.6,50.4 345.0,49.5 C347.4,48.6 351.6,46.8 355.0,45.0 C358.4,43.2 363.8,39.8 365.6,38.7" fill="none" stroke="#3c3c3c" stroke-width="0.9" stroke-linejoin="round"/>
<path d="M306.0,10.0 C306.7,11.3 309.0,15.5 310.0,18.0 C311.0,20.5 311.0,22.6 312.0,25.0 C313.0,27.4 314.3,29.6 315.9,32.7 C317.4,35.8 319.3,39.5 321.3,43.6 C323.3,47.7 325.8,52.7 328.1,57.2 C330.4,61.7 332.8,67.0 334.9,70.8 C336.9,74.6 338.8,78.2 340.4,80.3 C342.0,82.3 342.9,83.1 344.5,83.1 C346.1,83.1 348.1,82.3 349.9,80.3 C351.7,78.2 353.5,75.3 355.3,70.8 C357.1,66.3 359.1,58.5 360.8,53.1 C362.5,47.8 364.8,41.1 365.6,38.7" fill="none" stroke="#3c3c3c" stroke-width="0.9" stroke-linejoin="round"/>
<path d="M305.0,30.0 C305.8,31.7 308.6,37.5 310.0,40.0 C311.4,42.5 311.9,42.8 313.2,45.0 C314.5,47.2 316.2,50.3 318.0,53.0 C319.8,55.7 322.0,59.3 324.0,61.3 C326.0,63.3 328.0,64.2 330.0,65.0 C332.0,65.8 334.0,65.5 336.0,66.0 C338.0,66.5 340.0,67.3 342.0,68.0 C344.0,68.7 346.2,70.2 348.0,70.0 C349.8,69.8 351.3,69.0 353.0,67.0 C354.7,65.0 355.9,62.7 358.0,58.0 C360.1,53.3 364.3,41.9 365.6,38.7" fill="none" stroke="#3c3c3c" stroke-width="0.9" stroke-linejoin="round"/>
<path d="M322.0,36.0 C323.7,37.3 328.7,41.6 332.0,44.0 C335.3,46.4 338.7,49.7 341.7,50.4 C344.7,51.1 347.3,49.2 350.0,48.0 C352.7,46.8 355.4,44.5 358.0,43.0 C360.6,41.5 364.3,39.4 365.6,38.7" fill="none" stroke="#3c3c3c" stroke-width="0.9" stroke-linejoin="round"/>
<path d="M300.0,46.0 C300.8,46.5 303.2,48.0 305.0,49.0 C306.8,50.0 309.4,50.8 310.8,51.8 C312.2,52.8 312.4,54.2 313.6,55.0 C314.8,55.8 316.6,56.5 318.0,56.4 C319.4,56.3 320.7,55.3 321.8,54.5 C322.9,53.7 323.1,53.1 324.5,51.8 C325.9,50.4 328.3,47.8 330.0,46.4 C331.7,45.0 332.8,44.5 334.5,43.6 C336.2,42.7 339.1,41.4 340.0,41.0" fill="none" stroke="#3c3c3c" stroke-width="0.9" stroke-linejoin="round"/>
<path d="M332.3,6.8 C332.8,8.2 333.9,12.3 335.0,15.0 C336.1,17.7 337.4,21.0 338.6,23.1 C339.8,25.2 340.6,26.4 342.2,27.7 C343.8,29.0 346.0,29.8 348.0,31.0 C350.0,32.2 352.1,33.8 354.0,34.9 C355.9,36.0 357.6,37.0 359.5,37.6 C361.4,38.2 364.6,38.5 365.6,38.7" fill="none" stroke="#3c3c3c" stroke-width="0.9" stroke-linejoin="round"/>
<path d="M325.0,40.0 C325.8,38.8 328.5,35.5 330.0,33.0 C331.5,30.5 332.9,27.4 334.0,24.9 C335.1,22.3 335.9,20.0 336.8,17.7 C337.7,15.4 338.6,13.1 339.5,11.0 C340.4,8.9 341.6,6.0 342.0,5.0" fill="none" stroke="#3c3c3c" stroke-width="0.9" stroke-linejoin="round"/>
<path d="M329.0,52.0 C329.8,50.8 332.2,47.3 334.0,45.0 C335.8,42.7 338.2,40.5 340.0,38.0 C341.8,35.5 343.3,32.7 345.0,30.0 C346.7,27.3 348.5,24.7 350.0,22.0 C351.5,19.3 352.8,16.7 354.0,14.0 C355.2,11.3 356.5,7.3 357.0,6.0" fill="none" stroke="#3c3c3c" stroke-width="0.9" stroke-linejoin="round"/>
<path d="M325.0,34.9 C325.8,34.1 328.2,31.5 330.0,30.0 C331.8,28.5 334.0,27.3 336.0,26.0 C338.0,24.7 340.0,23.7 342.0,22.0 C344.0,20.3 346.3,18.0 348.0,16.0 C349.7,14.0 351.3,11.0 352.0,10.0" fill="none" stroke="#3c3c3c" stroke-width="0.9" stroke-linejoin="round"/>
<path d="M356.7,6.0 C357.5,8.7 360.0,16.6 361.5,22.0 C363.0,27.4 364.9,35.9 365.6,38.7" fill="none" stroke="#3c3c3c" stroke-width="0.9" stroke-linejoin="round"/>
<path d="M365.6,38.7 C366.2,35.9 367.9,27.4 369.5,22.0 C371.1,16.6 374.0,8.7 374.9,6.0" fill="none" stroke="#3c3c3c" stroke-width="0.9" stroke-linejoin="round"/>
<path d="M358.5,6.0 C359.0,8.7 360.3,16.6 361.5,22.0 C362.7,27.4 364.9,35.9 365.6,38.7" fill="none" stroke="#3c3c3c" stroke-width="0.9" stroke-linejoin="round"/>
<path d="M365.6,38.7 C366.2,35.9 367.6,27.4 369.5,22.0 C371.4,16.6 375.8,8.7 377.0,6.0" fill="none" stroke="#3c3c3c" stroke-width="0.9" stroke-linejoin="round"/>
<path d="M362.0,6.0 C361.9,8.7 360.9,16.6 361.5,22.0 C362.1,27.4 364.9,35.9 365.6,38.7" fill="none" stroke="#3c3c3c" stroke-width="0.9" stroke-linejoin="round"/>
<path d="M365.6,38.7 C366.2,35.9 368.8,27.4 369.5,22.0 C370.2,16.6 369.9,8.7 370.0,6.0" fill="none" stroke="#3c3c3c" stroke-width="0.9" stroke-linejoin="round"/>
<path d="M365.6,38.7 C366.8,41.0 370.4,47.8 372.7,52.2 C374.9,56.6 376.7,60.9 379.1,64.9 C381.5,68.9 384.6,72.6 387.0,76.1 C389.4,79.5 391.2,82.7 393.4,85.6 C395.6,88.5 398.2,91.1 400.3,93.5 C402.4,95.9 404.1,97.0 406.1,100.0 C408.2,103.0 410.6,107.2 412.6,111.3 C414.6,115.4 416.7,120.7 418.3,124.5 C419.9,128.3 420.3,131.7 422.0,133.9 C423.7,136.2 426.0,137.7 428.3,138.0 C430.6,138.3 432.7,136.5 436.0,136.0 C439.3,135.5 446.0,135.0 448.0,134.8" fill="none" stroke="#3c3c3c" stroke-width="0.9" stroke-linejoin="round"/>
<path d="M366.2,129.0 C367.3,128.0 369.9,125.4 372.7,122.7 C375.4,120.0 379.4,116.0 382.7,112.7 C386.0,109.4 389.7,105.9 392.6,102.7 C395.5,99.5 398.1,96.1 400.3,93.5 C402.6,90.9 403.8,89.6 406.1,87.2 C408.4,84.8 411.1,81.5 414.0,79.2 C416.9,77.0 421.1,74.9 423.5,73.7 C425.9,72.5 426.2,73.0 428.3,72.1 C430.4,71.2 433.0,69.5 436.3,68.1 C439.6,66.6 446.1,64.2 448.0,63.4" fill="none" stroke="#3c3c3c" stroke-width="0.9" stroke-linejoin="round"/>
<path d="M365.6,38.7 C367.3,41.2 372.9,49.4 375.9,53.8 C378.9,58.2 381.1,62.5 383.8,64.9 C386.5,67.3 389.3,67.7 392.0,68.0 C394.7,68.3 397.0,66.7 400.0,66.5 C403.0,66.3 406.7,66.4 410.0,67.0 C413.3,67.6 416.9,69.2 420.0,70.0 C423.1,70.8 426.9,71.8 428.3,72.1" fill="none" stroke="#3c3c3c" stroke-width="0.9" stroke-linejoin="round"/>
<path d="M365.6,38.7 C367.0,40.1 370.8,44.5 374.0,47.0 C377.2,49.5 380.6,52.9 385.0,54.0 C389.4,55.1 395.8,53.1 400.3,53.8 C404.8,54.5 408.7,56.8 412.0,58.0 C415.3,59.2 417.3,60.3 420.0,61.0 C422.7,61.7 425.3,62.5 428.3,62.0 C431.3,61.5 434.7,59.2 438.0,58.0 C441.3,56.8 446.3,55.5 448.0,55.0" fill="none" stroke="#3c3c3c" stroke-width="0.9" stroke-linejoin="round"/>
<path d="M380.0,8.0 C380.8,10.3 383.0,17.0 385.0,22.0 C387.0,27.0 389.4,33.8 391.8,38.0 C394.2,42.2 397.1,47.5 399.7,47.5 C402.3,47.5 405.2,41.9 407.6,38.0 C410.0,34.1 412.3,28.7 414.0,24.0 C415.7,19.3 417.3,12.3 418.0,10.0" fill="none" stroke="#3c3c3c" stroke-width="0.9" stroke-linejoin="round"/>
<path d="M383.0,8.0 C384.0,10.7 387.0,19.0 389.0,24.0 C391.0,29.0 393.2,34.7 395.0,38.0 C396.8,41.3 398.0,44.3 399.7,44.0 C401.4,43.7 403.1,39.7 405.0,36.0 C406.9,32.3 409.2,27.0 411.0,22.0 C412.8,17.0 415.2,8.7 416.0,6.0" fill="none" stroke="#3c3c3c" stroke-width="0.9" stroke-linejoin="round"/>
<path d="M400.0,35.0 C400.8,35.8 402.5,38.5 405.0,40.0 C407.5,41.5 411.1,43.0 415.0,44.0 C418.9,45.0 424.8,45.1 428.3,45.9 C431.8,46.7 432.7,48.2 436.0,49.0 C439.3,49.8 446.0,50.3 448.0,50.6" fill="none" stroke="#3c3c3c" stroke-width="0.9" stroke-linejoin="round"/>
<path d="M420.0,30.0 C421.4,32.6 425.6,41.1 428.3,45.9 C431.0,50.7 433.9,56.2 436.3,58.6 C438.7,61.0 440.7,60.7 442.6,60.2 C444.6,59.7 447.1,56.2 448.0,55.4" fill="none" stroke="#3c3c3c" stroke-width="0.9" stroke-linejoin="round"/>
<path d="M365.6,38.7 C366.7,39.6 369.6,42.1 372.0,44.0 C374.4,45.9 377.0,48.0 380.0,50.0 C383.0,52.0 386.6,54.7 390.0,56.0 C393.4,57.3 397.0,56.8 400.3,58.0 C403.6,59.2 407.1,61.3 410.0,63.0 C412.9,64.7 414.9,66.5 418.0,68.0 C421.1,69.5 426.6,71.4 428.3,72.1" fill="none" stroke="#3c3c3c" stroke-width="0.9" stroke-linejoin="round"/>
<path d="M365.6,38.7 C367.0,37.8 370.9,34.8 374.0,33.0 C377.1,31.2 381.0,28.5 384.0,28.0 C387.0,27.5 389.3,28.8 392.0,30.0 C394.7,31.2 397.6,35.0 400.3,35.0 C403.0,35.0 405.4,31.8 408.0,30.0 C410.6,28.2 412.6,25.7 416.0,24.0 C419.4,22.3 424.6,20.0 428.3,20.0 C432.0,20.0 434.7,22.7 438.0,24.0 C441.3,25.3 446.3,27.3 448.0,28.0" fill="none" stroke="#3c3c3c" stroke-width="0.9" stroke-linejoin="round"/>
<path d="M400.3,20.0 C401.6,20.7 405.4,22.3 408.0,24.0 C410.6,25.7 412.6,28.0 416.0,30.0 C419.4,32.0 424.6,34.7 428.3,36.0 C432.0,37.3 434.7,37.3 438.0,38.0 C441.3,38.7 446.3,39.7 448.0,40.0" fill="none" stroke="#3c3c3c" stroke-width="0.9" stroke-linejoin="round"/>
<path d="M405.0,5.0 C406.2,6.5 409.5,11.5 412.0,14.0 C414.5,16.5 417.3,18.7 420.0,20.0 C422.7,21.3 425.6,22.7 428.3,22.0 C431.0,21.3 433.7,18.3 436.0,16.0 C438.3,13.7 441.0,9.3 442.0,8.0" fill="none" stroke="#3c3c3c" stroke-width="0.9" stroke-linejoin="round"/>
<path d="M428.3,45.9 C428.9,44.6 430.6,41.0 432.0,38.0 C433.4,35.0 435.3,31.3 437.0,28.0 C438.7,24.7 440.5,21.3 442.0,18.0 C443.5,14.7 445.3,9.7 446.0,8.0" fill="none" stroke="#3c3c3c" stroke-width="0.9" stroke-linejoin="round"/>
<path d="M428.3,62.0 C429.2,60.3 432.1,55.3 434.0,52.0 C435.9,48.7 438.0,45.0 440.0,42.0 C442.0,39.0 445.0,35.3 446.0,34.0" fill="none" stroke="#3c3c3c" stroke-width="0.9" stroke-linejoin="round"/>
<path d="M270.5,129.5 C271.8,129.4 275.5,129.5 278.0,129.0 C280.5,128.5 282.4,127.7 285.3,126.4 C288.2,125.1 292.4,122.5 295.5,121.3 C298.6,120.1 301.2,119.8 303.7,119.3 C306.1,118.8 308.6,119.2 310.2,118.4 C311.8,117.6 311.9,115.3 313.3,114.3 C314.7,113.3 316.9,112.5 318.4,112.3 C319.8,112.1 321.0,112.6 322.0,113.3 C323.0,114.0 323.4,114.4 324.5,116.3 C325.6,118.2 327.2,122.1 328.6,124.5 C330.0,126.9 331.5,128.7 332.7,130.6 C333.9,132.5 335.1,134.5 336.0,136.0 C336.9,137.5 337.0,137.8 338.2,139.5 C339.4,141.2 341.6,142.9 343.4,146.0 C345.1,149.1 346.9,153.1 348.7,157.9 C350.4,162.7 352.7,170.8 353.9,175.0 C355.1,179.2 355.6,181.7 355.9,183.0" fill="none" stroke="#3c3c3c" stroke-width="0.9" stroke-linejoin="round"/>
<path d="M318.0,165.0 C318.7,163.5 320.7,158.8 322.0,156.0 C323.3,153.2 324.7,150.7 326.0,148.0 C327.3,145.3 328.5,142.9 329.6,140.0 C330.7,137.1 331.3,133.9 332.7,130.6 C334.1,127.3 336.1,123.3 337.8,120.4 C339.5,117.5 341.5,114.8 342.9,113.3 C344.3,111.8 344.6,111.5 346.0,111.7 C347.4,111.9 349.2,112.8 351.1,114.3 C353.0,115.8 355.3,118.5 357.2,120.4 C359.1,122.3 360.8,124.1 362.3,125.5 C363.8,126.9 364.5,127.3 366.2,129.0 C367.9,130.7 370.3,133.1 372.4,135.5 C374.5,137.9 377.0,141.0 379.0,143.4 C381.0,145.8 382.4,148.6 384.2,150.0 C385.9,151.4 387.9,152.7 389.5,152.0 C391.1,151.3 392.3,148.2 394.0,146.0 C395.7,143.8 398.9,139.8 399.9,138.6" fill="none" stroke="#3c3c3c" stroke-width="0.9" stroke-linejoin="round"/>
<path d="M318.0,170.0 C319.2,168.2 322.7,162.3 325.0,159.2 C327.3,156.1 329.4,153.7 331.6,151.3 C333.8,148.9 336.1,147.4 338.2,144.7 C340.2,142.0 342.1,138.0 343.9,135.0 C345.7,132.0 347.3,128.5 349.0,126.6 C350.7,124.7 352.4,123.8 354.1,123.5 C355.8,123.2 357.1,123.6 359.1,124.5 C361.1,125.4 363.9,128.6 366.2,129.0 C368.5,129.4 370.7,127.4 372.7,127.2 C374.7,127.0 376.4,127.3 378.1,128.1 C379.8,128.9 381.3,130.4 382.7,131.8 C384.1,133.2 385.2,134.9 386.3,136.3 C387.4,137.7 388.1,138.4 389.0,140.0 C389.9,141.6 390.8,143.3 392.0,146.0 C393.2,148.7 395.3,154.3 396.0,156.0" fill="none" stroke="#3c3c3c" stroke-width="0.9" stroke-linejoin="round"/>
<path d="M366.2,129.0 C367.3,128.0 370.7,124.7 372.7,122.7 C374.7,120.7 376.3,118.7 378.0,117.0 C379.7,115.3 381.0,112.8 382.7,112.7 C384.4,112.6 386.3,114.2 388.1,116.3 C389.9,118.4 391.9,122.4 393.6,125.4 C395.3,128.4 397.0,132.3 398.1,134.5 C399.2,136.7 400.0,137.9 400.4,138.6" fill="none" stroke="#3c3c3c" stroke-width="0.9" stroke-linejoin="round"/>
<path d="M270.5,129.0 C271.4,128.2 274.5,125.5 276.1,124.4 C277.7,123.3 279.0,122.3 280.2,122.3 C281.4,122.3 282.3,123.2 283.3,124.4 C284.3,125.6 285.3,127.8 286.3,129.5 C287.3,131.2 288.2,132.9 289.2,134.8 C290.2,136.7 291.2,139.6 292.2,140.8 C293.2,142.0 294.1,141.7 295.2,142.0 C296.3,142.3 297.8,142.1 298.8,142.6 C299.8,143.1 300.3,145.3 301.3,145.0 C302.3,144.7 303.7,142.3 304.9,140.8 C306.1,139.3 307.6,136.9 308.5,136.0 C309.4,135.1 308.3,135.5 310.2,135.2 C312.1,134.9 316.6,134.7 320.0,134.4 C323.4,134.2 326.3,133.8 330.6,133.7 C334.9,133.6 341.6,133.9 346.0,133.7 C350.4,133.5 354.5,133.1 357.2,132.7 C359.9,132.2 360.5,131.6 362.0,131.0 C363.5,130.4 364.7,128.4 366.2,129.0 C367.7,129.6 369.4,132.7 370.9,134.5 C372.4,136.3 373.9,138.1 375.4,140.0 C376.9,141.9 378.6,143.8 380.0,146.0 C381.4,148.2 383.3,151.8 384.0,153.0" fill="none" stroke="#3c3c3c" stroke-width="0.9" stroke-linejoin="round"/>
<path d="M310.3,118.3 C310.9,119.4 312.7,122.5 314.0,125.0 C315.3,127.5 316.8,130.5 318.0,133.0 C319.2,135.5 319.8,138.1 321.0,140.0 C322.2,141.9 323.3,144.4 325.0,144.7 C326.7,145.0 329.2,142.3 331.0,142.0 C332.8,141.7 334.3,141.7 336.0,143.0 C337.7,144.3 339.3,146.8 341.0,150.0 C342.7,153.2 344.5,157.8 346.0,162.0 C347.5,166.2 349.0,171.5 350.0,175.0 C351.0,178.5 351.7,181.7 352.0,183.0" fill="none" stroke="#3c3c3c" stroke-width="0.9" stroke-linejoin="round"/>
<path d="M279.6,183.0 C280.0,181.5 281.2,176.8 282.0,174.0 C282.8,171.2 283.4,169.7 284.4,166.0 C285.4,162.3 286.7,155.0 288.0,151.6 C289.3,148.2 291.0,146.2 292.2,145.6 C293.4,145.0 294.1,146.4 295.2,148.0 C296.3,149.6 297.4,152.4 298.8,155.2 C300.2,158.0 302.1,162.1 303.7,164.9 C305.3,167.7 307.2,170.2 308.5,172.0 C309.8,173.8 310.2,174.4 311.5,175.7 C312.8,177.0 314.6,178.8 316.0,180.0 C317.4,181.2 319.3,182.5 320.0,183.0" fill="none" stroke="#3c3c3c" stroke-width="0.9" stroke-linejoin="round"/>
<path d="M283.2,183.0 C284.2,180.8 287.2,173.9 289.2,169.7 C291.2,165.5 293.4,160.8 295.2,157.6 C297.0,154.4 298.5,152.8 300.0,150.4 C301.5,148.0 302.6,145.2 304.0,143.0 C305.4,140.8 307.4,138.5 308.5,137.2 C309.6,135.9 310.5,135.4 310.9,135.0" fill="none" stroke="#3c3c3c" stroke-width="0.9" stroke-linejoin="round"/>
<path d="M285.6,183.0 C286.5,181.2 289.0,175.8 291.0,172.0 C293.0,168.2 295.7,163.2 297.6,160.0 C299.5,156.8 301.1,155.1 302.5,152.8 C303.9,150.5 304.6,148.8 306.0,146.0 C307.4,143.2 310.1,137.7 310.9,136.0" fill="none" stroke="#3c3c3c" stroke-width="0.9" stroke-linejoin="round"/>
<path d="M288.0,183.0 C289.0,181.2 292.0,175.5 294.0,172.0 C296.0,168.5 298.2,165.0 300.0,162.0 C301.8,159.0 303.3,156.7 305.0,154.0 C306.7,151.3 308.3,148.2 310.0,146.0 C311.7,143.8 314.2,141.8 315.0,141.0" fill="none" stroke="#3c3c3c" stroke-width="0.9" stroke-linejoin="round"/>
<path d="M285.6,180.5 C287.0,179.9 290.9,177.9 294.0,177.0 C297.1,176.1 300.7,175.3 304.0,175.0 C307.3,174.7 311.0,174.8 314.0,175.0 C317.0,175.2 319.3,175.5 322.0,176.0 C324.7,176.5 327.0,177.2 330.0,178.0 C333.0,178.8 338.3,180.5 340.0,181.0" fill="none" stroke="#3c3c3c" stroke-width="0.9" stroke-linejoin="round"/>
<path d="M377.6,183.0 C378.5,181.2 381.1,175.9 382.9,172.4 C384.7,168.9 386.5,164.4 388.2,161.8 C389.9,159.2 391.3,158.9 392.9,156.6 C394.5,154.3 396.7,151.1 398.0,148.0 C399.3,144.9 400.1,139.8 400.5,138.2" fill="none" stroke="#3c3c3c" stroke-width="0.9" stroke-linejoin="round"/>
<path d="M380.3,183.0 C381.2,181.0 384.1,174.8 386.0,171.0 C387.9,167.2 390.2,163.5 392.0,160.0 C393.8,156.5 395.6,152.8 397.0,150.0 C398.4,147.2 399.9,144.2 400.5,143.0" fill="none" stroke="#3c3c3c" stroke-width="0.9" stroke-linejoin="round"/>
<path d="M400.5,138.2 C401.9,138.0 406.0,136.8 408.7,136.8 C411.4,136.8 414.0,138.4 416.6,138.2 C419.2,138.0 422.5,136.2 424.5,135.5 C426.5,134.8 426.2,134.4 428.4,134.2 C430.6,134.0 434.3,134.1 437.6,134.2 C440.9,134.3 446.3,134.8 448.0,134.9" fill="none" stroke="#3c3c3c" stroke-width="0.9" stroke-linejoin="round"/>
<path d="M400.5,138.2 C401.4,139.1 404.0,141.6 406.0,143.4 C408.0,145.2 410.8,148.8 412.6,149.3 C414.4,149.9 414.8,148.3 416.6,146.7 C418.4,145.1 421.2,140.9 423.2,139.5 C425.2,138.1 426.4,137.1 428.4,138.2 C430.4,139.3 432.8,142.7 435.0,146.0 C437.2,149.3 439.4,154.2 441.6,157.9 C443.8,161.6 446.9,166.7 448.0,168.4" fill="none" stroke="#3c3c3c" stroke-width="0.9" stroke-linejoin="round"/>
<path d="M400.5,139.5 C401.8,139.6 405.1,139.7 408.0,140.0 C410.9,140.3 415.2,141.6 417.9,141.4 C420.6,141.2 422.2,139.7 424.0,139.0 C425.8,138.3 426.6,135.2 428.4,137.0 C430.2,138.8 432.9,145.8 435.0,150.0 C437.1,154.2 439.2,158.3 441.0,162.0 C442.8,165.7 445.2,170.3 446.0,172.0" fill="none" stroke="#3c3c3c" stroke-width="0.9" stroke-linejoin="round"/>
<path d="M398.2,168.4 C399.3,167.1 402.3,163.2 404.7,160.5 C407.1,157.8 410.2,152.4 412.6,152.0 C415.0,151.6 417.2,155.4 419.2,157.9 C421.2,160.4 423.0,163.8 424.5,167.1 C426.0,170.4 427.5,174.9 428.4,177.6 C429.3,180.2 429.7,182.1 430.0,183.0" fill="none" stroke="#3c3c3c" stroke-width="0.9" stroke-linejoin="round"/>
<path d="M385.0,168.4 C386.3,166.4 390.7,158.3 392.9,156.6 C395.1,154.9 396.1,156.4 398.0,158.0 C399.9,159.6 402.2,163.2 404.0,166.0 C405.8,168.8 407.7,172.2 409.0,175.0 C410.3,177.8 411.5,181.7 412.0,183.0" fill="none" stroke="#3c3c3c" stroke-width="0.9" stroke-linejoin="round"/>
<path d="M392.9,164.5 C393.4,165.6 394.7,168.8 396.0,171.0 C397.3,173.2 399.0,177.6 400.5,177.6 C402.0,177.6 403.4,173.3 405.0,171.0 C406.6,168.7 408.2,165.8 410.0,164.0 C411.8,162.2 415.0,160.7 416.0,160.0" fill="none" stroke="#3c3c3c" stroke-width="0.9" stroke-linejoin="round"/>
<path d="M428.4,180.3 C429.3,179.6 432.1,177.4 434.0,176.0 C435.9,174.6 437.7,173.0 440.0,172.0 C442.3,171.0 446.7,170.3 448.0,170.0" fill="none" stroke="#3c3c3c" stroke-width="0.9" stroke-linejoin="round"/>
<path d="M428.4,180.3 C429.3,179.9 432.1,178.7 434.0,178.0 C435.9,177.3 437.7,176.5 440.0,176.0 C442.3,175.5 446.7,175.2 448.0,175.0" fill="none" stroke="#3c3c3c" stroke-width="0.9" stroke-linejoin="round"/>
<path d="M430.0,183.0 C431.0,182.3 434.0,180.2 436.0,179.0 C438.0,177.8 440.0,177.0 442.0,176.0 C444.0,175.0 447.0,173.5 448.0,173.0" fill="none" stroke="#3c3c3c" stroke-width="0.9" stroke-linejoin="round"/>
<path d="M420.0,183.0 C421.0,182.7 424.0,181.4 426.0,181.0 C428.0,180.6 430.0,180.1 432.0,180.3 C434.0,180.5 436.0,181.6 438.0,182.0 C440.0,182.4 443.0,182.8 444.0,183.0" fill="none" stroke="#3c3c3c" stroke-width="0.9" stroke-linejoin="round"/>
<path d="M428.4,134.2 C429.3,133.2 432.1,130.2 434.0,128.0 C435.9,125.8 438.2,122.8 440.0,121.0 C441.8,119.2 443.3,117.8 444.6,117.0 C445.9,116.2 447.4,116.2 448.0,116.0" fill="none" stroke="#3c3c3c" stroke-width="0.9" stroke-linejoin="round"/>
<path d="M270.9,29.3 L272.1,29.2 L273.3,29.1 L274.6,29.0 L275.8,28.9 L277.0,28.7 L278.2,28.6 L279.5,28.5 L280.7,28.3 L281.9,28.2 L283.1,28.1 L284.4,27.9 L285.6,27.8 L286.8,27.7 L288.1,27.6 L289.3,27.4 L290.5,27.3 L291.7,27.2 L292.9,27.1 L294.2,27.0 L295.4,26.9 L296.6,26.8 L297.9,26.7 L299.1,26.7 L300.3,26.6 L301.5,26.6 L302.8,26.5 L304.0,26.5 L305.2,26.4 L306.4,26.4 L307.7,26.4 L308.9,26.4 L310.1,26.4 L311.3,23.3 L312.6,19.6 L313.8,15.6 L315.0,11.3 L316.2,6.9 L317.5,2.6 L318.7,-1.6 L319.9,-5.4 L321.1,-8.8 L322.4,-11.7 L323.6,-14.0 L324.8,-15.7 L326.0,-15.3 L327.2,-14.9 L328.4,-14.5 L329.6,-14.1 L330.8,-13.7 L332.0,-13.2 L333.2,-12.8 L334.4,-12.3 L335.6,-11.8 L336.8,-11.2 L338.0,-10.7 L339.2,-10.2 L340.4,-9.6 L341.6,-9.0 L342.8,-8.4 L344.0,-7.9 L345.2,-7.3 L346.4,-6.7 L347.6,-6.1 L348.8,-5.5 L350.0,-4.9 L351.2,-4.3 L352.4,-3.7 L353.6,-3.1 L354.8,-2.5 L356.0,-1.9 L357.2,-1.4 L358.4,-0.9 L359.6,-0.3 L360.8,0.2 L362.0,0.7 L363.2,1.1 L364.4,1.6 L365.6,2.0 L366.8,1.6 L368.1,1.2 L369.3,0.8 L370.6,0.5 L371.8,0.2 L373.0,-0.0 L374.3,-0.2 L375.5,-0.4 L376.8,-0.4 L378.0,-0.5 L379.2,-0.4 L380.5,-0.3 L381.7,-0.2 L383.0,0.0 L384.2,0.3 L385.4,0.7 L386.7,1.1 L387.9,1.5 L389.1,2.0 L390.4,2.5 L391.6,3.1 L392.9,3.7 L394.1,4.3 L395.3,5.0 L396.6,5.6 L397.8,6.3 L399.1,6.9 L400.3,7.6 L401.5,6.6 L402.7,5.6 L404.0,4.4 L405.2,3.2 L406.4,1.9 L407.6,0.5 L408.8,-0.9 L410.0,-2.3 L411.3,-3.7 L412.5,-5.0 L413.7,-6.3 L414.9,-7.6 L416.1,-8.7 L417.3,-9.8 L418.6,-10.7 L419.8,-11.6 L421.0,-12.2 L422.2,-12.8 L423.4,-13.2 L424.6,-13.4 L425.9,-13.5 L427.1,-13.4 L428.3,-13.2 L429.5,-12.6 L430.7,-12.0 L432.0,-11.4 L433.2,-10.9 L434.4,-10.4 L435.6,-10.0 L436.8,-9.7 L438.1,-9.4 L439.3,-9.3 L440.5,-9.2 L441.7,-9.2 L442.9,-9.3 L444.2,-9.5 L445.4,-9.8 L446.6,-10.0" fill="none" stroke="#3c3c3c" stroke-width="0.9" stroke-linejoin="round"/>
<path d="M270.9,14.2 L272.1,14.0 L273.3,13.8 L274.6,13.5 L275.8,13.3 L277.0,13.1 L278.2,12.9 L279.5,12.7 L280.7,12.5 L281.9,12.3 L283.1,12.1 L284.4,12.0 L285.6,11.8 L286.8,11.7 L288.1,11.6 L289.3,11.5 L290.5,11.4 L291.7,11.3 L292.9,11.3 L294.2,11.3 L295.4,11.3 L296.6,11.3 L297.9,11.3 L299.1,11.3 L300.3,11.4 L301.5,11.5 L302.8,11.6 L304.0,11.7 L305.2,11.8 L306.4,11.9 L307.7,12.0 L308.9,12.2 L310.1,12.3 L311.3,12.0 L312.6,12.2 L313.8,12.8 L315.0,13.9 L316.2,15.4 L317.5,17.2 L318.7,19.4 L319.9,21.7 L321.1,24.1 L322.4,26.4 L323.6,28.6 L324.8,30.5 L326.0,30.3 L327.2,30.1 L328.4,29.9 L329.6,29.6 L330.8,29.4 L332.0,29.1 L333.2,28.7 L334.4,28.4 L335.6,28.0 L336.8,27.7 L338.0,27.3 L339.2,26.9 L340.4,26.5 L341.6,26.0 L342.8,25.6 L344.0,25.2 L345.2,24.7 L346.4,24.3 L347.6,23.9 L348.8,23.5 L350.0,23.1 L351.2,22.7 L352.4,22.3 L353.6,21.9 L354.8,21.6 L356.0,21.2 L357.2,20.9 L358.4,20.6 L359.6,20.4 L360.8,20.2 L362.0,20.0 L363.2,19.8 L364.4,19.6 L365.6,19.5 L366.8,19.4 L368.1,19.1 L369.3,18.9 L370.6,18.5 L371.8,18.1 L373.0,17.6 L374.3,17.0 L375.5,16.4 L376.8,15.7 L378.0,15.0 L379.2,14.2 L380.5,13.3 L381.7,12.4 L383.0,11.5 L384.2,10.6 L385.4,9.6 L386.7,8.6 L387.9,7.6 L389.1,6.7 L390.4,5.7 L391.6,4.7 L392.9,3.8 L394.1,2.9 L395.3,2.1 L396.6,1.3 L397.8,0.5 L399.1,-0.2 L400.3,-0.8 L401.5,-0.3 L402.7,0.2 L404.0,0.7 L405.2,1.3 L406.4,1.8 L407.6,2.4 L408.8,2.9 L410.0,3.5 L411.3,4.0 L412.5,4.6 L413.7,5.1 L414.9,5.6 L416.1,6.1 L417.3,6.6 L418.6,7.0 L419.8,7.5 L421.0,7.9 L422.2,8.3 L423.4,8.6 L424.6,8.9 L425.9,9.2 L427.1,9.5 L428.3,9.7 L429.5,9.8 L430.7,9.9 L432.0,10.1 L433.2,10.3 L434.4,10.6 L435.6,10.9 L436.8,11.3 L438.1,11.7 L439.3,12.2 L440.5,12.6 L441.7,13.0 L442.9,13.4 L444.2,13.8 L445.4,14.1 L446.6,14.3" fill="none" stroke="#3c3c3c" stroke-width="0.9" stroke-linejoin="round"/>
<path d="M270.9,38.7 L272.1,37.2 L273.3,35.6 L274.6,34.0 L275.8,32.3 L277.0,30.5 L278.2,28.8 L279.5,26.9 L280.7,25.1 L281.9,23.2 L283.1,21.3 L284.4,19.4 L285.6,17.5 L286.8,15.5 L288.1,13.6 L289.3,11.7 L290.5,9.8 L291.7,7.9 L292.9,6.1 L294.2,4.2 L295.4,2.4 L296.6,0.7 L297.9,-1.0 L299.1,-2.7 L300.3,-4.2 L301.5,-5.8 L302.8,-7.3 L304.0,-8.7 L305.2,-10.1 L306.4,-11.4 L307.7,-12.6 L308.9,-13.8 L310.1,-14.9 L311.3,-15.6 L312.6,-16.3 L313.8,-16.9 L315.0,-17.5 L316.2,-18.0 L317.5,-18.4 L318.7,-18.6 L319.9,-18.7 L321.1,-18.7 L322.4,-18.5 L323.6,-18.3 L324.8,-18.0 L326.0,-17.1 L327.2,-16.1 L328.4,-15.2 L329.6,-14.2 L330.8,-13.2 L332.0,-12.2 L333.2,-11.2 L334.4,-10.2 L335.6,-9.1 L336.8,-8.1 L338.0,-7.1 L339.2,-6.1 L340.4,-5.1 L341.6,-4.1 L342.8,-3.2 L344.0,-2.2 L345.2,-1.3 L346.4,-0.4 L347.6,0.5 L348.8,1.3 L350.0,2.1 L351.2,2.9 L352.4,3.7 L353.6,4.4 L354.8,5.1 L356.0,5.7 L357.2,6.3 L358.4,6.9 L359.6,7.5 L360.8,8.0 L362.0,8.5 L363.2,8.9 L364.4,9.4 L365.6,9.8 L366.8,10.1 L368.1,10.4 L369.3,10.8 L370.6,11.2 L371.8,11.6 L373.0,12.1 L374.3,12.6 L375.5,13.2 L376.8,13.7 L378.0,14.3 L379.2,14.9 L380.5,15.5 L381.7,16.1 L383.0,16.7 L384.2,17.3 L385.4,17.9 L386.7,18.5 L387.9,19.0 L389.1,19.6 L390.4,20.1 L391.6,20.5 L392.9,21.0 L394.1,21.4 L395.3,21.7 L396.6,22.0 L397.8,22.3 L399.1,22.5 L400.3,22.7 L401.5,21.6 L402.7,20.5 L404.0,19.2 L405.2,17.9 L406.4,16.6 L407.6,15.2 L408.8,13.8 L410.0,12.4 L411.3,11.0 L412.5,9.6 L413.7,8.2 L414.9,6.9 L416.1,5.6 L417.3,4.3 L418.6,3.2 L419.8,2.1 L421.0,1.1 L422.2,0.2 L423.4,-0.6 L424.6,-1.3 L425.9,-1.9 L427.1,-2.4 L428.3,-2.8 L429.5,-3.5 L430.7,-4.2 L432.0,-4.7 L433.2,-5.2 L434.4,-5.6 L435.6,-5.7 L436.8,-5.8 L438.1,-5.6 L439.3,-5.3 L440.5,-4.8 L441.7,-4.2 L442.9,-3.5 L444.2,-2.6 L445.4,-1.7 L446.6,-0.8" fill="none" stroke="#3c3c3c" stroke-width="0.9" stroke-linejoin="round"/>
<path d="M270.9,29.2 L272.1,28.4 L273.3,27.5 L274.6,26.6 L275.8,25.7 L277.0,24.7 L278.2,23.7 L279.5,22.6 L280.7,21.4 L281.9,20.2 L283.1,19.0 L284.4,17.7 L285.6,16.4 L286.8,15.0 L288.1,13.7 L289.3,12.2 L290.5,10.8 L291.7,9.3 L292.9,7.9 L294.2,6.4 L295.4,4.9 L296.6,3.5 L297.9,2.0 L299.1,0.5 L300.3,-0.9 L301.5,-2.3 L302.8,-3.7 L304.0,-5.1 L305.2,-6.4 L306.4,-7.7 L307.7,-8.9 L308.9,-10.1 L310.1,-11.3 L311.3,-7.9 L312.6,-4.0 L313.8,0.4 L315.0,5.1 L316.2,9.8 L317.5,14.4 L318.7,18.7 L319.9,22.5 L321.1,25.7 L322.4,28.1 L323.6,29.8 L324.8,30.7 L326.0,31.2 L327.2,31.7 L328.4,32.2 L329.6,32.7 L330.8,33.1 L332.0,33.6 L333.2,34.1 L334.4,34.5 L335.6,35.0 L336.8,35.4 L338.0,35.8 L339.2,36.2 L340.4,36.5 L341.6,36.9 L342.8,37.2 L344.0,37.5 L345.2,37.7 L346.4,38.0 L347.6,38.2 L348.8,38.4 L350.0,38.5 L351.2,38.7 L352.4,38.8 L353.6,38.9 L354.8,38.9 L356.0,39.0 L357.2,39.0 L358.4,39.0 L359.6,39.0 L360.8,38.9 L362.0,38.9 L363.2,38.8 L364.4,38.8 L365.6,38.7 L366.8,38.5 L368.1,38.1 L369.3,37.6 L370.6,37.0 L371.8,36.3 L373.0,35.4 L374.3,34.4 L375.5,33.3 L376.8,32.1 L378.0,30.8 L379.2,29.4 L380.5,27.9 L381.7,26.3 L383.0,24.7 L384.2,23.0 L385.4,21.2 L386.7,19.4 L387.9,17.6 L389.1,15.8 L390.4,14.0 L391.6,12.3 L392.9,10.5 L394.1,8.9 L395.3,7.2 L396.6,5.7 L397.8,4.3 L399.1,2.9 L400.3,1.6 L401.5,1.3 L402.7,0.8 L404.0,0.2 L405.2,-0.5 L406.4,-1.3 L407.6,-2.2 L408.8,-3.2 L410.0,-4.2 L411.3,-5.3 L412.5,-6.4 L413.7,-7.6 L414.9,-8.8 L416.1,-10.0 L417.3,-11.1 L418.6,-12.3 L419.8,-13.4 L421.0,-14.4 L422.2,-15.4 L423.4,-16.2 L424.6,-17.0 L425.9,-17.7 L427.1,-18.3 L428.3,-18.8 L429.5,-16.5 L430.7,-13.8 L432.0,-10.5 L433.2,-7.0 L434.4,-3.2 L435.6,0.8 L436.8,4.6 L438.1,8.4 L439.3,11.8 L440.5,14.9 L441.7,17.5 L442.9,19.6 L444.2,21.0 L445.4,21.9 L446.6,22.1" fill="none" stroke="#3c3c3c" stroke-width="0.9" stroke-linejoin="round"/>
<path d="M270.9,-9.8 L272.1,-8.5 L273.3,-7.1 L274.6,-5.7 L275.8,-4.3 L277.0,-2.9 L278.2,-1.5 L279.5,-0.1 L280.7,1.4 L281.9,2.8 L283.1,4.2 L284.4,5.7 L285.6,7.1 L286.8,8.5 L288.1,9.8 L289.3,11.2 L290.5,12.5 L291.7,13.8 L292.9,15.1 L294.2,16.3 L295.4,17.5 L296.6,18.6 L297.9,19.7 L299.1,20.8 L300.3,21.8 L301.5,22.8 L302.8,23.8 L304.0,24.6 L305.2,25.5 L306.4,26.3 L307.7,27.1 L308.9,27.8 L310.1,28.5 L311.3,28.0 L312.6,27.4 L313.8,27.0 L315.0,26.7 L316.2,26.5 L317.5,26.5 L318.7,26.7 L319.9,27.0 L321.1,27.5 L322.4,28.1 L323.6,28.7 L324.8,29.4 L326.0,28.3 L327.2,27.1 L328.4,25.8 L329.6,24.6 L330.8,23.3 L332.0,22.0 L333.2,20.6 L334.4,19.3 L335.6,17.9 L336.8,16.5 L338.0,15.1 L339.2,13.7 L340.4,12.3 L341.6,10.9 L342.8,9.5 L344.0,8.0 L345.2,6.6 L346.4,5.2 L347.6,3.8 L348.8,2.4 L350.0,1.0 L351.2,-0.3 L352.4,-1.7 L353.6,-3.0 L354.8,-4.3 L356.0,-5.5 L357.2,-6.8 L358.4,-8.0 L359.6,-9.2 L360.8,-10.3 L362.0,-11.4 L363.2,-12.5 L364.4,-13.6 L365.6,-14.6 L366.8,-13.6 L368.1,-12.5 L369.3,-11.4 L370.6,-10.3 L371.8,-9.2 L373.0,-8.0 L374.3,-6.9 L375.5,-5.8 L376.8,-4.7 L378.0,-3.6 L379.2,-2.5 L380.5,-1.5 L381.7,-0.5 L383.0,0.5 L384.2,1.3 L385.4,2.2 L386.7,3.0 L387.9,3.7 L389.1,4.3 L390.4,4.9 L391.6,5.5 L392.9,5.9 L394.1,6.3 L395.3,6.7 L396.6,7.0 L397.8,7.2 L399.1,7.4 L400.3,7.5 L401.5,6.9 L402.7,6.3 L404.0,5.6 L405.2,4.8 L406.4,4.0 L407.6,3.1 L408.8,2.2 L410.0,1.2 L411.3,0.2 L412.5,-0.8 L413.7,-1.9 L414.9,-2.9 L416.1,-3.9 L417.3,-4.9 L418.6,-5.8 L419.8,-6.7 L421.0,-7.6 L422.2,-8.4 L423.4,-9.1 L424.6,-9.7 L425.9,-10.3 L427.1,-10.8 L428.3,-11.2 L429.5,-10.5 L430.7,-9.7 L432.0,-8.8 L433.2,-7.7 L434.4,-6.5 L435.6,-5.2 L436.8,-3.8 L438.1,-2.3 L439.3,-0.7 L440.5,0.9 L441.7,2.5 L442.9,4.0 L444.2,5.5 L445.4,7.0 L446.6,8.3" fill="none" stroke="#3c3c3c" stroke-width="0.9" stroke-linejoin="round"/>
<path d="M270.9,13.3 L272.1,12.3 L273.3,11.3 L274.6,10.4 L275.8,9.4 L277.0,8.4 L278.2,7.4 L279.5,6.5 L280.7,5.6 L281.9,4.6 L283.1,3.7 L284.4,2.8 L285.6,2.0 L286.8,1.2 L288.1,0.4 L289.3,-0.4 L290.5,-1.1 L291.7,-1.8 L292.9,-2.4 L294.2,-3.0 L295.4,-3.6 L296.6,-4.1 L297.9,-4.6 L299.1,-5.0 L300.3,-5.4 L301.5,-5.8 L302.8,-6.1 L304.0,-6.5 L305.2,-6.7 L306.4,-7.0 L307.7,-7.2 L308.9,-7.4 L310.1,-7.6 L311.3,-7.1 L312.6,-6.6 L313.8,-6.1 L315.0,-5.6 L316.2,-5.2 L317.5,-4.8 L318.7,-4.5 L319.9,-4.3 L321.1,-4.3 L322.4,-4.3 L323.6,-4.4 L324.8,-4.6 L326.0,-4.3 L327.2,-3.9 L328.4,-3.5 L329.6,-3.1 L330.8,-2.6 L332.0,-2.1 L333.2,-1.5 L334.4,-0.9 L335.6,-0.2 L336.8,0.4 L338.0,1.2 L339.2,1.9 L340.4,2.7 L341.6,3.5 L342.8,4.3 L344.0,5.2 L345.2,6.1 L346.4,7.0 L347.6,7.8 L348.8,8.8 L350.0,9.7 L351.2,10.6 L352.4,11.5 L353.6,12.4 L354.8,13.2 L356.0,14.1 L357.2,15.0 L358.4,15.8 L359.6,16.6 L360.8,17.4 L362.0,18.1 L363.2,18.8 L364.4,19.5 L365.6,20.1 L366.8,19.9 L368.1,19.7 L369.3,19.5 L370.6,19.2 L371.8,18.9 L373.0,18.5 L374.3,18.2 L375.5,17.8 L376.8,17.4 L378.0,17.0 L379.2,16.5 L380.5,16.1 L381.7,15.6 L383.0,15.1 L384.2,14.7 L385.4,14.2 L386.7,13.7 L387.9,13.2 L389.1,12.7 L390.4,12.2 L391.6,11.7 L392.9,11.3 L394.1,10.9 L395.3,10.4 L396.6,10.0 L397.8,9.7 L399.1,9.3 L400.3,9.0 L401.5,9.4 L402.7,9.9 L404.0,10.3 L405.2,10.7 L406.4,11.0 L407.6,11.3 L408.8,11.6 L410.0,11.8 L411.3,12.0 L412.5,12.1 L413.7,12.1 L414.9,12.1 L416.1,12.0 L417.3,11.9 L418.6,11.7 L419.8,11.4 L421.0,11.1 L422.2,10.8 L423.4,10.4 L424.6,10.0 L425.9,9.5 L427.1,9.1 L428.3,8.6 L429.5,8.7 L430.7,9.0 L432.0,9.4 L433.2,10.0 L434.4,10.8 L435.6,11.7 L436.8,12.7 L438.1,13.9 L439.3,15.1 L440.5,16.4 L441.7,17.8 L442.9,19.2 L444.2,20.5 L445.4,21.8 L446.6,23.0" fill="none" stroke="#3c3c3c" stroke-width="0.9" stroke-linejoin="round"/>
<path d="M270.9,3.4 L272.1,3.8 L273.3,4.3 L274.6,4.8 L275.8,5.3 L277.0,5.9 L278.2,6.4 L279.5,7.0 L280.7,7.6 L281.9,8.1 L283.1,8.7 L284.4,9.3 L285.6,9.9 L286.8,10.5 L288.1,11.1 L289.3,11.6 L290.5,12.2 L291.7,12.7 L292.9,13.2 L294.2,13.7 L295.4,14.2 L296.6,14.6 L297.9,15.0 L299.1,15.4 L300.3,15.7 L301.5,16.1 L302.8,16.3 L304.0,16.6 L305.2,16.8 L306.4,17.0 L307.7,17.1 L308.9,17.3 L310.1,17.4 L311.3,14.1 L312.6,10.6 L313.8,6.9 L315.0,3.0 L316.2,-0.8 L317.5,-4.5 L318.7,-8.0 L319.9,-11.1 L321.1,-13.9 L322.4,-16.3 L323.6,-18.3 L324.8,-19.8 L326.0,-19.1 L327.2,-18.3 L328.4,-17.4 L329.6,-16.5 L330.8,-15.5 L332.0,-14.4 L333.2,-13.3 L334.4,-12.2 L335.6,-11.0 L336.8,-9.7 L338.0,-8.4 L339.2,-7.1 L340.4,-5.7 L341.6,-4.3 L342.8,-2.9 L344.0,-1.4 L345.2,0.0 L346.4,1.5 L347.6,2.9 L348.8,4.4 L350.0,5.8 L351.2,7.2 L352.4,8.6 L353.6,10.0 L354.8,11.3 L356.0,12.5 L357.2,13.8 L358.4,15.0 L359.6,16.1 L360.8,17.2 L362.0,18.2 L363.2,19.1 L364.4,20.0 L365.6,20.9 L366.8,20.0 L368.1,19.0 L369.3,18.0 L370.6,16.9 L371.8,15.7 L373.0,14.5 L374.3,13.2 L375.5,11.9 L376.8,10.5 L378.0,9.1 L379.2,7.7 L380.5,6.2 L381.7,4.8 L383.0,3.3 L384.2,1.9 L385.4,0.5 L386.7,-0.9 L387.9,-2.3 L389.1,-3.6 L390.4,-4.9 L391.6,-6.1 L392.9,-7.2 L394.1,-8.3 L395.3,-9.3 L396.6,-10.3 L397.8,-11.1 L399.1,-11.9 L400.3,-12.6 L401.5,-12.1 L402.7,-11.5 L404.0,-10.7 L405.2,-9.7 L406.4,-8.6 L407.6,-7.3 L408.8,-5.9 L410.0,-4.3 L411.3,-2.7 L412.5,-0.8 L413.7,1.1 L414.9,3.1 L416.1,5.1 L417.3,7.3 L418.6,9.4 L419.8,11.5 L421.0,13.7 L422.2,15.8 L423.4,17.8 L424.6,19.8 L425.9,21.7 L427.1,23.5 L428.3,25.1 L429.5,24.2 L430.7,22.9 L432.0,21.3 L433.2,19.2 L434.4,16.8 L435.6,14.2 L436.8,11.3 L438.1,8.3 L439.3,5.3 L440.5,2.3 L441.7,-0.5 L442.9,-3.2 L444.2,-5.6 L445.4,-7.7 L446.6,-9.4" fill="none" stroke="#3c3c3c" stroke-width="0.9" stroke-linejoin="round"/>
<path d="M270.9,-15.5 L272.1,-14.9 L273.3,-14.3 L274.6,-13.5 L275.8,-12.7 L277.0,-11.7 L278.2,-10.7 L279.5,-9.6 L280.7,-8.4 L281.9,-7.2 L283.1,-5.8 L284.4,-4.4 L285.6,-3.0 L286.8,-1.5 L288.1,0.1 L289.3,1.6 L290.5,3.2 L291.7,4.9 L292.9,6.5 L294.2,8.1 L295.4,9.7 L296.6,11.3 L297.9,12.9 L299.1,14.4 L300.3,15.9 L301.5,17.4 L302.8,18.8 L304.0,20.1 L305.2,21.4 L306.4,22.5 L307.7,23.6 L308.9,24.7 L310.1,25.6 L311.3,25.1 L312.6,24.7 L313.8,24.4 L315.0,24.1 L316.2,23.9 L317.5,23.7 L318.7,23.7 L319.9,23.8 L321.1,24.0 L322.4,24.2 L323.6,24.6 L324.8,24.9 L326.0,24.6 L327.2,24.4 L328.4,24.1 L329.6,23.8 L330.8,23.5 L332.0,23.3 L333.2,23.0 L334.4,22.7 L335.6,22.4 L336.8,22.2 L338.0,21.9 L339.2,21.7 L340.4,21.5 L341.6,21.2 L342.8,21.0 L344.0,20.8 L345.2,20.7 L346.4,20.5 L347.6,20.4 L348.8,20.3 L350.0,20.2 L351.2,20.1 L352.4,20.0 L353.6,20.0 L354.8,19.9 L356.0,19.9 L357.2,19.9 L358.4,20.0 L359.6,20.0 L360.8,20.1 L362.0,20.1 L363.2,20.2 L364.4,20.3 L365.6,20.4 L366.8,20.8 L368.1,21.2 L369.3,21.5 L370.6,21.8 L371.8,22.1 L373.0,22.3 L374.3,22.5 L375.5,22.6 L376.8,22.7 L378.0,22.8 L379.2,22.7 L380.5,22.7 L381.7,22.5 L383.0,22.3 L384.2,22.0 L385.4,21.7 L386.7,21.4 L387.9,20.9 L389.1,20.5 L390.4,20.0 L391.6,19.4 L392.9,18.8 L394.1,18.2 L395.3,17.6 L396.6,17.0 L397.8,16.3 L399.1,15.7 L400.3,15.0 L401.5,14.7 L402.7,14.4 L404.0,14.1 L405.2,13.8 L406.4,13.4 L407.6,13.1 L408.8,12.8 L410.0,12.5 L411.3,12.2 L412.5,12.0 L413.7,11.8 L414.9,11.6 L416.1,11.4 L417.3,11.2 L418.6,11.1 L419.8,11.1 L421.0,11.0 L422.2,11.0 L423.4,11.1 L424.6,11.1 L425.9,11.2 L427.1,11.3 L428.3,11.5 L429.5,10.6 L430.7,9.6 L432.0,8.5 L433.2,7.2 L434.4,5.8 L435.6,4.3 L436.8,2.9 L438.1,1.5 L439.3,0.1 L440.5,-1.1 L441.7,-2.2 L442.9,-3.1 L444.2,-3.9 L445.4,-4.5 L446.6,-4.8" fill="none" stroke="#3c3c3c" stroke-width="0.9" stroke-linejoin="round"/>
<path d="M270.9,38.7 L272.1,37.4 L273.3,36.1 L274.6,34.8 L275.8,33.5 L277.0,32.1 L278.2,30.7 L279.5,29.3 L280.7,27.9 L281.9,26.4 L283.1,24.9 L284.4,23.4 L285.6,21.9 L286.8,20.3 L288.1,18.8 L289.3,17.2 L290.5,15.7 L291.7,14.1 L292.9,12.5 L294.2,10.9 L295.4,9.3 L296.6,7.8 L297.9,6.2 L299.1,4.6 L300.3,3.1 L301.5,1.5 L302.8,0.0 L304.0,-1.5 L305.2,-3.0 L306.4,-4.4 L307.7,-5.9 L308.9,-7.3 L310.1,-8.7 L311.3,-8.7 L312.6,-8.7 L313.8,-8.6 L315.0,-8.5 L316.2,-8.3 L317.5,-8.1 L318.7,-7.8 L319.9,-7.5 L321.1,-7.2 L322.4,-6.9 L323.6,-6.6 L324.8,-6.3 L326.0,-5.8 L327.2,-5.3 L328.4,-4.8 L329.6,-4.2 L330.8,-3.6 L332.0,-3.1 L333.2,-2.4 L334.4,-1.8 L335.6,-1.2 L336.8,-0.6 L338.0,0.1 L339.2,0.7 L340.4,1.3 L341.6,1.9 L342.8,2.4 L344.0,3.0 L345.2,3.5 L346.4,4.0 L347.6,4.5 L348.8,4.9 L350.0,5.3 L351.2,5.6 L352.4,5.9 L353.6,6.1 L354.8,6.3 L356.0,6.5 L357.2,6.6 L358.4,6.7 L359.6,6.7 L360.8,6.7 L362.0,6.6 L363.2,6.5 L364.4,6.3 L365.6,6.1 L366.8,5.3 L368.1,4.4 L369.3,3.5 L370.6,2.6 L371.8,1.7 L373.0,0.7 L374.3,-0.2 L375.5,-1.2 L376.8,-2.1 L378.0,-3.0 L379.2,-3.9 L380.5,-4.8 L381.7,-5.6 L383.0,-6.5 L384.2,-7.3 L385.4,-8.0 L386.7,-8.8 L387.9,-9.5 L389.1,-10.1 L390.4,-10.7 L391.6,-11.3 L392.9,-11.9 L394.1,-12.3 L395.3,-12.8 L396.6,-13.2 L397.8,-13.6 L399.1,-13.9 L400.3,-14.3 L401.5,-13.4 L402.7,-12.4 L404.0,-11.3 L405.2,-10.2 L406.4,-9.1 L407.6,-7.9 L408.8,-6.7 L410.0,-5.5 L411.3,-4.4 L412.5,-3.2 L413.7,-2.1 L414.9,-1.1 L416.1,-0.1 L417.3,0.8 L418.6,1.6 L419.8,2.3 L421.0,2.8 L422.2,3.3 L423.4,3.7 L424.6,3.9 L425.9,4.1 L427.1,4.1 L428.3,4.1 L429.5,2.8 L430.7,1.4 L432.0,-0.1 L433.2,-1.7 L434.4,-3.3 L435.6,-5.0 L436.8,-6.6 L438.1,-8.1 L439.3,-9.5 L440.5,-10.7 L441.7,-11.7 L442.9,-12.5 L444.2,-13.1 L445.4,-13.5 L446.6,-13.7" fill="none" stroke="#3c3c3c" stroke-width="0.9" stroke-linejoin="round"/>
<path d="M280.4,183.0 C280.8,181.2 282.1,175.5 283.0,172.0 C283.9,168.5 284.6,165.3 285.6,162.0 C286.6,158.7 287.9,154.6 289.0,152.0 C290.1,149.4 290.8,146.9 292.0,146.4 C293.2,145.9 294.7,147.6 296.0,149.0 C297.3,150.4 298.7,152.8 300.0,155.0 C301.3,157.2 302.6,159.7 303.8,162.0 C305.0,164.3 305.9,166.8 307.0,169.0 C308.1,171.2 309.3,172.7 310.3,175.0 C311.3,177.3 312.6,181.7 313.0,183.0" fill="none" stroke="#3c3c3c" stroke-width="0.9" stroke-linejoin="round"/>
<path d="M285.6,183.0 C286.0,181.8 287.1,178.8 288.0,176.0 C288.9,173.2 289.8,169.3 291.0,166.0 C292.2,162.7 293.5,158.8 295.0,156.0 C296.5,153.2 298.4,149.5 299.9,149.0 C301.4,148.5 302.6,151.2 304.0,153.0 C305.4,154.8 306.7,157.3 308.0,160.0 C309.3,162.7 310.7,165.7 312.0,169.0 C313.3,172.3 315.3,178.2 316.0,180.0" fill="none" stroke="#3c3c3c" stroke-width="0.9" stroke-linejoin="round"/>
<path d="M309.0,183.0 C309.8,181.2 312.3,175.5 314.0,172.0 C315.7,168.5 317.9,164.8 319.4,162.0 C320.9,159.2 321.7,157.2 323.0,155.0 C324.3,152.8 325.3,151.3 327.1,149.0 C328.9,146.7 331.4,143.4 333.6,141.2 C335.8,139.0 338.0,137.9 340.1,136.0 C342.2,134.1 345.0,131.0 346.0,130.0" fill="none" stroke="#3c3c3c" stroke-width="0.9" stroke-linejoin="round"/>
<path d="M321.0,183.0 C321.7,180.2 323.6,171.7 325.0,166.0 C326.4,160.3 328.0,153.3 329.7,149.0 C331.4,144.7 333.3,141.7 335.0,139.9 C336.7,138.2 338.5,138.2 340.0,138.5 C341.5,138.8 342.7,140.2 344.0,142.0 C345.3,143.8 346.5,144.8 348.0,149.0 C349.5,153.2 351.8,161.3 353.1,167.0 C354.4,172.7 355.3,180.3 355.7,183.0" fill="none" stroke="#3c3c3c" stroke-width="0.9" stroke-linejoin="round"/>
<path d="M399.9,138.6 C400.8,139.2 403.1,140.3 405.0,142.0 C406.9,143.7 409.8,148.5 411.6,149.0 C413.4,149.5 414.4,146.5 416.0,145.0 C417.6,143.5 419.4,141.5 421.0,140.0 C422.6,138.5 425.0,136.7 425.8,136.0" fill="none" stroke="#3c3c3c" stroke-width="0.9" stroke-linejoin="round"/>
<path d="M379.1,183.0 C379.8,181.2 381.7,175.5 383.0,172.0 C384.3,168.5 385.4,164.8 386.9,162.0 C388.4,159.2 390.5,155.7 392.0,155.5 C393.5,155.3 394.7,158.6 396.0,161.0 C397.3,163.4 398.8,166.0 399.9,169.7 C401.0,173.4 402.1,180.8 402.5,183.0" fill="none" stroke="#3c3c3c" stroke-width="0.9" stroke-linejoin="round"/>
<path d="M394.7,183.0 C396.0,179.5 399.7,167.2 402.5,162.0 C405.3,156.8 409.0,151.9 411.6,151.6 C414.2,151.3 416.1,156.6 418.0,160.0 C419.9,163.4 421.7,168.2 423.0,172.0 C424.3,175.8 425.5,181.2 426.0,183.0" fill="none" stroke="#3c3c3c" stroke-width="0.9" stroke-linejoin="round"/>
<path d="M425.8,136.0 C426.7,135.5 429.3,133.9 431.0,133.0 C432.7,132.1 434.4,132.3 436.2,130.8 C438.0,129.3 440.0,126.6 442.0,124.0 C444.0,121.4 447.0,116.7 448.0,115.2" fill="none" stroke="#3c3c3c" stroke-width="0.9" stroke-linejoin="round"/>
<path d="M425.8,136.0 C426.7,138.3 429.3,145.7 431.0,150.0 C432.7,154.3 434.5,158.3 436.2,162.0 C437.9,165.7 439.5,169.0 441.0,172.0 C442.5,175.0 444.3,178.7 445.0,180.0" fill="none" stroke="#3c3c3c" stroke-width="0.9" stroke-linejoin="round"/>
<path d="M431.0,183.0 C431.8,181.8 434.3,177.8 436.0,176.0 C437.7,174.2 439.0,173.1 441.0,172.0 C443.0,170.9 446.8,170.1 448.0,169.7" fill="none" stroke="#3c3c3c" stroke-width="0.9" stroke-linejoin="round"/>
</g>
<line x1="270.9" y1="93.75" x2="446.6" y2="93.75" stroke="#e2737c" stroke-width="1.6" stroke-dasharray="4 3" stroke-dashoffset="-1.1"/>
<line x1="270.9" y1="95.35" x2="446.6" y2="95.35" stroke="#e68a92" stroke-width="1.6" stroke-dasharray="4 3" stroke-dashoffset="-1.1"/>
<line x1="393.4" y1="78.5" x2="393.4" y2="89.8" stroke="#e03a45" stroke-width="0.85"/><path d="M391.2,87.6 L393.4,93.1 L395.59999999999997,87.6 L393.4,88.975 Z" fill="#e03a45"/>
<line x1="393.4" y1="110" x2="393.4" y2="100.7" stroke="#e03a45" stroke-width="0.85"/><path d="M391.2,102.9 L393.4,97.4 L395.59999999999997,102.9 L393.4,101.525 Z" fill="#e03a45"/>
<text x="407.9" y="107.1" font-size="11.2" fill="#e03a45">0.05 eV</text>
<line x1="334.4" y1="111.5" x2="360" y2="111.5" stroke="#f0861c" stroke-width="1.0" stroke-dasharray="3.5 2.5" stroke-dashoffset="0"/>
<line x1="340.5" y1="98" x2="340.5" y2="109" stroke="#f0861c" stroke-width="1"/>
<path d="M338.3,100.5 L340.5,95.4 L342.7,100.5 Z" fill="#f0861c"/>
<path d="M338.3,106.5 L340.5,111.6 L342.7,106.5 Z" fill="#f0861c"/>
<text x="344.9" y="107.7" font-size="9.5" fill="#f0861c">0.39 eV</text>
<line x1="310.1" y1="178.9" x2="310.1" y2="181.9" stroke="#222" stroke-width="1"/>
<line x1="324.8" y1="178.9" x2="324.8" y2="181.9" stroke="#222" stroke-width="1"/>
<line x1="365.6" y1="178.9" x2="365.6" y2="181.9" stroke="#222" stroke-width="1"/>
<line x1="400.3" y1="178.9" x2="400.3" y2="181.9" stroke="#222" stroke-width="1"/>
<line x1="428.3" y1="178.9" x2="428.3" y2="181.9" stroke="#222" stroke-width="1"/>
<rect x="270.9" y="6.2" width="175.70" height="175.70" fill="none" stroke="#333" stroke-width="1.6"/>
<text x="267.50" y="9.90" font-size="12.2" text-anchor="end" font-weight="normal" font-style="normal" fill="#1a1a1a" >2</text>
<text x="267.50" y="54.00" font-size="12.2" text-anchor="end" font-weight="normal" font-style="normal" fill="#1a1a1a" >1</text>
<text x="267.50" y="98.10" font-size="12.2" text-anchor="end" font-weight="normal" font-style="normal" fill="#1a1a1a" >0</text>
<text x="267.50" y="142.20" font-size="12.2" text-anchor="end" font-weight="normal" font-style="normal" fill="#1a1a1a" >-1</text>
<text x="267.50" y="186.30" font-size="12.2" text-anchor="end" font-weight="normal" font-style="normal" fill="#1a1a1a" >-2</text>
<rect x="503.1" y="6.2" width="176.10" height="175.70" fill="#e0f4f8"/>
<line x1="543.1" y1="6.2" x2="543.1" y2="181.9" stroke="#88b6d8" stroke-width="1.05" stroke-dasharray="4 2 1 2" stroke-dashoffset="1.4"/>
<line x1="557.1" y1="6.2" x2="557.1" y2="181.9" stroke="#88b6d8" stroke-width="1.05" stroke-dasharray="4 2 1 2" stroke-dashoffset="1.4"/>
<line x1="598.2" y1="6.2" x2="598.2" y2="181.9" stroke="#88b6d8" stroke-width="1.05" stroke-dasharray="4 2 1 2" stroke-dashoffset="1.4"/>
<line x1="632.7" y1="6.2" x2="632.7" y2="181.9" stroke="#88b6d8" stroke-width="1.05" stroke-dasharray="4 2 1 2" stroke-dashoffset="1.4"/>
<line x1="661.1" y1="6.2" x2="661.1" y2="181.9" stroke="#88b6d8" stroke-width="1.05" stroke-dasharray="4 2 1 2" stroke-dashoffset="1.4"/>
<clipPath id="clipc"><rect x="503.1" y="6.2" width="176.10" height="175.70"/></clipPath>
<g clip-path="url(#clipc)">
<path d="M502.0,90.8 L503.5,90.9 L505.0,91.1 L506.5,91.6 L508.0,92.2 L509.5,92.9 L511.0,93.5 L512.5,94.0 L514.0,94.2 L515.5,94.7 L517.0,95.3 L518.5,95.8 L520.0,96.3 L521.5,96.7 L523.0,96.7 L524.5,96.3 L526.0,95.4 L527.5,93.7 L529.0,91.3 L530.5,88.7 L532.0,86.6 L533.5,85.5 L535.0,85.4 L536.5,84.6 L538.0,83.2 L539.5,82.6 L541.0,83.2 L542.5,84.4 L544.0,86.0 L545.5,87.9 L547.0,89.5 L548.5,90.4 L550.0,91.6 L551.5,93.1 L553.0,94.5 L554.5,95.4 L556.0,95.6 L557.5,90.3 L559.0,91.0 L560.5,92.7 L562.0,94.9 L563.5,96.9 L565.0,98.0 L566.5,98.3 L568.0,98.8 L569.5,99.6 L571.0,100.5 L572.5,101.2 L574.0,101.5 L575.5,101.5 L577.0,102.2 L578.5,103.2 L580.0,103.8 L581.5,103.5 L583.0,102.5 L584.5,101.8 L586.0,101.6 L587.5,99.8 L589.0,97.2 L590.5,95.1 L592.0,94.7 L593.5,93.5 L595.0,91.4 L596.5,90.2 L598.0,89.9 L599.5,89.5 L601.0,89.9 L602.5,90.9 L604.0,91.6 L605.5,91.8 L607.0,93.2 L608.5,94.9 L610.0,95.7 L611.5,96.5 L613.0,98.3 L614.5,100.8 L616.0,103.0 L617.5,104.4 L619.0,104.5 L620.5,104.4 L622.0,104.5 L623.5,104.7 L625.0,104.8 L626.5,105.0 L628.0,105.5 L629.5,106.0 L631.0,106.6 L632.5,107.0 L634.0,107.2 L635.5,107.6 L637.0,108.2 L638.5,108.8 L640.0,109.2 L641.5,109.6 L643.0,110.4 L644.5,110.8 L646.0,110.7 L647.5,109.9 L649.0,108.8 L650.5,107.8 L652.0,106.8 L653.5,105.1 L655.0,103.1 L656.5,101.0 L658.0,98.8 L659.5,97.4 L661.0,96.6 L662.5,95.7 L664.0,95.0 L665.5,94.6 L667.0,94.4 L668.5,94.3 L670.0,93.0 L671.5,90.4 L673.0,87.8 L674.5,86.2 L676.0,85.8 L677.5,86.2 L679.0,85.4 L680.5,85.1" fill="none" stroke="#5a5a5a" stroke-width="1.25" stroke-linejoin="round"/>
<path d="M502.0,88.2 L503.5,88.4 L505.0,89.1 L506.5,90.0 L508.0,91.1 L509.5,92.0 L511.0,92.7 L512.5,93.0 L514.0,93.0 L515.5,93.3 L517.0,93.8 L518.5,94.3 L520.0,94.7 L521.5,94.7 L523.0,94.4 L524.5,93.7 L526.0,92.8 L527.5,91.4 L529.0,89.5 L530.5,87.5 L532.0,86.0 L533.5,85.1 L535.0,85.0 L536.5,84.0 L538.0,82.5 L539.5,81.6 L541.0,82.0 L542.5,83.1 L544.0,84.6 L545.5,86.4 L547.0,87.9 L548.5,88.8 L550.0,90.0 L551.5,91.6 L553.0,93.4 L554.5,94.9 L556.0,95.5 L557.5,90.3 L559.0,90.9 L560.5,92.4 L562.0,94.4 L563.5,96.1 L565.0,97.2 L566.5,97.4 L568.0,97.9 L569.5,98.6 L571.0,99.4 L572.5,100.0 L574.0,100.2 L575.5,100.1 L577.0,100.8 L578.5,101.8 L580.0,102.5 L581.5,102.3 L583.0,101.5 L584.5,101.0 L586.0,100.8 L587.5,99.0 L589.0,96.3 L590.5,94.1 L592.0,93.3 L593.5,91.8 L595.0,89.4 L596.5,88.0 L598.0,87.6 L599.5,87.3 L601.0,87.9 L602.5,89.2 L604.0,90.3 L605.5,90.8 L607.0,92.4 L608.5,94.2 L610.0,94.9 L611.5,95.4 L613.0,97.0 L614.5,99.0 L616.0,101.0 L617.5,102.3 L619.0,102.5 L620.5,102.9 L622.0,103.6 L623.5,104.3 L625.0,104.6 L626.5,104.8 L628.0,105.2 L629.5,105.7 L631.0,106.2 L632.5,106.5 L634.0,106.7 L635.5,107.0 L637.0,107.5 L638.5,108.0 L640.0,108.3 L641.5,108.7 L643.0,109.1 L644.5,109.2 L646.0,108.8 L647.5,107.9 L649.0,106.9 L650.5,106.4 L652.0,106.1 L653.5,105.0 L655.0,103.3 L656.5,100.9 L658.0,98.2 L659.5,96.2 L661.0,95.1 L662.5,94.1 L664.0,93.2 L665.5,92.5 L667.0,92.2 L668.5,92.0 L670.0,91.0 L671.5,89.0 L673.0,86.8 L674.5,85.3 L676.0,84.7 L677.5,84.7 L679.0,83.7 L680.5,83.3" fill="none" stroke="#5a5a5a" stroke-width="1.25" stroke-linejoin="round"/>
<path d="M502.0,85.9 L503.5,86.1 L505.0,86.9 L506.5,88.0 L508.0,89.1 L509.5,90.1 L511.0,90.7 L512.5,90.9 L514.0,90.9 L515.5,91.2 L517.0,91.6 L518.5,92.2 L520.0,92.9 L521.5,93.4 L523.0,93.6 L524.5,93.3 L526.0,92.6 L527.5,91.2 L529.0,89.1 L530.5,86.8 L532.0,84.8 L533.5,83.6 L535.0,83.4 L536.5,82.4 L538.0,80.9 L539.5,80.0 L541.0,80.3 L542.5,81.3 L544.0,82.7 L545.5,84.4 L547.0,85.9 L548.5,86.7 L550.0,87.8 L551.5,89.4 L553.0,91.2 L554.5,92.6 L556.0,93.1 L557.5,88.1 L559.0,88.7 L560.5,90.1 L562.0,91.8 L563.5,93.4 L565.0,94.4 L566.5,94.6 L568.0,95.3 L569.5,96.5 L571.0,97.8 L572.5,98.8 L574.0,99.4 L575.5,99.4 L577.0,100.0 L578.5,100.9 L580.0,101.4 L581.5,101.0 L583.0,100.1 L584.5,99.4 L586.0,99.0 L587.5,97.2 L589.0,94.3 L590.5,91.9 L592.0,90.9 L593.5,89.2 L595.0,86.6 L596.5,85.0 L598.0,84.5 L599.5,84.2 L601.0,85.0 L602.5,86.5 L604.0,87.7 L605.5,88.5 L607.0,90.3 L608.5,92.3 L610.0,93.2 L611.5,94.1 L613.0,95.9 L614.5,98.2 L616.0,100.4 L617.5,101.8 L619.0,101.9 L620.5,101.8 L622.0,101.7 L623.5,101.7 L625.0,101.7 L626.5,101.9 L628.0,102.7 L629.5,103.7 L631.0,104.6 L632.5,105.0 L634.0,105.0 L635.5,104.9 L637.0,105.0 L638.5,105.1 L640.0,105.2 L641.5,105.7 L643.0,106.4 L644.5,106.7 L646.0,106.6 L647.5,106.0 L649.0,105.0 L650.5,104.4 L652.0,103.8 L653.5,102.6 L655.0,100.9 L656.5,98.9 L658.0,96.9 L659.5,95.7 L661.0,94.9 L662.5,93.8 L664.0,92.5 L665.5,91.4 L667.0,90.7 L668.5,90.4 L670.0,89.1 L671.5,86.8 L673.0,84.3 L674.5,82.5 L676.0,82.2 L677.5,82.6 L679.0,81.9 L680.5,81.6" fill="none" stroke="#5a5a5a" stroke-width="1.25" stroke-linejoin="round"/>
<path d="M502.0,85.9 L503.5,86.0 L505.0,86.3 L506.5,86.8 L508.0,87.4 L509.5,88.1 L511.0,88.8 L512.5,89.2 L514.0,89.4 L515.5,89.9 L517.0,90.5 L518.5,91.0 L520.0,91.4 L521.5,91.5 L523.0,91.2 L524.5,90.5 L526.0,89.5 L527.5,88.0 L529.0,86.0 L530.5,83.8 L532.0,82.0 L533.5,81.1 L535.0,81.0 L536.5,80.2 L538.0,79.1 L539.5,78.6 L541.0,79.4 L542.5,80.6 L544.0,82.1 L545.5,83.7 L547.0,84.8 L548.5,85.4 L550.0,86.5 L551.5,88.2 L553.0,90.1 L554.5,91.6 L556.0,92.2 L557.5,87.1 L559.0,87.5 L560.5,88.9 L562.0,90.6 L563.5,92.1 L565.0,93.0 L566.5,93.2 L568.0,93.8 L569.5,94.8 L571.0,95.9 L572.5,96.8 L574.0,97.3 L575.5,97.3 L577.0,98.0 L578.5,99.0 L580.0,99.5 L581.5,99.2 L583.0,98.2 L584.5,97.5 L586.0,97.2 L587.5,95.5 L589.0,92.7 L590.5,90.4 L592.0,89.6 L593.5,88.0 L595.0,85.5 L596.5,84.0 L598.0,83.6 L599.5,83.3 L601.0,84.2 L602.5,85.9 L604.0,87.4 L605.5,88.2 L607.0,90.0 L608.5,91.8 L610.0,92.5 L611.5,92.8 L613.0,94.1 L614.5,96.0 L616.0,97.8 L617.5,99.0 L619.0,99.2 L620.5,99.1 L622.0,99.3 L623.5,99.5 L625.0,99.7 L626.5,100.1 L628.0,101.0 L629.5,102.3 L631.0,103.4 L632.5,104.0 L634.0,104.1 L635.5,104.1 L637.0,104.1 L638.5,104.2 L640.0,104.4 L641.5,104.7 L643.0,105.1 L644.5,105.1 L646.0,104.6 L647.5,103.6 L649.0,102.6 L650.5,102.1 L652.0,101.7 L653.5,100.4 L655.0,98.7 L656.5,96.4 L658.0,94.0 L659.5,92.4 L661.0,91.4 L662.5,90.5 L664.0,89.8 L665.5,89.2 L667.0,89.0 L668.5,88.9 L670.0,87.5 L671.5,84.9 L673.0,82.2 L674.5,80.6 L676.0,80.5 L677.5,81.5 L679.0,81.1 L680.5,80.9" fill="none" stroke="#5a5a5a" stroke-width="1.25" stroke-linejoin="round"/>
<path d="M502.0,75.7 L503.5,75.9 L505.0,76.4 L506.5,77.1 L508.0,78.0 L509.5,78.8 L511.0,79.6 L512.5,80.2 L514.0,80.4 L515.5,80.9 L517.0,81.4 L518.5,81.9 L520.0,82.2 L521.5,82.2 L523.0,81.8 L524.5,81.0 L526.0,79.8 L527.5,78.1 L529.0,75.8 L530.5,73.5 L532.0,72.0 L533.5,71.2 L535.0,71.3 L536.5,70.9 L538.0,70.2 L539.5,70.4 L541.0,71.8 L542.5,73.7 L544.0,75.4 L545.5,76.7 L547.0,77.1 L548.5,76.9 L550.0,77.5 L551.5,78.7 L553.0,79.8 L554.5,80.5 L556.0,80.9 L557.5,80.7 L559.0,80.8 L560.5,81.4 L562.0,82.2 L563.5,82.9 L565.0,83.1 L566.5,83.1 L568.0,83.8 L569.5,85.2 L571.0,86.8 L572.5,88.2 L574.0,89.0 L575.5,89.5 L577.0,90.4 L578.5,91.3 L580.0,91.6 L581.5,90.8 L583.0,89.4 L584.5,88.2 L586.0,87.7 L587.5,85.8 L589.0,83.2 L590.5,81.3 L592.0,81.2 L593.5,80.3 L595.0,78.4 L596.5,77.3 L598.0,77.1 L599.5,76.7 L601.0,77.2 L602.5,78.3 L604.0,79.2 L605.5,79.3 L607.0,80.6 L608.5,82.1 L610.0,82.5 L611.5,82.6 L613.0,83.9 L614.5,85.9 L616.0,87.8 L617.5,89.0 L619.0,89.2 L620.5,89.9 L622.0,91.2 L623.5,92.5 L625.0,93.2 L626.5,93.5 L628.0,93.7 L629.5,94.0 L631.0,94.3 L632.5,94.7 L634.0,95.4 L635.5,96.8 L637.0,98.4 L638.5,99.9 L640.0,100.6 L641.5,100.6 L643.0,100.0 L644.5,98.6 L646.0,96.7 L647.5,94.8 L649.0,93.7 L650.5,93.4 L652.0,93.5 L653.5,92.6 L655.0,90.7 L656.5,88.1 L658.0,85.1 L659.5,83.0 L661.0,81.9 L662.5,80.9 L664.0,79.9 L665.5,79.2 L667.0,78.8 L668.5,78.8 L670.0,78.3 L671.5,77.1 L673.0,75.6 L674.5,74.2 L676.0,73.5 L677.5,73.3 L679.0,72.1 L680.5,71.7" fill="none" stroke="#5a5a5a" stroke-width="1.25" stroke-linejoin="round"/>
<path d="M502.0,74.2 L503.5,74.3 L505.0,74.7 L506.5,75.1 L508.0,75.8 L509.5,76.6 L511.0,77.5 L512.5,78.0 L514.0,78.1 L515.5,78.5 L517.0,79.0 L518.5,79.4 L520.0,79.9 L521.5,80.4 L523.0,80.6 L524.5,80.2 L526.0,79.0 L527.5,77.0 L529.0,74.3 L530.5,71.8 L532.0,70.0 L533.5,69.2 L535.0,69.4 L536.5,68.7 L538.0,67.5 L539.5,67.4 L541.0,68.5 L542.5,70.4 L544.0,72.4 L545.5,74.3 L547.0,75.4 L548.5,75.9 L550.0,76.8 L551.5,78.0 L553.0,78.8 L554.5,79.2 L556.0,79.3 L557.5,79.0 L559.0,79.1 L560.5,79.8 L562.0,80.8 L563.5,81.7 L565.0,82.0 L566.5,82.0 L568.0,82.7 L569.5,84.2 L571.0,86.1 L572.5,87.7 L574.0,88.5 L575.5,89.2 L577.0,90.2 L578.5,91.2 L580.0,91.5 L581.5,90.6 L583.0,89.0 L584.5,87.7 L586.0,87.2 L587.5,85.2 L589.0,82.6 L590.5,80.7 L592.0,80.7 L593.5,79.8 L595.0,77.9 L596.5,76.8 L598.0,76.7 L599.5,76.1 L601.0,76.4 L602.5,77.2 L604.0,77.7 L605.5,77.4 L607.0,78.4 L608.5,79.9 L610.0,80.3 L611.5,80.5 L613.0,82.1 L614.5,84.4 L616.0,86.6 L617.5,88.0 L619.0,88.2 L620.5,89.1 L622.0,90.9 L623.5,92.5 L625.0,93.4 L626.5,93.6 L628.0,93.7 L629.5,93.7 L631.0,93.8 L632.5,94.1 L634.0,94.9 L635.5,96.4 L637.0,98.3 L638.5,99.8 L640.0,100.6 L641.5,100.6 L643.0,99.9 L644.5,98.3 L646.0,96.2 L647.5,94.1 L649.0,92.8 L650.5,92.4 L652.0,92.4 L653.5,91.2 L655.0,89.1 L656.5,86.4 L658.0,83.8 L659.5,82.1 L661.0,81.2 L662.5,80.0 L664.0,78.4 L665.5,76.8 L667.0,75.8 L668.5,75.8 L670.0,75.9 L671.5,75.4 L673.0,74.5 L674.5,73.2 L676.0,72.3 L677.5,71.8 L679.0,70.2 L680.5,69.7" fill="none" stroke="#5a5a5a" stroke-width="1.25" stroke-linejoin="round"/>
<path d="M502.0,64.5 L503.5,65.0 L505.0,66.2 L506.5,68.0 L508.0,69.9 L509.5,71.4 L511.0,72.2 L512.5,72.4 L514.0,72.4 L515.5,72.7 L517.0,73.3 L518.5,74.2 L520.0,74.9 L521.5,75.3 L523.0,75.2 L524.5,74.6 L526.0,73.6 L527.5,72.2 L529.0,70.5 L530.5,68.9 L532.0,67.3 L533.5,66.4 L535.0,66.0 L536.5,64.1 L538.0,61.3 L539.5,59.2 L541.0,58.9 L542.5,59.8 L544.0,61.4 L545.5,63.4 L547.0,65.1 L548.5,65.9 L550.0,66.8 L551.5,67.9 L553.0,69.0 L554.5,69.8 L556.0,70.2 L557.5,70.5 L559.0,71.4 L560.5,72.8 L562.0,74.5 L563.5,76.0 L565.0,77.0 L566.5,77.4 L568.0,78.9 L569.5,81.5 L571.0,84.6 L572.5,87.3 L574.0,89.2 L575.5,89.5 L577.0,90.2 L578.5,91.0 L580.0,91.1 L581.5,89.9 L583.0,87.8 L584.5,86.1 L586.0,85.1 L587.5,82.2 L589.0,78.3 L590.5,75.0 L592.0,73.8 L593.5,71.8 L595.0,68.5 L596.5,66.4 L598.0,65.9 L599.5,65.5 L601.0,66.9 L602.5,69.2 L604.0,71.3 L605.5,72.8 L607.0,75.6 L608.5,78.4 L610.0,79.6 L611.5,80.2 L613.0,82.0 L614.5,84.4 L616.0,86.7 L617.5,88.3 L619.0,88.7 L620.5,89.7 L622.0,91.1 L623.5,92.4 L625.0,92.8 L626.5,92.8 L628.0,93.2 L629.5,93.6 L631.0,94.1 L632.5,94.3 L634.0,94.2 L635.5,94.1 L637.0,94.1 L638.5,94.3 L640.0,94.5 L641.5,94.7 L643.0,94.7 L644.5,94.1 L646.0,92.9 L647.5,91.5 L649.0,90.4 L650.5,89.7 L652.0,89.2 L653.5,87.8 L655.0,85.7 L656.5,83.5 L658.0,81.8 L659.5,81.2 L661.0,80.5 L662.5,78.6 L664.0,75.9 L665.5,73.3 L667.0,71.4 L668.5,70.9 L670.0,70.0 L671.5,68.2 L673.0,66.0 L674.5,63.8 L676.0,62.8 L677.5,62.7 L679.0,61.0 L680.5,60.4" fill="none" stroke="#5a5a5a" stroke-width="1.25" stroke-linejoin="round"/>
<path d="M502.0,61.4 L503.5,62.1 L505.0,63.9 L506.5,66.3 L508.0,68.8 L509.5,70.7 L511.0,71.5 L512.5,71.6 L514.0,71.2 L515.5,71.2 L517.0,71.6 L518.5,72.4 L520.0,73.0 L521.5,73.3 L523.0,73.0 L524.5,72.1 L526.0,70.9 L527.5,69.2 L529.0,67.4 L530.5,65.5 L532.0,64.0 L533.5,63.1 L535.0,62.8 L536.5,61.2 L538.0,58.8 L539.5,57.2 L541.0,57.5 L542.5,58.9 L544.0,60.7 L545.5,62.5 L547.0,63.7 L548.5,64.0 L550.0,64.9 L551.5,66.2 L553.0,67.3 L554.5,68.1 L556.0,68.5 L557.5,68.6 L559.0,69.3 L560.5,70.3 L562.0,71.6 L563.5,72.7 L565.0,73.4 L566.5,73.7 L568.0,75.3 L569.5,78.2 L571.0,81.6 L572.5,84.7 L574.0,86.8 L575.5,87.4 L577.0,88.2 L578.5,89.2 L580.0,89.4 L581.5,88.2 L583.0,86.1 L584.5,84.3 L586.0,83.4 L587.5,80.5 L589.0,76.5 L590.5,73.2 L592.0,72.1 L593.5,70.1 L595.0,66.8 L596.5,64.8 L598.0,64.3 L599.5,63.9 L601.0,65.0 L602.5,67.2 L604.0,69.0 L605.5,70.1 L607.0,72.7 L608.5,75.5 L610.0,76.6 L611.5,77.3 L613.0,79.4 L614.5,82.1 L616.0,84.8 L617.5,86.5 L619.0,87.0 L620.5,88.2 L622.0,90.1 L623.5,91.8 L625.0,92.5 L626.5,92.5 L628.0,92.7 L629.5,92.9 L631.0,93.2 L632.5,93.5 L634.0,93.4 L635.5,93.3 L637.0,93.3 L638.5,93.5 L640.0,93.7 L641.5,94.1 L643.0,94.6 L644.5,94.4 L646.0,93.6 L647.5,92.3 L649.0,90.9 L650.5,89.9 L652.0,89.1 L653.5,87.1 L655.0,84.7 L656.5,81.9 L658.0,79.2 L659.5,77.7 L661.0,76.6 L662.5,74.8 L664.0,72.6 L665.5,70.6 L667.0,69.3 L668.5,68.9 L670.0,67.9 L671.5,65.9 L673.0,63.4 L674.5,61.2 L676.0,60.6 L677.5,61.1 L679.0,60.0 L680.5,59.5" fill="none" stroke="#5a5a5a" stroke-width="1.25" stroke-linejoin="round"/>
<path d="M502.0,60.0 L503.5,60.3 L505.0,61.3 L506.5,62.7 L508.0,64.2 L509.5,65.6 L511.0,66.5 L512.5,66.9 L514.0,67.0 L515.5,67.4 L517.0,68.1 L518.5,68.9 L520.0,69.8 L521.5,70.4 L523.0,70.5 L524.5,69.9 L526.0,68.8 L527.5,67.1 L529.0,65.3 L530.5,63.6 L532.0,62.1 L533.5,61.3 L535.0,61.0 L536.5,59.4 L538.0,57.0 L539.5,55.4 L541.0,55.7 L542.5,57.1 L544.0,58.8 L545.5,60.1 L547.0,60.4 L548.5,59.9 L550.0,60.5 L551.5,62.3 L553.0,64.6 L554.5,66.8 L556.0,68.2 L557.5,68.6 L559.0,69.0 L560.5,69.6 L562.0,70.4 L563.5,71.0 L565.0,71.4 L566.5,71.6 L568.0,73.0 L569.5,75.5 L571.0,78.4 L572.5,80.9 L574.0,82.6 L575.5,83.0 L577.0,83.9 L578.5,85.1 L580.0,85.6 L581.5,84.7 L583.0,83.0 L584.5,81.6 L586.0,81.0 L587.5,78.2 L589.0,74.4 L590.5,71.3 L592.0,70.5 L593.5,68.7 L595.0,65.6 L596.5,63.9 L598.0,63.9 L599.5,63.0 L601.0,63.6 L602.5,65.1 L604.0,66.2 L605.5,66.7 L607.0,68.9 L608.5,71.3 L610.0,72.4 L611.5,73.1 L613.0,75.1 L614.5,77.8 L616.0,80.5 L617.5,82.2 L619.0,82.6 L620.5,83.3 L622.0,84.6 L623.5,85.8 L625.0,86.3 L626.5,86.7 L628.0,87.9 L629.5,89.4 L631.0,90.8 L632.5,91.5 L634.0,91.5 L635.5,91.4 L637.0,91.4 L638.5,91.5 L640.0,91.8 L641.5,91.8 L643.0,91.2 L644.5,89.7 L646.0,87.6 L647.5,85.7 L649.0,84.3 L650.5,83.8 L652.0,83.5 L653.5,82.1 L655.0,79.8 L656.5,77.4 L658.0,75.8 L659.5,75.3 L661.0,74.7 L662.5,73.0 L664.0,71.0 L665.5,69.1 L667.0,67.9 L668.5,67.5 L670.0,66.7 L671.5,64.9 L673.0,62.6 L674.5,60.4 L676.0,58.8 L677.5,57.9 L679.0,55.5 L680.5,54.7" fill="none" stroke="#5a5a5a" stroke-width="1.25" stroke-linejoin="round"/>
<path d="M502.0,57.8 L503.5,58.1 L505.0,58.7 L506.5,59.6 L508.0,60.7 L509.5,61.8 L511.0,62.8 L512.5,63.0 L514.0,62.4 L515.5,62.2 L517.0,62.4 L518.5,62.9 L520.0,63.2 L521.5,63.0 L523.0,62.3 L524.5,61.0 L526.0,59.3 L527.5,57.7 L529.0,56.6 L530.5,56.2 L532.0,56.5 L533.5,56.7 L535.0,56.8 L536.5,55.0 L538.0,52.2 L539.5,50.5 L541.0,50.8 L542.5,52.4 L544.0,54.9 L545.5,57.4 L547.0,59.0 L548.5,59.7 L550.0,60.9 L551.5,62.3 L553.0,63.3 L554.5,63.8 L556.0,63.8 L557.5,63.5 L559.0,63.5 L560.5,64.1 L562.0,65.0 L563.5,65.7 L565.0,65.8 L566.5,65.8 L568.0,66.8 L569.5,68.8 L571.0,71.1 L572.5,73.2 L574.0,74.4 L575.5,75.1 L577.0,76.4 L578.5,77.9 L580.0,78.7 L581.5,78.2 L583.0,76.8 L584.5,75.7 L586.0,75.4 L587.5,73.0 L589.0,69.1 L590.5,65.9 L592.0,64.9 L593.5,62.6 L595.0,59.0 L596.5,56.7 L598.0,55.9 L599.5,55.7 L601.0,57.2 L602.5,59.7 L604.0,61.8 L605.5,62.7 L607.0,65.1 L608.5,67.5 L610.0,68.2 L611.5,68.4 L613.0,70.3 L614.5,73.1 L616.0,75.8 L617.5,77.5 L619.0,77.6 L620.5,77.8 L622.0,78.7 L623.5,79.6 L625.0,80.2 L626.5,81.2 L628.0,83.1 L629.5,85.5 L631.0,87.6 L632.5,88.9 L634.0,89.3 L635.5,89.7 L637.0,90.0 L638.5,90.3 L640.0,90.7 L641.5,91.0 L643.0,91.0 L644.5,90.1 L646.0,88.4 L647.5,86.4 L649.0,84.6 L650.5,83.3 L652.0,82.2 L653.5,79.8 L655.0,76.8 L656.5,73.8 L658.0,71.4 L659.5,70.2 L661.0,69.5 L662.5,67.8 L664.0,65.3 L665.5,62.9 L667.0,61.4 L668.5,61.2 L670.0,61.1 L671.5,60.4 L673.0,59.0 L674.5,57.2 L676.0,55.3 L677.5,53.6 L679.0,50.6 L680.5,49.8" fill="none" stroke="#5a5a5a" stroke-width="1.25" stroke-linejoin="round"/>
<path d="M502.0,53.1 L503.5,53.5 L505.0,54.3 L506.5,55.4 L508.0,56.8 L509.5,58.1 L511.0,59.1 L512.5,59.7 L514.0,59.8 L515.5,60.3 L517.0,61.0 L518.5,61.5 L520.0,61.7 L521.5,61.3 L523.0,60.3 L524.5,58.9 L526.0,57.1 L527.5,55.3 L529.0,53.6 L530.5,52.3 L532.0,51.8 L533.5,51.6 L535.0,51.6 L536.5,50.2 L538.0,48.0 L539.5,46.9 L541.0,47.7 L542.5,49.6 L544.0,51.9 L545.5,53.3 L547.0,53.6 L548.5,53.1 L550.0,53.8 L551.5,55.9 L553.0,58.7 L554.5,61.3 L556.0,62.9 L557.5,63.0 L559.0,62.6 L560.5,62.4 L562.0,62.1 L563.5,61.8 L565.0,61.3 L566.5,61.2 L568.0,62.3 L569.5,64.3 L571.0,66.8 L572.5,69.0 L574.0,70.2 L575.5,70.9 L577.0,72.1 L578.5,73.8 L580.0,74.8 L581.5,74.6 L583.0,73.5 L584.5,72.7 L586.0,72.6 L587.5,70.3 L589.0,66.7 L590.5,63.9 L592.0,63.3 L593.5,61.5 L595.0,58.4 L596.5,56.7 L598.0,56.5 L599.5,55.7 L601.0,56.4 L602.5,58.0 L604.0,59.3 L605.5,59.6 L607.0,61.4 L608.5,63.5 L610.0,63.9 L611.5,64.0 L613.0,65.6 L614.5,68.1 L616.0,70.6 L617.5,72.2 L619.0,72.5 L620.5,73.5 L622.0,75.5 L623.5,77.3 L625.0,78.2 L626.5,79.0 L628.0,80.4 L629.5,82.1 L631.0,83.7 L632.5,84.8 L634.0,84.9 L635.5,84.3 L637.0,83.5 L638.5,82.8 L640.0,82.8 L641.5,83.3 L643.0,83.8 L644.5,83.6 L646.0,82.5 L647.5,80.8 L649.0,79.2 L650.5,78.1 L652.0,77.1 L653.5,75.0 L655.0,72.1 L656.5,69.1 L658.0,66.4 L659.5,64.9 L661.0,64.0 L662.5,62.7 L664.0,61.2 L665.5,60.1 L667.0,59.4 L668.5,59.4 L670.0,58.3 L671.5,56.0 L673.0,53.4 L674.5,51.3 L676.0,49.8 L677.5,48.7 L679.0,46.2 L680.5,45.5" fill="none" stroke="#5a5a5a" stroke-width="1.25" stroke-linejoin="round"/>
<path d="M502.0,50.3 L503.5,50.8 L505.0,51.7 L506.5,53.0 L508.0,54.5 L509.5,55.8 L511.0,57.0 L512.5,57.4 L514.0,57.2 L515.5,57.3 L517.0,57.7 L518.5,58.0 L520.0,58.2 L521.5,58.1 L523.0,57.4 L524.5,56.1 L526.0,54.3 L527.5,52.1 L529.0,50.0 L530.5,48.5 L532.0,48.1 L533.5,48.0 L535.0,48.2 L536.5,46.5 L538.0,43.6 L539.5,42.0 L541.0,42.4 L542.5,44.2 L544.0,47.1 L545.5,50.0 L547.0,51.9 L548.5,52.9 L550.0,54.3 L551.5,56.1 L553.0,57.6 L554.5,58.5 L556.0,58.9 L557.5,58.5 L559.0,58.0 L560.5,57.9 L562.0,58.1 L563.5,58.1 L565.0,57.6 L566.5,57.4 L568.0,58.0 L569.5,59.4 L571.0,61.1 L572.5,62.5 L574.0,63.1 L575.5,63.8 L577.0,65.3 L578.5,67.4 L580.0,68.9 L581.5,69.3 L583.0,68.8 L584.5,68.6 L586.0,69.0 L587.5,67.1 L589.0,64.1 L590.5,62.1 L592.0,62.5 L593.5,61.5 L595.0,59.4 L596.5,58.5 L598.0,59.2 L599.5,57.7 L601.0,57.1 L602.5,57.3 L604.0,57.0 L605.5,55.6 L607.0,56.1 L608.5,57.4 L610.0,57.6 L611.5,57.7 L613.0,59.7 L614.5,62.8 L616.0,65.6 L617.5,67.3 L619.0,67.5 L620.5,68.4 L622.0,70.5 L623.5,72.4 L625.0,73.5 L626.5,74.4 L628.0,75.9 L629.5,77.7 L631.0,79.3 L632.5,80.5 L634.0,81.2 L635.5,81.8 L637.0,82.4 L638.5,82.8 L640.0,83.3 L641.5,83.7 L643.0,83.8 L644.5,83.0 L646.0,81.3 L647.5,79.1 L649.0,77.1 L650.5,75.3 L652.0,73.5 L653.5,70.3 L655.0,66.9 L656.5,64.3 L658.0,63.3 L659.5,63.4 L661.0,63.4 L662.5,61.7 L664.0,58.9 L665.5,56.1 L667.0,54.3 L668.5,54.1 L670.0,53.8 L671.5,52.4 L673.0,50.6 L674.5,49.0 L676.0,47.7 L677.5,46.8 L679.0,44.6 L680.5,44.0" fill="none" stroke="#5a5a5a" stroke-width="1.25" stroke-linejoin="round"/>
<path d="M502.0,41.6 L503.5,42.0 L505.0,43.0 L506.5,44.5 L508.0,46.1 L509.5,47.4 L511.0,48.5 L512.5,49.4 L514.0,50.5 L515.5,51.8 L517.0,53.2 L518.5,54.2 L520.0,54.7 L521.5,54.5 L523.0,53.6 L524.5,52.4 L526.0,51.1 L527.5,49.5 L529.0,47.7 L530.5,45.8 L532.0,44.1 L533.5,43.1 L535.0,42.8 L536.5,41.5 L538.0,39.5 L539.5,38.4 L541.0,39.0 L542.5,40.5 L544.0,42.3 L545.5,44.3 L547.0,45.9 L548.5,46.5 L550.0,47.5 L551.5,48.7 L553.0,49.6 L554.5,50.2 L556.0,50.5 L557.5,50.6 L559.0,51.5 L560.5,52.9 L562.0,54.5 L563.5,56.0 L565.0,56.9 L566.5,57.3 L568.0,58.4 L569.5,60.3 L571.0,62.4 L572.5,64.2 L574.0,65.3 L575.5,65.3 L577.0,66.1 L578.5,67.2 L580.0,67.6 L581.5,66.7 L583.0,64.9 L584.5,63.4 L586.0,62.7 L587.5,59.8 L589.0,55.7 L590.5,52.8 L592.0,52.5 L593.5,51.4 L595.0,48.9 L596.5,47.5 L598.0,47.2 L599.5,46.6 L601.0,47.3 L602.5,48.7 L604.0,49.7 L605.5,50.1 L607.0,52.4 L608.5,55.3 L610.0,56.9 L611.5,58.2 L613.0,60.8 L614.5,64.2 L616.0,67.4 L617.5,69.4 L619.0,69.7 L620.5,69.8 L622.0,70.1 L623.5,70.4 L625.0,70.5 L626.5,70.6 L628.0,71.1 L629.5,71.9 L631.0,72.6 L632.5,73.0 L634.0,73.0 L635.5,73.0 L637.0,73.2 L638.5,73.5 L640.0,73.8 L641.5,74.0 L643.0,74.1 L644.5,73.4 L646.0,72.2 L647.5,70.7 L649.0,69.3 L650.5,68.2 L652.0,67.2 L653.5,65.2 L655.0,62.7 L656.5,60.5 L658.0,59.0 L659.5,58.6 L661.0,58.0 L662.5,56.3 L664.0,54.4 L665.5,52.7 L667.0,51.5 L668.5,51.1 L670.0,49.8 L671.5,47.4 L673.0,44.5 L674.5,42.1 L676.0,40.6 L677.5,39.7 L679.0,37.3 L680.5,36.6" fill="none" stroke="#5a5a5a" stroke-width="1.25" stroke-linejoin="round"/>
<path d="M502.0,42.1 L503.5,42.7 L505.0,43.9 L506.5,45.6 L508.0,47.4 L509.5,49.0 L511.0,50.1 L512.5,50.2 L514.0,49.5 L515.5,49.1 L517.0,49.1 L518.5,49.4 L520.0,49.9 L521.5,50.1 L523.0,49.8 L524.5,48.8 L526.0,47.1 L527.5,44.8 L529.0,42.4 L530.5,40.4 L532.0,39.5 L533.5,39.1 L535.0,39.4 L536.5,38.3 L538.0,36.3 L539.5,35.6 L541.0,36.9 L542.5,39.1 L544.0,41.9 L545.5,44.4 L547.0,45.7 L548.5,46.2 L550.0,47.4 L551.5,49.5 L553.0,51.7 L554.5,53.6 L556.0,54.6 L557.5,54.3 L559.0,53.6 L560.5,53.0 L562.0,52.4 L563.5,51.8 L565.0,50.9 L566.5,50.7 L568.0,51.3 L569.5,52.8 L571.0,54.5 L572.5,55.9 L574.0,56.6 L575.5,57.3 L577.0,58.8 L578.5,60.6 L580.0,61.9 L581.5,61.8 L583.0,60.9 L584.5,60.3 L586.0,60.4 L587.5,58.3 L589.0,55.1 L590.5,52.6 L592.0,52.4 L593.5,50.8 L595.0,47.9 L596.5,46.4 L598.0,46.5 L599.5,45.6 L601.0,46.0 L602.5,47.4 L604.0,48.5 L605.5,48.3 L607.0,49.7 L608.5,51.3 L610.0,51.6 L611.5,51.8 L613.0,53.9 L614.5,57.0 L616.0,59.9 L617.5,61.6 L619.0,61.9 L620.5,62.8 L622.0,64.9 L623.5,66.8 L625.0,68.0 L626.5,68.7 L628.0,69.7 L629.5,70.8 L631.0,71.9 L632.5,72.8 L634.0,73.4 L635.5,73.6 L637.0,73.7 L638.5,73.8 L640.0,74.1 L641.5,74.7 L643.0,75.3 L644.5,75.2 L646.0,74.1 L647.5,72.2 L649.0,70.3 L650.5,68.6 L652.0,66.8 L653.5,63.8 L655.0,60.5 L656.5,57.5 L658.0,55.5 L659.5,54.7 L661.0,54.3 L662.5,52.5 L664.0,49.5 L665.5,46.4 L667.0,44.4 L668.5,44.3 L670.0,44.2 L671.5,43.2 L673.0,41.7 L674.5,40.2 L676.0,40.1 L677.5,41.2 L679.0,40.6 L680.5,40.3" fill="none" stroke="#5a5a5a" stroke-width="1.25" stroke-linejoin="round"/>
<path d="M502.0,39.9 L503.5,40.1 L505.0,40.7 L506.5,41.4 L508.0,42.4 L509.5,43.5 L511.0,44.5 L512.5,45.2 L514.0,45.4 L515.5,45.9 L517.0,46.5 L518.5,47.1 L520.0,47.4 L521.5,47.4 L523.0,46.8 L524.5,45.7 L526.0,44.1 L527.5,42.2 L529.0,40.5 L530.5,39.2 L532.0,38.8 L533.5,38.6 L535.0,38.6 L536.5,36.7 L538.0,33.5 L539.5,31.5 L541.0,31.4 L542.5,32.8 L544.0,35.3 L545.5,38.2 L547.0,40.5 L548.5,41.7 L550.0,43.1 L551.5,44.6 L553.0,45.8 L554.5,46.4 L556.0,46.6 L557.5,46.3 L559.0,46.3 L560.5,47.0 L562.0,47.9 L563.5,48.6 L565.0,48.8 L566.5,48.8 L568.0,49.6 L569.5,51.2 L571.0,53.1 L572.5,54.7 L574.0,55.5 L575.5,56.0 L577.0,57.4 L578.5,59.3 L580.0,60.7 L581.5,60.9 L583.0,60.3 L584.5,60.1 L586.0,60.3 L587.5,58.3 L589.0,55.3 L590.5,53.0 L592.0,52.8 L593.5,51.5 L595.0,49.0 L596.5,47.9 L598.0,48.4 L599.5,46.9 L601.0,46.3 L602.5,46.3 L604.0,45.9 L605.5,44.7 L607.0,45.3 L608.5,46.7 L610.0,47.2 L611.5,47.7 L613.0,49.9 L614.5,52.9 L616.0,55.8 L617.5,57.6 L619.0,58.0 L620.5,59.5 L622.0,62.3 L623.5,64.9 L625.0,66.1 L626.5,66.4 L628.0,66.7 L629.5,66.9 L631.0,67.2 L632.5,67.7 L634.0,68.3 L635.5,69.0 L637.0,69.8 L638.5,70.5 L640.0,71.0 L641.5,71.3 L643.0,71.4 L644.5,70.6 L646.0,69.0 L647.5,67.0 L649.0,65.4 L650.5,64.7 L652.0,64.3 L653.5,62.6 L655.0,59.9 L656.5,57.2 L658.0,55.3 L659.5,54.6 L661.0,54.1 L662.5,52.2 L664.0,49.1 L665.5,45.9 L667.0,43.8 L668.5,43.5 L670.0,43.5 L671.5,42.8 L673.0,41.5 L674.5,39.9 L676.0,38.5 L677.5,37.5 L679.0,35.1 L680.5,34.5" fill="none" stroke="#5a5a5a" stroke-width="1.25" stroke-linejoin="round"/>
<path d="M502.0,38.9 L503.5,39.1 L505.0,39.5 L506.5,40.2 L508.0,41.0 L509.5,42.0 L511.0,43.0 L512.5,43.8 L514.0,44.2 L515.5,44.8 L517.0,45.6 L518.5,46.0 L520.0,46.2 L521.5,45.9 L523.0,45.2 L524.5,43.9 L526.0,42.3 L527.5,40.2 L529.0,38.0 L530.5,36.1 L532.0,35.1 L533.5,34.8 L535.0,34.9 L536.5,33.6 L538.0,31.5 L539.5,30.4 L541.0,31.1 L542.5,32.9 L544.0,35.4 L545.5,37.6 L547.0,39.0 L548.5,39.6 L550.0,40.6 L551.5,42.3 L553.0,43.9 L554.5,45.1 L556.0,45.7 L557.5,45.4 L559.0,44.7 L560.5,44.2 L562.0,43.7 L563.5,43.2 L565.0,42.5 L566.5,42.3 L568.0,43.1 L569.5,44.7 L571.0,46.8 L572.5,48.5 L574.0,49.5 L575.5,50.2 L577.0,51.6 L578.5,53.3 L580.0,54.5 L581.5,54.7 L583.0,54.1 L584.5,53.7 L586.0,53.9 L587.5,52.1 L589.0,49.7 L590.5,48.0 L592.0,48.4 L593.5,47.7 L595.0,45.9 L596.5,45.5 L598.0,46.6 L599.5,44.9 L601.0,44.3 L602.5,44.7 L604.0,44.9 L605.5,44.0 L607.0,44.6 L608.5,45.5 L610.0,45.7 L611.5,45.8 L613.0,47.6 L614.5,50.3 L616.0,52.7 L617.5,54.3 L619.0,54.6 L620.5,55.6 L622.0,57.8 L623.5,59.8 L625.0,60.9 L626.5,61.2 L628.0,61.1 L629.5,61.0 L631.0,61.0 L632.5,61.4 L634.0,62.2 L635.5,63.8 L637.0,65.6 L638.5,67.1 L640.0,67.9 L641.5,68.1 L643.0,67.8 L644.5,66.6 L646.0,64.7 L647.5,62.6 L649.0,61.0 L650.5,60.1 L652.0,59.5 L653.5,57.7 L655.0,55.0 L656.5,52.1 L658.0,49.4 L659.5,47.7 L661.0,46.9 L662.5,45.6 L664.0,44.1 L665.5,42.7 L667.0,41.9 L668.5,41.9 L670.0,41.5 L671.5,40.2 L673.0,38.5 L674.5,36.9 L676.0,36.0 L677.5,35.5 L679.0,33.8 L680.5,33.3" fill="none" stroke="#5a5a5a" stroke-width="1.25" stroke-linejoin="round"/>
<path d="M502.0,37.9 L503.5,38.1 L505.0,38.4 L506.5,39.0 L508.0,39.7 L509.5,40.6 L511.0,41.6 L512.5,42.4 L514.0,42.8 L515.5,43.5 L517.0,44.2 L518.5,44.5 L520.0,44.5 L521.5,43.9 L523.0,42.8 L524.5,41.3 L526.0,39.6 L527.5,37.7 L529.0,35.9 L530.5,34.5 L532.0,33.9 L533.5,33.8 L535.0,33.9 L536.5,32.7 L538.0,30.8 L539.5,29.9 L541.0,30.6 L542.5,32.4 L544.0,34.7 L545.5,36.6 L547.0,37.4 L548.5,37.5 L550.0,38.4 L551.5,40.2 L553.0,42.2 L554.5,43.9 L556.0,44.9 L557.5,44.7 L559.0,44.0 L560.5,43.4 L562.0,42.8 L563.5,42.1 L565.0,41.3 L566.5,41.1 L568.0,41.9 L569.5,43.5 L571.0,45.5 L572.5,47.2 L574.0,48.1 L575.5,48.8 L577.0,50.1 L578.5,51.7 L580.0,52.8 L581.5,52.9 L583.0,52.1 L584.5,51.7 L586.0,51.8 L587.5,50.0 L589.0,47.9 L590.5,46.6 L592.0,47.3 L593.5,46.9 L595.0,45.5 L596.5,45.5 L598.0,46.9 L599.5,45.0 L601.0,44.0 L602.5,43.9 L604.0,43.5 L605.5,42.3 L607.0,42.5 L608.5,43.1 L610.0,43.2 L611.5,43.5 L613.0,45.3 L614.5,48.0 L616.0,50.5 L617.5,52.0 L619.0,52.3 L620.5,53.5 L622.0,55.8 L623.5,57.9 L625.0,59.0 L626.5,59.4 L628.0,59.5 L629.5,59.6 L631.0,59.8 L632.5,60.3 L634.0,61.0 L635.5,62.1 L637.0,63.2 L638.5,64.2 L640.0,64.9 L641.5,65.1 L643.0,65.0 L644.5,64.1 L646.0,62.5 L647.5,60.5 L649.0,58.9 L650.5,57.7 L652.0,56.7 L653.5,54.5 L655.0,51.8 L656.5,49.3 L658.0,47.5 L659.5,46.8 L661.0,46.3 L662.5,44.9 L664.0,43.0 L665.5,41.2 L667.0,40.0 L668.5,40.0 L670.0,39.7 L671.5,38.7 L673.0,37.2 L674.5,35.7 L676.0,34.5 L677.5,33.6 L679.0,31.6 L680.5,31.1" fill="none" stroke="#5a5a5a" stroke-width="1.25" stroke-linejoin="round"/>
<path d="M502.0,35.3 L503.5,35.5 L505.0,35.8 L506.5,36.2 L508.0,36.9 L509.5,37.8 L511.0,38.7 L512.5,39.7 L514.0,40.5 L515.5,41.6 L517.0,42.6 L518.5,43.2 L520.0,43.4 L521.5,43.4 L523.0,42.9 L524.5,41.9 L526.0,40.5 L527.5,38.7 L529.0,36.6 L530.5,34.7 L532.0,33.6 L533.5,33.0 L535.0,33.0 L536.5,31.7 L538.0,29.7 L539.5,28.6 L541.0,29.1 L542.5,30.6 L544.0,32.7 L545.5,34.6 L547.0,35.8 L548.5,36.3 L550.0,37.2 L551.5,38.6 L553.0,39.9 L554.5,40.8 L556.0,41.3 L557.5,41.1 L559.0,40.8 L560.5,40.6 L562.0,40.4 L563.5,40.2 L565.0,39.8 L566.5,39.7 L568.0,40.7 L569.5,42.6 L571.0,45.0 L572.5,47.0 L574.0,48.3 L575.5,49.0 L577.0,50.1 L578.5,51.6 L580.0,52.7 L581.5,52.8 L583.0,52.2 L584.5,51.9 L586.0,52.0 L587.5,50.2 L589.0,48.1 L590.5,46.8 L592.0,47.4 L593.5,47.0 L595.0,45.7 L596.5,45.8 L598.0,47.3 L599.5,45.3 L601.0,44.2 L602.5,43.9 L604.0,43.5 L605.5,42.3 L607.0,42.5 L608.5,43.3 L610.0,43.4 L611.5,43.6 L613.0,45.2 L614.5,47.5 L616.0,49.7 L617.5,51.1 L619.0,51.4 L620.5,52.4 L622.0,54.3 L623.5,56.1 L625.0,57.0 L626.5,57.1 L628.0,57.1 L629.5,57.0 L631.0,57.1 L632.5,57.4 L634.0,58.0 L635.5,59.3 L637.0,60.7 L638.5,62.0 L640.0,62.8 L641.5,62.9 L643.0,62.5 L644.5,61.4 L646.0,59.7 L647.5,57.8 L649.0,56.4 L650.5,55.5 L652.0,54.8 L653.5,53.0 L655.0,50.7 L656.5,48.3 L658.0,46.6 L659.5,45.9 L661.0,45.4 L662.5,44.1 L664.0,42.5 L665.5,40.9 L667.0,40.0 L668.5,39.8 L670.0,39.0 L671.5,37.1 L673.0,35.0 L674.5,33.3 L676.0,32.1 L677.5,31.2 L679.0,29.3 L680.5,28.7" fill="none" stroke="#5a5a5a" stroke-width="1.25" stroke-linejoin="round"/>
<path d="M502.0,33.0 L503.5,33.4 L505.0,33.8 L506.5,34.1 L508.0,34.3 L509.5,34.4 L511.0,34.1 L512.5,34.0 L514.0,34.9 L515.5,35.9 L517.0,37.1 L518.5,38.0 L520.0,38.1 L521.5,37.1 L523.0,35.5 L524.5,33.4 L526.0,30.8 L527.5,30.1 L529.0,28.9 L530.5,27.8 L532.0,27.5 L533.5,27.7 L535.0,28.0 L536.5,27.2 L538.0,25.8 L539.5,25.4 L541.0,26.4 L542.5,28.2 L544.0,30.4 L545.5,32.9 L547.0,34.7 L548.5,35.8 L550.0,36.9 L551.5,38.2 L553.0,39.2 L554.5,39.8 L556.0,40.0 L557.5,39.6 L559.0,38.9 L560.5,38.2 L562.0,37.5 L563.5,36.8 L565.0,36.0 L566.5,35.7 L568.0,36.5 L569.5,38.3 L571.0,40.4 L572.5,42.3 L574.0,43.4 L575.5,44.2 L577.0,45.4 L578.5,46.7 L580.0,47.5 L581.5,47.3 L583.0,46.4 L584.5,45.8 L586.0,45.7 L587.5,44.1 L589.0,42.1 L590.5,41.0 L592.0,41.7 L593.5,41.6 L595.0,40.6 L596.5,40.5 L598.0,41.4 L599.5,40.0 L601.0,39.0 L602.5,38.5 L604.0,37.7 L605.5,36.1 L607.0,36.1 L608.5,36.8 L610.0,37.0 L611.5,37.4 L613.0,39.3 L614.5,41.9 L616.0,44.3 L617.5,45.8 L619.0,46.0 L620.5,47.0 L622.0,48.9 L623.5,50.7 L625.0,51.7 L626.5,52.0 L628.0,52.1 L629.5,52.3 L631.0,52.5 L632.5,52.9 L634.0,53.4 L635.5,53.7 L637.0,54.0 L638.5,54.2 L640.0,54.5 L641.5,54.8 L643.0,55.0 L644.5,54.6 L646.0,53.5 L647.5,51.9 L649.0,50.5 L650.5,49.5 L652.0,48.7 L653.5,46.9 L655.0,44.5 L656.5,42.0 L658.0,39.8 L659.5,38.4 L661.0,37.8 L662.5,36.7 L664.0,35.4 L665.5,34.3 L667.0,33.6 L668.5,33.7 L670.0,33.6 L671.5,33.0 L673.0,31.9 L674.5,30.8 L676.0,29.8 L677.5,29.0 L679.0,27.2 L680.5,26.8" fill="none" stroke="#5a5a5a" stroke-width="1.25" stroke-linejoin="round"/>
<path d="M502.0,32.0 L503.5,32.2 L505.0,32.2 L506.5,31.9 L508.0,31.7 L509.5,31.5 L511.0,31.2 L512.5,31.3 L514.0,32.6 L515.5,34.1 L517.0,35.5 L518.5,36.4 L520.0,36.3 L521.5,35.1 L523.0,33.4 L524.5,31.2 L526.0,28.6 L527.5,27.8 L529.0,26.4 L530.5,25.0 L532.0,24.6 L533.5,24.7 L535.0,25.0 L536.5,24.4 L538.0,23.2 L539.5,23.1 L541.0,24.2 L542.5,26.0 L544.0,28.2 L545.5,30.7 L547.0,32.5 L548.5,33.6 L550.0,34.7 L551.5,36.1 L553.0,37.4 L554.5,38.4 L556.0,38.9 L557.5,38.6 L559.0,37.8 L560.5,37.2 L562.0,36.6 L563.5,35.9 L565.0,35.1 L566.5,34.9 L568.0,35.7 L569.5,37.4 L571.0,39.4 L572.5,41.3 L574.0,42.4 L575.5,43.3 L577.0,44.5 L578.5,45.7 L580.0,46.3 L581.5,45.9 L583.0,44.8 L584.5,44.0 L586.0,43.8 L587.5,42.3 L589.0,40.5 L590.5,39.4 L592.0,40.2 L593.5,40.1 L595.0,39.0 L596.5,39.0 L598.0,39.9 L599.5,38.5 L601.0,37.5 L602.5,37.0 L604.0,36.2 L605.5,34.5 L607.0,34.4 L608.5,34.9 L610.0,35.1 L611.5,35.3 L613.0,37.1 L614.5,39.6 L616.0,41.9 L617.5,43.3 L619.0,43.5 L620.5,44.4 L622.0,46.3 L623.5,48.1 L625.0,49.1 L626.5,49.5 L628.0,49.9 L629.5,50.3 L631.0,50.8 L632.5,51.4 L634.0,51.8 L635.5,51.9 L637.0,51.7 L638.5,51.6 L640.0,51.8 L641.5,52.1 L643.0,52.3 L644.5,51.9 L646.0,50.7 L647.5,49.2 L649.0,47.9 L650.5,47.2 L652.0,46.8 L653.5,45.4 L655.0,43.2 L656.5,40.7 L658.0,38.4 L659.5,37.1 L661.0,36.4 L662.5,35.3 L664.0,33.5 L665.5,31.9 L667.0,30.8 L668.5,30.8 L670.0,31.2 L671.5,31.1 L673.0,30.6 L674.5,29.5 L676.0,28.4 L677.5,27.3 L679.0,25.4 L680.5,24.9" fill="none" stroke="#5a5a5a" stroke-width="1.25" stroke-linejoin="round"/>
<path d="M502.0,29.7 L503.5,29.9 L505.0,30.0 L506.5,29.8 L508.0,29.6 L509.5,29.4 L511.0,29.0 L512.5,28.9 L514.0,29.7 L515.5,30.7 L517.0,31.7 L518.5,32.5 L520.0,32.6 L521.5,31.6 L523.0,30.3 L524.5,28.4 L526.0,25.9 L527.5,25.2 L529.0,23.9 L530.5,22.7 L532.0,22.5 L533.5,22.8 L535.0,23.2 L536.5,22.8 L538.0,21.9 L539.5,22.1 L541.0,23.4 L542.5,25.2 L544.0,27.4 L545.5,29.6 L547.0,31.1 L548.5,32.0 L550.0,33.0 L551.5,34.1 L553.0,34.3 L554.5,34.0 L556.0,33.5 L557.5,33.0 L559.0,32.5 L560.5,32.4 L562.0,32.6 L563.5,32.6 L565.0,32.2 L566.5,32.0 L568.0,32.3 L569.5,33.0 L571.0,34.0 L572.5,34.7 L574.0,34.9 L575.5,35.5 L577.0,36.7 L578.5,38.0 L580.0,39.0 L581.5,39.0 L583.0,38.5 L584.5,38.2 L586.0,38.4 L587.5,37.2 L589.0,35.7 L590.5,34.8 L592.0,35.6 L593.5,35.4 L595.0,34.5 L596.5,34.4 L598.0,35.4 L599.5,34.2 L601.0,33.7 L602.5,33.9 L604.0,34.0 L605.5,33.1 L607.0,33.2 L608.5,33.6 L610.0,33.3 L611.5,33.0 L613.0,34.0 L614.5,35.7 L616.0,37.3 L617.5,38.3 L619.0,38.4 L620.5,39.3 L622.0,41.1 L623.5,42.9 L625.0,43.9 L626.5,44.3 L628.0,44.5 L629.5,44.6 L631.0,44.8 L632.5,45.3 L634.0,46.1 L635.5,47.2 L637.0,48.3 L638.5,49.2 L640.0,49.8 L641.5,50.3 L643.0,51.0 L644.5,51.3 L646.0,50.7 L647.5,49.5 L649.0,48.1 L650.5,46.8 L652.0,45.5 L653.5,43.3 L655.0,40.9 L656.5,38.4 L658.0,36.0 L659.5,34.5 L661.0,33.8 L662.5,32.8 L664.0,31.4 L665.5,30.0 L667.0,29.2 L668.5,29.3 L670.0,29.1 L671.5,28.3 L673.0,27.2 L674.5,26.3 L676.0,26.7 L677.5,28.1 L679.0,28.2 L680.5,28.2" fill="none" stroke="#5a5a5a" stroke-width="1.25" stroke-linejoin="round"/>
<path d="M502.0,29.0 L503.5,29.1 L505.0,28.9 L506.5,28.4 L508.0,27.9 L509.5,27.5 L511.0,27.0 L512.5,26.8 L514.0,27.6 L515.5,28.6 L517.0,29.7 L518.5,30.5 L520.0,30.7 L521.5,30.0 L523.0,28.9 L524.5,27.2 L526.0,24.9 L527.5,24.4 L529.0,23.4 L530.5,22.5 L532.0,22.3 L533.5,22.6 L535.0,22.9 L536.5,22.1 L538.0,20.8 L539.5,20.4 L541.0,21.1 L542.5,22.5 L544.0,24.5 L545.5,26.6 L547.0,28.2 L548.5,29.2 L550.0,30.2 L551.5,31.1 L553.0,31.5 L554.5,31.4 L556.0,31.1 L557.5,30.7 L559.0,30.5 L560.5,30.8 L562.0,31.2 L563.5,31.6 L565.0,31.5 L566.5,31.4 L568.0,31.8 L569.5,32.7 L571.0,33.8 L572.5,34.7 L574.0,35.1 L575.5,35.7 L577.0,36.6 L578.5,37.8 L580.0,38.5 L581.5,38.4 L583.0,37.7 L584.5,37.3 L586.0,37.3 L587.5,36.0 L589.0,34.5 L590.5,33.6 L592.0,34.4 L593.5,34.4 L595.0,33.6 L596.5,33.7 L598.0,34.7 L599.5,33.4 L601.0,32.6 L602.5,32.4 L604.0,31.9 L605.5,30.7 L607.0,30.7 L608.5,31.2 L610.0,31.0 L611.5,30.8 L613.0,31.8 L614.5,33.4 L616.0,34.9 L617.5,35.9 L619.0,36.1 L620.5,37.3 L622.0,39.4 L623.5,41.4 L625.0,42.4 L626.5,42.8 L628.0,43.2 L629.5,43.5 L631.0,43.9 L632.5,44.4 L634.0,44.9 L635.5,45.4 L637.0,45.8 L638.5,46.2 L640.0,46.5 L641.5,47.0 L643.0,47.5 L644.5,47.6 L646.0,47.1 L647.5,46.0 L649.0,44.7 L650.5,43.5 L652.0,42.3 L653.5,40.2 L655.0,38.0 L656.5,36.2 L658.0,35.0 L659.5,34.6 L661.0,34.4 L662.5,33.3 L664.0,31.6 L665.5,29.8 L667.0,28.6 L668.5,28.6 L670.0,28.1 L671.5,26.8 L673.0,25.2 L674.5,24.2 L676.0,24.4 L677.5,25.4 L679.0,25.2 L680.5,25.2" fill="none" stroke="#5a5a5a" stroke-width="1.25" stroke-linejoin="round"/>
<path d="M502.0,22.4 L503.5,22.8 L505.0,23.8 L506.5,25.0 L508.0,26.3 L509.5,27.3 L511.0,28.1 L512.5,28.8 L514.0,29.2 L515.5,29.8 L517.0,30.3 L518.5,30.3 L520.0,29.9 L521.5,28.9 L523.0,27.5 L524.5,26.0 L526.0,24.5 L527.5,23.0 L529.0,21.1 L530.5,19.6 L532.0,19.0 L533.5,18.9 L535.0,19.2 L536.5,18.8 L538.0,17.9 L539.5,17.9 L541.0,18.9 L542.5,20.5 L544.0,22.4 L545.5,24.5 L547.0,26.1 L548.5,27.1 L550.0,28.1 L551.5,29.1 L553.0,29.6 L554.5,29.7 L556.0,29.6 L557.5,29.1 L559.0,28.3 L560.5,27.8 L562.0,27.3 L563.5,26.7 L565.0,26.0 L566.5,25.7 L568.0,25.9 L569.5,26.7 L571.0,27.7 L572.5,28.5 L574.0,28.8 L575.5,29.5 L577.0,30.5 L578.5,31.7 L580.0,32.6 L581.5,32.8 L583.0,32.5 L584.5,32.5 L586.0,32.7 L587.5,31.9 L589.0,31.4 L590.5,31.8 L592.0,33.9 L593.5,35.3 L595.0,36.2 L596.5,37.7 L598.0,39.8 L599.5,37.7 L601.0,35.5 L602.5,33.6 L604.0,31.5 L605.5,28.8 L607.0,27.4 L608.5,26.8 L610.0,26.4 L611.5,26.2 L613.0,27.2 L614.5,28.8 L616.0,30.3 L617.5,31.1 L619.0,31.2 L620.5,31.6 L622.0,32.9 L623.5,34.0 L625.0,34.8 L626.5,35.6 L628.0,36.7 L629.5,37.9 L631.0,39.1 L632.5,40.0 L634.0,40.6 L635.5,41.3 L637.0,41.9 L638.5,42.4 L640.0,42.8 L641.5,42.8 L643.0,42.4 L644.5,41.4 L646.0,39.7 L647.5,38.0 L649.0,36.9 L650.5,36.7 L652.0,36.8 L653.5,36.0 L655.0,34.3 L656.5,32.4 L658.0,30.9 L659.5,30.0 L661.0,29.7 L662.5,28.7 L664.0,26.9 L665.5,25.0 L667.0,23.8 L668.5,23.9 L670.0,24.5 L671.5,25.0 L673.0,25.1 L674.5,24.5 L676.0,23.6 L677.5,22.6 L679.0,20.9 L680.5,20.6" fill="none" stroke="#5a5a5a" stroke-width="1.25" stroke-linejoin="round"/>
<path d="M502.0,20.8 L503.5,21.3 L505.0,22.4 L506.5,23.8 L508.0,25.2 L509.5,26.2 L511.0,27.0 L512.5,27.6 L514.0,27.9 L515.5,28.4 L517.0,28.8 L518.5,28.8 L520.0,28.4 L521.5,27.5 L523.0,26.2 L524.5,24.8 L526.0,23.4 L527.5,21.8 L529.0,19.8 L530.5,18.1 L532.0,17.3 L533.5,17.1 L535.0,17.4 L536.5,17.0 L538.0,16.1 L539.5,16.1 L541.0,17.0 L542.5,18.5 L544.0,20.4 L545.5,22.3 L547.0,23.6 L548.5,24.4 L550.0,25.3 L551.5,26.3 L553.0,26.8 L554.5,27.0 L556.0,26.9 L557.5,26.4 L559.0,25.8 L560.5,25.5 L562.0,25.4 L563.5,25.1 L565.0,24.6 L566.5,24.3 L568.0,24.6 L569.5,25.4 L571.0,26.5 L572.5,27.4 L574.0,27.8 L575.5,28.5 L577.0,29.5 L578.5,30.5 L580.0,31.2 L581.5,31.3 L583.0,30.8 L584.5,30.6 L586.0,30.7 L587.5,29.9 L589.0,29.6 L590.5,30.3 L592.0,32.6 L593.5,34.3 L595.0,35.5 L596.5,37.3 L598.0,39.7 L599.5,37.4 L601.0,34.8 L602.5,32.5 L604.0,30.0 L605.5,26.9 L607.0,25.2 L608.5,24.4 L610.0,24.1 L611.5,24.2 L613.0,25.6 L614.5,27.6 L616.0,29.4 L617.5,30.4 L619.0,30.4 L620.5,30.4 L622.0,31.0 L623.5,31.7 L625.0,32.3 L626.5,33.0 L628.0,34.0 L629.5,35.2 L631.0,36.3 L632.5,37.2 L634.0,37.9 L635.5,39.0 L637.0,39.9 L638.5,40.7 L640.0,41.2 L641.5,41.2 L643.0,40.7 L644.5,39.5 L646.0,37.7 L647.5,36.0 L649.0,34.9 L650.5,34.3 L652.0,33.9 L653.5,32.7 L655.0,30.9 L656.5,29.2 L658.0,27.9 L659.5,27.2 L661.0,27.0 L662.5,26.1 L664.0,24.4 L665.5,22.6 L667.0,21.5 L668.5,21.5 L670.0,22.1 L671.5,22.5 L673.0,22.6 L674.5,22.1 L676.0,21.6 L677.5,21.2 L679.0,20.1 L680.5,19.9" fill="none" stroke="#5a5a5a" stroke-width="1.25" stroke-linejoin="round"/>
<path d="M502.0,21.0 L503.5,21.4 L505.0,22.3 L506.5,23.3 L508.0,24.5 L509.5,25.4 L511.0,26.1 L512.5,26.7 L514.0,26.9 L515.5,27.2 L517.0,27.5 L518.5,27.4 L520.0,27.0 L521.5,26.2 L523.0,25.0 L524.5,23.7 L526.0,22.3 L527.5,20.6 L529.0,18.5 L530.5,16.8 L532.0,16.1 L533.5,16.0 L535.0,16.3 L536.5,16.0 L538.0,15.2 L539.5,15.3 L541.0,16.3 L542.5,17.9 L544.0,19.9 L545.5,22.0 L547.0,23.6 L548.5,24.7 L550.0,25.7 L551.5,26.8 L553.0,27.5 L554.5,27.7 L556.0,27.7 L557.5,27.2 L559.0,26.1 L560.5,25.1 L562.0,24.1 L563.5,23.0 L565.0,21.9 L566.5,21.5 L568.0,21.6 L569.5,22.1 L571.0,22.9 L572.5,23.5 L574.0,23.7 L575.5,24.4 L577.0,25.5 L578.5,26.8 L580.0,27.9 L581.5,28.4 L583.0,28.4 L584.5,28.6 L586.0,29.2 L587.5,28.7 L589.0,28.8 L590.5,29.9 L592.0,32.3 L593.5,34.3 L595.0,35.7 L596.5,37.7 L598.0,40.4 L599.5,38.0 L601.0,35.2 L602.5,32.7 L604.0,30.1 L605.5,26.7 L607.0,24.7 L608.5,23.5 L610.0,22.8 L611.5,22.4 L613.0,23.3 L614.5,24.9 L616.0,26.2 L617.5,27.0 L619.0,26.9 L620.5,27.2 L622.0,28.2 L623.5,29.2 L625.0,30.0 L626.5,30.7 L628.0,31.6 L629.5,32.5 L631.0,33.5 L632.5,34.3 L634.0,35.1 L635.5,36.2 L637.0,37.2 L638.5,38.0 L640.0,38.5 L641.5,38.6 L643.0,38.2 L644.5,37.3 L646.0,35.7 L647.5,34.1 L649.0,33.0 L650.5,32.5 L652.0,32.3 L653.5,31.3 L655.0,29.6 L656.5,27.7 L658.0,26.3 L659.5,25.5 L661.0,25.2 L662.5,24.4 L664.0,22.9 L665.5,21.3 L667.0,20.3 L668.5,20.4 L670.0,21.3 L671.5,22.0 L673.0,22.4 L674.5,22.1 L676.0,21.7 L677.5,21.4 L679.0,20.4 L680.5,20.2" fill="none" stroke="#5a5a5a" stroke-width="1.25" stroke-linejoin="round"/>
<path d="M502.0,19.9 L503.5,21.2 L505.0,22.7 L506.5,24.6 L508.0,26.5 L509.5,28.3 L511.0,28.4 L512.5,27.4 L514.0,25.8 L515.5,24.5 L517.0,23.3 L518.5,22.3 L520.0,21.7 L521.5,21.2 L523.0,20.9 L524.5,20.6 L526.0,19.8 L527.5,18.6 L529.0,17.2 L530.5,16.1 L532.0,15.8 L533.5,15.8 L535.0,16.0 L536.5,15.7 L538.0,15.0 L539.5,15.0 L541.0,15.7 L542.5,16.9 L544.0,18.3 L545.5,19.4 L547.0,19.9 L548.5,20.1 L550.0,20.6 L551.5,21.4 L553.0,21.9 L554.5,22.0 L556.0,22.0 L557.5,21.5 L559.0,20.7 L560.5,20.0 L562.0,19.2 L563.5,18.4 L565.0,17.6 L566.5,17.3 L568.0,17.5 L569.5,18.3 L571.0,19.3 L572.5,20.1 L574.0,20.6 L575.5,21.3 L577.0,22.1 L578.5,23.0 L580.0,23.6 L581.5,23.8 L583.0,23.5 L584.5,23.4 L586.0,23.6 L587.5,23.0 L589.0,21.6 L590.5,20.7 L592.0,20.6 L593.5,19.9 L595.0,18.7 L596.5,17.8 L598.0,17.2 L599.5,17.3 L601.0,17.9 L602.5,18.7 L604.0,19.3 L605.5,19.0 L607.0,19.5 L608.5,20.2 L610.0,20.0 L611.5,19.6 L613.0,20.1 L614.5,21.1 L616.0,22.0 L617.5,22.5 L619.0,22.5 L620.5,22.8 L622.0,23.7 L623.5,24.6 L625.0,25.3 L626.5,25.8 L628.0,26.3 L629.5,26.8 L631.0,27.4 L632.5,28.0 L634.0,28.7 L635.5,29.7 L637.0,30.7 L638.5,31.4 L640.0,31.9 L641.5,32.2 L643.0,32.4 L644.5,32.4 L646.0,31.7 L647.5,30.8 L649.0,29.7 L650.5,28.5 L652.0,27.2 L653.5,25.4 L655.0,23.6 L656.5,22.3 L658.0,21.7 L659.5,21.5 L661.0,21.5 L662.5,20.8 L664.0,19.7 L665.5,18.6 L667.0,17.9 L668.5,17.9 L670.0,17.8 L671.5,17.2 L673.0,16.4 L674.5,16.1 L676.0,16.9 L677.5,18.5 L679.0,19.2 L680.5,19.4" fill="none" stroke="#5a5a5a" stroke-width="1.25" stroke-linejoin="round"/>
<path d="M502.0,18.6 L503.5,19.7 L505.0,21.0 L506.5,22.5 L508.0,24.1 L509.5,25.8 L511.0,25.9 L512.5,25.2 L514.0,24.3 L515.5,23.5 L517.0,22.8 L518.5,21.9 L520.0,21.1 L521.5,20.4 L523.0,19.6 L524.5,19.1 L526.0,18.3 L527.5,17.2 L529.0,16.0 L530.5,15.1 L532.0,14.8 L533.5,14.7 L535.0,14.9 L536.5,14.4 L538.0,13.4 L539.5,13.1 L541.0,13.5 L542.5,14.4 L544.0,15.7 L545.5,16.9 L547.0,17.5 L548.5,17.8 L550.0,18.3 L551.5,19.1 L553.0,19.5 L554.5,19.7 L556.0,19.7 L557.5,19.4 L559.0,19.0 L560.5,18.7 L562.0,18.6 L563.5,18.3 L565.0,17.9 L566.5,17.7 L568.0,17.9 L569.5,18.4 L571.0,18.9 L572.5,19.4 L574.0,19.6 L575.5,20.0 L577.0,20.7 L578.5,21.6 L580.0,22.3 L581.5,22.5 L583.0,22.3 L584.5,22.3 L586.0,22.6 L587.5,21.8 L589.0,19.9 L590.5,18.1 L592.0,17.2 L593.5,15.6 L595.0,13.3 L596.5,11.4 L598.0,9.8 L599.5,10.6 L601.0,11.9 L602.5,13.3 L604.0,14.4 L605.5,14.7 L607.0,15.8 L608.5,17.2 L610.0,17.5 L611.5,17.5 L613.0,18.5 L614.5,19.8 L616.0,21.1 L617.5,21.8 L619.0,21.9 L620.5,22.3 L622.0,23.4 L623.5,24.4 L625.0,25.1 L626.5,25.4 L628.0,25.5 L629.5,25.6 L631.0,25.7 L632.5,26.1 L634.0,26.7 L635.5,27.8 L637.0,28.9 L638.5,29.9 L640.0,30.4 L641.5,30.7 L643.0,31.0 L644.5,31.1 L646.0,30.7 L647.5,29.9 L649.0,28.9 L650.5,27.5 L652.0,25.9 L653.5,23.8 L655.0,22.1 L656.5,20.8 L658.0,20.1 L659.5,19.8 L661.0,19.7 L662.5,19.1 L664.0,18.2 L665.5,17.4 L667.0,16.8 L668.5,16.9 L670.0,16.9 L671.5,16.5 L673.0,15.9 L674.5,15.5 L676.0,15.7 L677.5,16.5 L679.0,16.6 L680.5,16.7" fill="none" stroke="#5a5a5a" stroke-width="1.25" stroke-linejoin="round"/>
<path d="M502.0,19.6 L503.5,20.7 L505.0,21.7 L506.5,22.7 L508.0,24.0 L509.5,25.5 L511.0,25.5 L512.5,24.2 L514.0,22.3 L515.5,20.6 L517.0,19.2 L518.5,18.0 L520.0,16.9 L521.5,15.6 L523.0,14.2 L524.5,13.2 L526.0,12.1 L527.5,10.9 L529.0,9.8 L530.5,9.1 L532.0,9.2 L533.5,9.5 L535.0,9.9 L536.5,10.0 L538.0,9.9 L539.5,10.7 L541.0,12.0 L542.5,13.6 L544.0,15.2 L545.5,16.5 L547.0,17.2 L548.5,17.6 L550.0,18.2 L551.5,19.1 L553.0,19.8 L554.5,20.1 L556.0,20.2 L557.5,19.7 L559.0,18.8 L560.5,17.9 L562.0,16.9 L563.5,16.0 L565.0,15.0 L566.5,14.6 L568.0,14.6 L569.5,14.9 L571.0,15.2 L572.5,15.5 L574.0,15.4 L575.5,16.0 L577.0,16.9 L578.5,18.0 L580.0,18.9 L581.5,19.4 L583.0,19.6 L584.5,19.8 L586.0,20.3 L587.5,19.8 L589.0,18.0 L590.5,16.0 L592.0,14.6 L593.5,12.3 L595.0,9.4 L596.5,7.0 L598.0,5.2 L599.5,6.1 L601.0,7.9 L602.5,9.9 L604.0,11.7 L605.5,12.6 L607.0,13.8 L608.5,15.0 L610.0,14.8 L611.5,14.2 L613.0,14.6 L614.5,15.5 L616.0,16.3 L617.5,16.8 L619.0,16.8 L620.5,17.4 L622.0,18.9 L623.5,20.2 L625.0,21.1 L626.5,21.8 L628.0,22.9 L629.5,24.0 L631.0,25.1 L632.5,26.0 L634.0,26.3 L635.5,26.3 L637.0,25.8 L638.5,25.3 L640.0,25.4 L641.5,25.8 L643.0,26.4 L644.5,26.8 L646.0,26.5 L647.5,25.7 L649.0,24.8 L650.5,24.4 L652.0,24.1 L653.5,23.1 L655.0,21.7 L656.5,19.8 L658.0,18.0 L659.5,16.5 L661.0,16.0 L662.5,15.5 L664.0,14.5 L665.5,13.5 L667.0,12.9 L668.5,13.1 L670.0,13.5 L671.5,13.8 L673.0,13.8 L674.5,13.5 L676.0,13.3 L677.5,13.1 L679.0,12.4 L680.5,12.3" fill="none" stroke="#5a5a5a" stroke-width="1.25" stroke-linejoin="round"/>
<path d="M502.0,18.4 L503.5,19.4 L505.0,20.3 L506.5,21.3 L508.0,22.4 L509.5,23.8 L511.0,23.9 L512.5,22.8 L514.0,21.1 L515.5,19.6 L517.0,18.3 L518.5,17.2 L520.0,15.8 L521.5,14.0 L523.0,12.2 L524.5,10.8 L526.0,9.4 L527.5,8.3 L529.0,7.3 L530.5,6.8 L532.0,7.3 L533.5,7.7 L535.0,8.2 L536.5,8.5 L538.0,8.7 L539.5,9.7 L541.0,11.3 L542.5,13.1 L544.0,14.7 L545.5,15.9 L547.0,16.2 L548.5,16.2 L550.0,16.8 L551.5,17.7 L553.0,18.1 L554.5,18.3 L556.0,18.2 L557.5,17.6 L559.0,16.7 L560.5,16.0 L562.0,15.4 L563.5,14.8 L565.0,13.9 L566.5,13.5 L568.0,13.5 L569.5,13.7 L571.0,14.0 L572.5,14.2 L574.0,14.1 L575.5,14.7 L577.0,15.6 L578.5,16.7 L580.0,17.6 L581.5,18.0 L583.0,18.0 L584.5,18.2 L586.0,18.7 L587.5,18.2 L589.0,16.4 L590.5,14.5 L592.0,13.1 L593.5,10.7 L595.0,7.8 L596.5,5.4 L598.0,3.6 L599.5,4.5 L601.0,6.3 L602.5,8.4 L604.0,10.3 L605.5,11.1 L607.0,12.3 L608.5,13.3 L610.0,13.1 L611.5,12.6 L613.0,13.1 L614.5,14.1 L616.0,15.0 L617.5,15.5 L619.0,15.5 L620.5,15.9 L622.0,17.0 L623.5,18.2 L625.0,19.0 L626.5,19.8 L628.0,21.0 L629.5,22.4 L631.0,23.7 L632.5,24.6 L634.0,25.1 L635.5,25.2 L637.0,24.9 L638.5,24.6 L640.0,24.7 L641.5,25.2 L643.0,25.8 L644.5,26.3 L646.0,26.0 L647.5,25.2 L649.0,24.2 L650.5,23.3 L652.0,22.5 L653.5,21.0 L655.0,19.3 L656.5,17.4 L658.0,15.4 L659.5,13.9 L661.0,13.4 L662.5,13.0 L664.0,12.4 L665.5,11.8 L667.0,11.5 L668.5,11.8 L670.0,12.1 L671.5,12.1 L673.0,11.9 L674.5,11.7 L676.0,12.0 L677.5,12.6 L679.0,12.5 L680.5,12.6" fill="none" stroke="#5a5a5a" stroke-width="1.25" stroke-linejoin="round"/>
<path d="M502.0,8.2 L503.5,8.7 L505.0,9.8 L506.5,11.2 L508.0,12.6 L509.5,13.6 L511.0,14.2 L512.5,14.1 L514.0,13.2 L515.5,12.4 L517.0,11.8 L518.5,11.3 L520.0,10.9 L521.5,10.2 L523.0,9.3 L524.5,8.2 L526.0,6.8 L527.5,5.3 L529.0,3.7 L530.5,2.7 L532.0,3.0 L533.5,3.5 L535.0,4.1 L536.5,4.0 L538.0,3.5 L539.5,3.9 L541.0,5.1 L542.5,6.8 L544.0,8.8 L545.5,10.4 L547.0,11.2 L548.5,11.6 L550.0,12.4 L551.5,13.8 L553.0,14.9 L554.5,15.8 L556.0,16.3 L557.5,15.6 L559.0,13.9 L560.5,11.9 L562.0,9.8 L563.5,7.7 L565.0,5.8 L566.5,5.2 L568.0,5.3 L569.5,6.1 L571.0,7.3 L572.5,8.3 L574.0,8.8 L575.5,10.0 L577.0,11.2 L578.5,12.3 L580.0,13.1 L581.5,13.4 L583.0,13.3 L584.5,13.3 L586.0,13.8 L587.5,13.4 L589.0,11.9 L590.5,10.7 L592.0,10.2 L593.5,8.9 L595.0,6.9 L596.5,5.1 L598.0,3.7 L599.5,4.4 L601.0,5.9 L602.5,7.5 L604.0,8.8 L605.5,8.8 L607.0,9.4 L608.5,10.1 L610.0,9.4 L611.5,8.3 L613.0,8.3 L614.5,9.0 L616.0,9.6 L617.5,9.9 L619.0,9.9 L620.5,10.7 L622.0,12.7 L623.5,14.6 L625.0,15.9 L626.5,16.8 L628.0,17.7 L629.5,18.7 L631.0,19.7 L632.5,20.7 L634.0,21.5 L635.5,22.1 L637.0,22.3 L638.5,22.3 L640.0,22.6 L641.5,23.1 L643.0,23.7 L644.5,24.2 L646.0,23.7 L647.5,22.7 L649.0,21.4 L650.5,20.0 L652.0,18.5 L653.5,16.3 L655.0,14.2 L656.5,12.3 L658.0,10.7 L659.5,9.6 L661.0,9.4 L662.5,9.3 L664.0,9.1 L665.5,9.1 L667.0,9.2 L668.5,9.7 L670.0,10.3 L671.5,10.6 L673.0,10.7 L674.5,10.7 L676.0,9.9 L677.5,8.8 L679.0,7.4 L680.5,7.2" fill="none" stroke="#5a5a5a" stroke-width="1.25" stroke-linejoin="round"/>
<path d="M502.0,8.5 L503.5,8.9 L505.0,9.5 L506.5,10.2 L508.0,11.0 L509.5,11.8 L511.0,12.4 L512.5,12.4 L514.0,11.5 L515.5,10.8 L517.0,10.2 L518.5,9.7 L520.0,9.2 L521.5,8.4 L523.0,7.5 L524.5,6.3 L526.0,4.8 L527.5,3.3 L529.0,1.8 L530.5,1.1 L532.0,1.7 L533.5,2.4 L535.0,3.0 L536.5,3.0 L538.0,2.4 L539.5,2.9 L541.0,4.1 L542.5,5.8 L544.0,7.9 L545.5,9.4 L547.0,9.9 L548.5,10.1 L550.0,10.8 L551.5,12.3 L553.0,13.8 L554.5,15.0 L556.0,15.6 L557.5,15.0 L559.0,13.1 L560.5,11.2 L562.0,9.2 L563.5,7.2 L565.0,5.2 L566.5,4.5 L568.0,4.4 L569.5,4.6 L571.0,5.0 L572.5,5.2 L574.0,5.1 L575.5,6.2 L577.0,7.4 L578.5,8.7 L580.0,9.6 L581.5,9.9 L583.0,9.9 L584.5,10.1 L586.0,10.6 L587.5,10.4 L589.0,9.0 L590.5,8.0 L592.0,7.9 L593.5,6.8 L595.0,5.1 L596.5,3.6 L598.0,2.3 L599.5,3.0 L601.0,4.4 L602.5,6.0 L604.0,7.3 L605.5,7.3 L607.0,7.9 L608.5,8.4 L610.0,7.5 L611.5,6.0 L613.0,5.8 L614.5,6.2 L616.0,6.6 L617.5,6.8 L619.0,6.8 L620.5,7.9 L622.0,10.4 L623.5,12.8 L625.0,14.3 L626.5,15.2 L628.0,16.1 L629.5,17.0 L631.0,18.0 L632.5,19.0 L634.0,20.0 L635.5,21.1 L637.0,21.8 L638.5,22.3 L640.0,22.7 L641.5,23.2 L643.0,23.7 L644.5,23.9 L646.0,23.3 L647.5,22.1 L649.0,20.7 L650.5,19.4 L652.0,18.0 L653.5,15.9 L655.0,13.7 L656.5,11.4 L658.0,8.9 L659.5,6.9 L661.0,6.3 L662.5,6.4 L664.0,6.8 L665.5,7.4 L667.0,8.0 L668.5,8.6 L670.0,9.2 L671.5,9.4 L673.0,9.5 L674.5,9.5 L676.0,8.9 L677.5,7.9 L679.0,6.6 L680.5,6.4" fill="none" stroke="#5a5a5a" stroke-width="1.25" stroke-linejoin="round"/>
<path d="M502.0,6.5 L503.5,7.0 L505.0,7.8 L506.5,8.8 L508.0,9.8 L509.5,10.7 L511.0,11.2 L512.5,11.1 L514.0,10.0 L515.5,9.1 L517.0,8.4 L518.5,8.0 L520.0,7.4 L521.5,6.3 L523.0,5.1 L524.5,3.6 L526.0,2.1 L527.5,0.9 L529.0,0.1 L530.5,0.1 L532.0,1.2 L533.5,2.1 L535.0,2.7 L536.5,2.5 L538.0,1.8 L539.5,2.0 L541.0,3.0 L542.5,4.6 L544.0,6.6 L545.5,7.9 L547.0,8.1 L548.5,8.2 L550.0,8.8 L551.5,10.2 L553.0,11.5 L554.5,12.5 L556.0,13.1 L557.5,12.5 L559.0,10.8 L560.5,8.9 L562.0,6.9 L563.5,4.9 L565.0,3.1 L566.5,2.4 L568.0,2.4 L569.5,2.9 L571.0,3.5 L572.5,4.1 L574.0,4.2 L575.5,5.3 L577.0,6.4 L578.5,7.7 L580.0,8.6 L581.5,8.9 L583.0,9.0 L584.5,9.2 L586.0,9.7 L587.5,9.4 L589.0,7.9 L590.5,6.7 L592.0,6.4 L593.5,5.2 L595.0,3.3 L596.5,1.7 L598.0,0.3 L599.5,1.0 L601.0,2.3 L602.5,3.7 L604.0,4.8 L605.5,4.7 L607.0,5.2 L608.5,5.8 L610.0,5.2 L611.5,4.0 L613.0,4.1 L614.5,4.7 L616.0,5.3 L617.5,5.6 L619.0,5.7 L620.5,6.8 L622.0,9.3 L623.5,11.6 L625.0,13.0 L626.5,13.8 L628.0,14.5 L629.5,15.3 L631.0,16.1 L632.5,17.0 L634.0,17.9 L635.5,18.9 L637.0,19.6 L638.5,20.1 L640.0,20.5 L641.5,20.9 L643.0,21.4 L644.5,21.6 L646.0,21.0 L647.5,19.8 L649.0,18.6 L650.5,17.2 L652.0,15.7 L653.5,13.6 L655.0,11.4 L656.5,9.6 L658.0,8.2 L659.5,7.2 L661.0,7.0 L662.5,6.9 L664.0,6.7 L665.5,6.7 L667.0,6.8 L668.5,7.3 L670.0,7.7 L671.5,7.7 L673.0,7.6 L674.5,7.5 L676.0,6.6 L677.5,5.3 L679.0,3.8 L680.5,3.5" fill="none" stroke="#5a5a5a" stroke-width="1.25" stroke-linejoin="round"/>
<path d="M502.0,3.5 L503.5,3.8 L505.0,4.3 L506.5,5.0 L508.0,5.8 L509.5,6.5 L511.0,7.0 L512.5,7.2 L514.0,6.9 L515.5,6.7 L517.0,6.6 L518.5,6.5 L520.0,6.1 L521.5,5.2 L523.0,4.1 L524.5,2.8 L526.0,1.7 L527.5,0.6 L529.0,-0.4 L530.5,-0.9 L532.0,-0.6 L533.5,-0.3 L535.0,0.0 L536.5,-0.1 L538.0,-0.5 L539.5,-0.2 L541.0,0.8 L542.5,2.2 L544.0,3.8 L545.5,5.3 L547.0,6.2 L548.5,6.8 L550.0,7.5 L551.5,8.3 L553.0,8.7 L554.5,8.7 L556.0,8.6 L557.5,8.1 L559.0,7.2 L560.5,6.2 L562.0,5.3 L563.5,4.3 L565.0,3.3 L566.5,2.9 L568.0,3.1 L569.5,3.6 L571.0,4.4 L572.5,5.0 L574.0,5.2 L575.5,5.9 L577.0,6.8 L578.5,7.8 L580.0,8.6 L581.5,8.9 L583.0,9.0 L584.5,9.1 L586.0,9.5 L587.5,8.9 L589.0,7.1 L590.5,5.4 L592.0,4.4 L593.5,2.7 L595.0,0.3 L596.5,-1.7 L598.0,-3.3 L599.5,-2.5 L601.0,-0.9 L602.5,0.8 L604.0,2.3 L605.5,2.8 L607.0,4.0 L608.5,5.1 L610.0,5.0 L611.5,4.4 L613.0,4.7 L614.5,5.5 L616.0,6.3 L617.5,6.8 L619.0,6.7 L620.5,6.7 L622.0,7.2 L623.5,7.8 L625.0,8.3 L626.5,9.0 L628.0,9.7 L629.5,10.6 L631.0,11.4 L632.5,12.1 L634.0,12.8 L635.5,13.6 L637.0,14.3 L638.5,14.8 L640.0,15.2 L641.5,15.5 L643.0,15.9 L644.5,16.1 L646.0,15.6 L647.5,14.7 L649.0,13.8 L650.5,13.0 L652.0,12.4 L653.5,11.1 L655.0,9.5 L656.5,7.8 L658.0,6.0 L659.5,4.7 L661.0,4.2 L662.5,3.8 L664.0,3.1 L665.5,2.5 L667.0,2.2 L668.5,2.5 L670.0,3.0 L671.5,3.4 L673.0,3.5 L674.5,3.2 L676.0,2.8 L677.5,2.3 L679.0,1.4 L680.5,1.3" fill="none" stroke="#5a5a5a" stroke-width="1.25" stroke-linejoin="round"/>
<path d="M502.0,1.7 L503.5,1.7 L505.0,1.4 L506.5,0.9 L508.0,0.6 L509.5,0.8 L511.0,1.5 L512.5,1.9 L514.0,1.7 L515.5,1.6 L517.0,1.4 L518.5,1.0 L520.0,0.2 L521.5,-1.2 L523.0,-2.8 L524.5,-4.6 L526.0,-6.3 L527.5,-7.7 L529.0,-8.9 L530.5,-9.3 L532.0,-8.5 L533.5,-7.8 L535.0,-7.1 L536.5,-6.7 L538.0,-6.7 L539.5,-5.6 L541.0,-3.8 L542.5,-1.8 L544.0,0.3 L545.5,1.6 L547.0,1.9 L548.5,2.0 L550.0,2.7 L551.5,3.7 L553.0,4.2 L554.5,4.2 L556.0,4.0 L557.5,3.1 L559.0,1.8 L560.5,0.8 L562.0,-0.1 L563.5,-1.1 L565.0,-2.4 L566.5,-2.9 L568.0,-3.2 L569.5,-3.3 L571.0,-3.3 L572.5,-3.3 L574.0,-3.7 L575.5,-2.8 L577.0,-1.6 L578.5,-0.4 L580.0,0.4 L581.5,0.8 L583.0,0.8 L584.5,0.9 L586.0,1.4 L587.5,1.1 L589.0,-0.3 L590.5,-1.6 L592.0,-2.1 L593.5,-3.6 L595.0,-5.7 L596.5,-7.5 L598.0,-8.9 L599.5,-8.1 L601.0,-6.5 L602.5,-4.6 L604.0,-2.9 L605.5,-2.6 L607.0,-1.8 L608.5,-1.2 L610.0,-1.9 L611.5,-3.0 L613.0,-3.0 L614.5,-2.3 L616.0,-1.6 L617.5,-1.3 L619.0,-1.3 L620.5,-0.6 L622.0,1.4 L623.5,3.2 L625.0,4.5 L626.5,5.3 L628.0,5.8 L629.5,6.2 L631.0,6.8 L632.5,7.6 L634.0,8.8 L635.5,10.6 L637.0,12.4 L638.5,13.7 L640.0,14.5 L641.5,14.7 L643.0,14.7 L644.5,14.3 L646.0,13.1 L647.5,11.6 L649.0,10.4 L650.5,9.7 L652.0,9.2 L653.5,7.8 L655.0,6.0 L656.5,3.9 L658.0,2.0 L659.5,0.5 L661.0,0.2 L662.5,-0.0 L664.0,-0.4 L665.5,-0.7 L667.0,-0.7 L668.5,-0.3 L670.0,0.2 L671.5,0.3 L673.0,0.2 L674.5,0.2 L676.0,-0.1 L677.5,-0.4 L679.0,-1.1 L680.5,-1.1" fill="none" stroke="#5a5a5a" stroke-width="1.25" stroke-linejoin="round"/>
<path d="M502.0,-10.6 L503.5,-10.6 L505.0,-10.2 L506.5,-9.6 L508.0,-8.9 L509.5,-8.5 L511.0,-8.3 L512.5,-8.0 L514.0,-7.3 L515.5,-6.5 L517.0,-5.6 L518.5,-4.8 L520.0,-4.0 L521.5,-3.2 L523.0,-2.6 L524.5,-2.2 L526.0,-2.0 L527.5,-1.8 L529.0,-1.6 L530.5,-1.6 L532.0,-2.4 L533.5,-3.1 L535.0,-3.7 L536.5,-4.8 L538.0,-6.2 L539.5,-7.7 L541.0,-8.5 L542.5,-9.0 L544.0,-9.3 L545.5,-9.8 L547.0,-10.3 L548.5,-11.1 L550.0,-11.4 L551.5,-11.1 L553.0,-10.1 L554.5,-8.9 L556.0,-8.1 L557.5,-7.3 L559.0,-5.8 L560.5,-4.0 L562.0,-2.0 L563.5,-0.1 L565.0,1.6 L566.5,2.2 L568.0,3.0 L569.5,4.0 L571.0,5.2 L572.5,6.2 L574.0,6.9 L575.5,6.3 L577.0,6.1 L578.5,6.0 L580.0,5.6 L581.5,4.7 L583.0,3.5 L584.5,2.4 L586.0,1.5 L587.5,-0.3 L589.0,-3.3 L590.5,-6.2 L592.0,-8.4 L593.5,-10.8 L595.0,-13.7 L596.5,-16.3 L598.0,-18.5 L599.5,-17.2 L601.0,-14.8 L602.5,-12.2 L604.0,-9.8 L605.5,-7.2 L607.0,-4.1 L608.5,-1.1 L610.0,0.4 L611.5,1.5 L613.0,2.6 L614.5,3.6 L616.0,4.7 L617.5,5.5 L619.0,6.0 L620.5,6.5 L622.0,6.8 L623.5,7.0 L625.0,6.7 L626.5,6.0 L628.0,5.0 L629.5,4.0 L631.0,3.1 L632.5,2.4 L634.0,1.9 L635.5,1.5 L637.0,1.6 L638.5,1.8 L640.0,1.8 L641.5,1.8 L643.0,2.0 L644.5,2.1 L646.0,2.2 L647.5,2.3 L649.0,2.2 L650.5,1.9 L652.0,1.5 L653.5,0.9 L655.0,0.5 L656.5,0.2 L658.0,0.1 L659.5,0.3 L661.0,0.0 L662.5,-0.8 L664.0,-1.7 L665.5,-2.3 L667.0,-2.9 L668.5,-3.3 L670.0,-4.1 L671.5,-5.0 L673.0,-6.2 L674.5,-7.6 L676.0,-9.0 L677.5,-10.3 L679.0,-12.0 L680.5,-12.6" fill="none" stroke="#5a5a5a" stroke-width="1.25" stroke-linejoin="round"/>
<path d="M502.0,-12.1 L503.5,-12.0 L505.0,-11.4 L506.5,-10.6 L508.0,-9.8 L509.5,-9.2 L511.0,-9.0 L512.5,-8.9 L514.0,-8.6 L515.5,-8.2 L517.0,-7.6 L518.5,-6.8 L520.0,-6.0 L521.5,-5.1 L523.0,-4.4 L524.5,-3.9 L526.0,-3.8 L527.5,-3.6 L529.0,-3.3 L530.5,-3.3 L532.0,-3.9 L533.5,-4.6 L535.0,-5.2 L536.5,-6.4 L538.0,-8.1 L539.5,-9.9 L541.0,-10.9 L542.5,-11.5 L544.0,-11.7 L545.5,-11.8 L547.0,-11.9 L548.5,-12.3 L550.0,-12.4 L551.5,-12.1 L553.0,-11.2 L554.5,-10.2 L556.0,-9.5 L557.5,-8.8 L559.0,-7.4 L560.5,-5.7 L562.0,-3.8 L563.5,-2.1 L565.0,-0.6 L566.5,-0.0 L568.0,0.9 L569.5,2.3 L571.0,3.8 L572.5,5.2 L574.0,6.2 L575.5,5.8 L577.0,5.5 L578.5,5.4 L580.0,4.9 L581.5,3.8 L583.0,2.5 L584.5,1.2 L586.0,0.3 L587.5,-1.5 L589.0,-4.5 L590.5,-7.5 L592.0,-9.7 L593.5,-12.0 L595.0,-15.0 L596.5,-17.6 L598.0,-19.7 L599.5,-18.5 L601.0,-16.3 L602.5,-13.9 L604.0,-11.9 L605.5,-9.5 L607.0,-6.6 L608.5,-3.7 L610.0,-2.0 L611.5,-0.6 L613.0,0.8 L614.5,2.4 L616.0,3.8 L617.5,4.8 L619.0,5.0 L620.5,4.9 L622.0,4.3 L623.5,3.7 L625.0,3.2 L626.5,2.6 L628.0,2.2 L629.5,1.9 L631.0,1.6 L632.5,1.2 L634.0,0.6 L635.5,0.2 L637.0,0.1 L638.5,0.2 L640.0,0.2 L641.5,0.3 L643.0,0.4 L644.5,0.3 L646.0,0.4 L647.5,0.4 L649.0,0.2 L650.5,-0.1 L652.0,-0.6 L653.5,-1.1 L655.0,-1.6 L656.5,-1.6 L658.0,-1.0 L659.5,0.1 L661.0,0.1 L662.5,-0.8 L664.0,-2.0 L665.5,-3.2 L667.0,-4.0 L668.5,-4.6 L670.0,-5.8 L671.5,-7.5 L673.0,-9.3 L674.5,-10.8 L676.0,-12.0 L677.5,-13.0 L679.0,-14.4 L680.5,-15.0" fill="none" stroke="#5a5a5a" stroke-width="1.25" stroke-linejoin="round"/>
<path d="M502.0,126.1 L503.5,125.8 L505.0,125.3 L506.5,124.7 L508.0,124.1 L509.5,123.6 L511.0,123.3 L512.5,122.6 L514.0,121.6 L515.5,120.5 L517.0,119.6 L518.5,119.2 L520.0,119.0 L521.5,119.0 L523.0,118.9 L524.5,119.1 L526.0,119.1 L527.5,119.4 L529.0,120.2 L530.5,121.2 L532.0,122.2 L533.5,122.8 L535.0,122.9 L536.5,122.6 L538.0,122.2 L539.5,121.8 L541.0,121.4 L542.5,121.6 L544.0,122.2 L545.5,122.8 L547.0,123.4 L548.5,125.2 L550.0,126.9 L551.5,127.3 L553.0,128.7 L554.5,130.7 L556.0,131.3 L557.5,129.5 L559.0,129.8 L560.5,130.7 L562.0,131.9 L563.5,132.8 L565.0,132.9 L566.5,132.4 L568.0,131.5 L569.5,130.5 L571.0,129.6 L572.5,128.2 L574.0,126.4 L575.5,124.8 L577.0,123.8 L578.5,123.5 L580.0,123.6 L581.5,123.4 L583.0,123.1 L584.5,123.0 L586.0,123.1 L587.5,123.1 L589.0,122.9 L590.5,122.7 L592.0,122.6 L593.5,122.4 L595.0,121.9 L596.5,121.5 L598.0,121.4 L599.5,121.4 L601.0,121.5 L602.5,121.7 L604.0,122.0 L605.5,122.5 L607.0,123.1 L608.5,123.6 L610.0,123.8 L611.5,123.8 L613.0,123.8 L614.5,124.5 L616.0,125.7 L617.5,126.9 L619.0,127.9 L620.5,129.0 L622.0,130.3 L623.5,131.5 L625.0,132.2 L626.5,132.4 L628.0,132.5 L629.5,132.4 L631.0,132.4 L632.5,132.3 L634.0,132.0 L635.5,131.1 L637.0,129.9 L638.5,128.9 L640.0,128.4 L641.5,128.2 L643.0,128.1 L644.5,127.9 L646.0,127.8 L647.5,127.7 L649.0,127.8 L650.5,128.1 L652.0,128.6 L653.5,128.9 L655.0,128.9 L656.5,128.6 L658.0,128.1 L659.5,127.6 L661.0,127.5 L662.5,127.8 L664.0,128.3 L665.5,128.6 L667.0,128.6 L668.5,128.1 L670.0,127.8 L671.5,127.7 L673.0,127.7 L674.5,126.8 L676.0,125.2 L677.5,123.3 L679.0,121.8 L680.5,121.4" fill="none" stroke="#5a5a5a" stroke-width="1.25" stroke-linejoin="round"/>
<path d="M502.0,128.0 L503.5,127.7 L505.0,127.1 L506.5,126.4 L508.0,125.7 L509.5,125.1 L511.0,124.8 L512.5,124.1 L514.0,123.0 L515.5,121.9 L517.0,121.0 L518.5,120.6 L520.0,120.5 L521.5,120.5 L523.0,120.5 L524.5,120.7 L526.0,120.8 L527.5,121.0 L529.0,121.5 L530.5,122.2 L532.0,123.0 L533.5,123.4 L535.0,123.5 L536.5,123.2 L538.0,122.8 L539.5,122.3 L541.0,122.0 L542.5,122.1 L544.0,122.7 L545.5,123.2 L547.0,123.7 L548.5,125.4 L550.0,127.1 L551.5,127.5 L553.0,129.0 L554.5,131.1 L556.0,131.8 L557.5,130.0 L559.0,130.3 L560.5,131.3 L562.0,132.6 L563.5,133.5 L565.0,133.7 L566.5,133.2 L568.0,132.5 L569.5,131.8 L571.0,131.2 L572.5,130.3 L574.0,128.8 L575.5,127.4 L577.0,126.4 L578.5,126.0 L580.0,126.0 L581.5,125.7 L583.0,125.3 L584.5,125.1 L586.0,125.1 L587.5,125.1 L589.0,124.9 L590.5,124.7 L592.0,124.7 L593.5,124.6 L595.0,124.2 L596.5,123.9 L598.0,123.8 L599.5,123.8 L601.0,123.9 L602.5,124.1 L604.0,124.5 L605.5,125.1 L607.0,125.7 L608.5,126.2 L610.0,126.4 L611.5,126.2 L613.0,126.2 L614.5,126.8 L616.0,127.9 L617.5,129.0 L619.0,130.0 L620.5,130.7 L622.0,131.6 L623.5,132.5 L625.0,133.0 L626.5,133.2 L628.0,133.4 L629.5,133.5 L631.0,133.6 L632.5,133.6 L634.0,133.3 L635.5,132.6 L637.0,131.6 L638.5,130.8 L640.0,130.3 L641.5,130.2 L643.0,130.0 L644.5,129.9 L646.0,129.7 L647.5,129.6 L649.0,129.7 L650.5,130.0 L652.0,130.2 L653.5,130.4 L655.0,130.4 L656.5,130.1 L658.0,129.5 L659.5,129.0 L661.0,128.9 L662.5,129.1 L664.0,129.4 L665.5,129.6 L667.0,129.4 L668.5,128.9 L670.0,128.5 L671.5,128.3 L673.0,128.2 L674.5,127.4 L676.0,125.6 L677.5,123.5 L679.0,121.8 L680.5,121.4" fill="none" stroke="#5a5a5a" stroke-width="1.25" stroke-linejoin="round"/>
<path d="M502.0,127.6 L503.5,127.6 L505.0,127.5 L506.5,127.3 L508.0,127.1 L509.5,126.9 L511.0,126.8 L512.5,126.9 L514.0,127.0 L515.5,126.9 L517.0,126.9 L518.5,126.8 L520.0,126.6 L521.5,126.6 L523.0,126.5 L524.5,126.2 L526.0,125.9 L527.5,125.5 L529.0,125.1 L530.5,124.6 L532.0,124.2 L533.5,124.0 L535.0,123.8 L536.5,123.9 L538.0,124.1 L539.5,124.3 L541.0,124.6 L542.5,124.9 L544.0,125.5 L545.5,125.8 L547.0,125.9 L548.5,127.3 L550.0,128.9 L551.5,129.8 L553.0,132.1 L554.5,135.1 L556.0,136.7 L557.5,135.3 L559.0,135.5 L560.5,135.8 L562.0,136.0 L563.5,136.0 L565.0,135.6 L566.5,135.2 L568.0,134.8 L569.5,134.6 L571.0,134.8 L572.5,134.6 L574.0,133.7 L575.5,132.4 L577.0,131.2 L578.5,130.6 L580.0,130.4 L581.5,129.8 L583.0,129.2 L584.5,128.8 L586.0,128.6 L587.5,128.4 L589.0,128.1 L590.5,127.8 L592.0,127.6 L593.5,127.3 L595.0,126.8 L596.5,126.2 L598.0,126.0 L599.5,126.0 L601.0,125.9 L602.5,125.7 L604.0,125.5 L605.5,125.7 L607.0,126.1 L608.5,126.8 L610.0,127.4 L611.5,128.0 L613.0,128.9 L614.5,130.5 L616.0,132.3 L617.5,133.9 L619.0,134.9 L620.5,135.0 L622.0,134.9 L623.5,134.9 L625.0,135.1 L626.5,135.4 L628.0,135.7 L629.5,135.9 L631.0,136.0 L632.5,136.1 L634.0,135.9 L635.5,135.3 L637.0,134.5 L638.5,133.8 L640.0,133.5 L641.5,133.5 L643.0,133.5 L644.5,133.6 L646.0,133.6 L647.5,133.6 L649.0,133.5 L650.5,133.7 L652.0,133.9 L653.5,134.1 L655.0,133.9 L656.5,133.5 L658.0,132.9 L659.5,132.4 L661.0,132.1 L662.5,131.8 L664.0,130.9 L665.5,129.9 L667.0,128.8 L668.5,128.1 L670.0,128.1 L671.5,128.6 L673.0,129.1 L674.5,128.7 L676.0,127.6 L677.5,126.5 L679.0,125.8 L680.5,125.7" fill="none" stroke="#5a5a5a" stroke-width="1.25" stroke-linejoin="round"/>
<path d="M502.0,130.8 L503.5,130.6 L505.0,130.3 L506.5,129.9 L508.0,129.4 L509.5,129.1 L511.0,128.9 L512.5,128.9 L514.0,128.9 L515.5,128.8 L517.0,128.6 L518.5,128.4 L520.0,128.4 L521.5,128.7 L523.0,129.0 L524.5,129.4 L526.0,129.4 L527.5,129.5 L529.0,129.9 L530.5,130.4 L532.0,130.9 L533.5,131.3 L535.0,131.3 L536.5,131.1 L538.0,130.9 L539.5,130.7 L541.0,130.6 L542.5,130.9 L544.0,131.3 L545.5,131.3 L547.0,131.0 L548.5,132.1 L550.0,133.5 L551.5,134.2 L553.0,136.1 L554.5,138.8 L556.0,140.0 L557.5,138.3 L559.0,138.1 L560.5,138.0 L562.0,137.7 L563.5,137.3 L565.0,136.6 L566.5,136.0 L568.0,135.7 L569.5,135.7 L571.0,136.1 L572.5,136.0 L574.0,135.2 L575.5,134.1 L577.0,133.1 L578.5,132.9 L580.0,133.2 L581.5,133.2 L583.0,133.2 L584.5,133.3 L586.0,133.6 L587.5,133.6 L589.0,133.4 L590.5,132.8 L592.0,132.2 L593.5,131.3 L595.0,130.2 L596.5,129.4 L598.0,129.0 L599.5,129.1 L601.0,129.5 L602.5,130.1 L604.0,130.8 L605.5,131.7 L607.0,132.6 L608.5,133.2 L610.0,133.5 L611.5,133.6 L613.0,133.7 L614.5,134.6 L616.0,135.9 L617.5,137.2 L619.0,138.1 L620.5,138.3 L622.0,138.5 L623.5,138.8 L625.0,139.1 L626.5,139.0 L628.0,138.3 L629.5,137.3 L631.0,136.4 L632.5,135.9 L634.0,136.2 L635.5,137.1 L637.0,138.4 L638.5,139.4 L640.0,139.6 L641.5,139.3 L643.0,138.5 L644.5,137.6 L646.0,136.8 L647.5,136.3 L649.0,136.3 L650.5,136.4 L652.0,136.6 L653.5,136.6 L655.0,136.5 L656.5,136.2 L658.0,135.8 L659.5,135.5 L661.0,135.4 L662.5,135.5 L664.0,135.6 L665.5,135.6 L667.0,135.3 L668.5,134.7 L670.0,133.8 L671.5,132.9 L673.0,132.2 L674.5,131.4 L676.0,130.8 L677.5,130.4 L679.0,130.2 L680.5,130.1" fill="none" stroke="#5a5a5a" stroke-width="1.25" stroke-linejoin="round"/>
<path d="M502.0,137.2 L503.5,137.2 L505.0,137.0 L506.5,136.7 L508.0,136.4 L509.5,136.2 L511.0,136.2 L512.5,136.3 L514.0,136.4 L515.5,136.4 L517.0,136.3 L518.5,136.3 L520.0,136.5 L521.5,136.9 L523.0,137.5 L524.5,137.5 L526.0,137.3 L527.5,136.9 L529.0,136.6 L530.5,136.5 L532.0,136.3 L533.5,136.2 L535.0,135.8 L536.5,134.9 L538.0,133.7 L539.5,132.5 L541.0,131.5 L542.5,131.1 L544.0,131.7 L545.5,132.8 L547.0,134.0 L548.5,136.4 L550.0,138.5 L551.5,139.2 L553.0,141.1 L554.5,143.6 L556.0,144.8 L557.5,143.4 L559.0,143.9 L560.5,144.7 L562.0,145.4 L563.5,145.9 L565.0,145.9 L566.5,145.6 L568.0,145.2 L569.5,145.1 L571.0,145.4 L572.5,145.2 L574.0,144.4 L575.5,143.1 L577.0,141.7 L578.5,140.9 L580.0,140.3 L581.5,139.4 L583.0,138.3 L584.5,137.4 L586.0,137.0 L587.5,136.6 L589.0,136.3 L590.5,136.0 L592.0,136.0 L593.5,135.8 L595.0,135.5 L596.5,135.1 L598.0,134.8 L599.5,134.8 L601.0,134.4 L602.5,133.7 L604.0,133.1 L605.5,132.8 L607.0,133.1 L608.5,133.7 L610.0,134.5 L611.5,135.2 L613.0,136.2 L614.5,137.9 L616.0,139.9 L617.5,141.6 L619.0,142.7 L620.5,143.2 L622.0,143.7 L623.5,144.1 L625.0,144.6 L626.5,145.0 L628.0,145.4 L629.5,145.7 L631.0,145.9 L632.5,146.1 L634.0,146.0 L635.5,145.8 L637.0,145.6 L638.5,145.3 L640.0,145.2 L641.5,144.9 L643.0,144.3 L644.5,143.5 L646.0,142.8 L647.5,142.3 L649.0,142.2 L650.5,142.6 L652.0,143.2 L653.5,143.6 L655.0,143.5 L656.5,143.1 L658.0,142.6 L659.5,142.2 L661.0,141.9 L662.5,141.6 L664.0,140.9 L665.5,139.9 L667.0,139.1 L668.5,138.4 L670.0,137.9 L671.5,137.7 L673.0,137.5 L674.5,137.1 L676.0,136.5 L677.5,135.9 L679.0,135.7 L680.5,135.7" fill="none" stroke="#5a5a5a" stroke-width="1.25" stroke-linejoin="round"/>
<path d="M502.0,139.6 L503.5,139.5 L505.0,139.1 L506.5,138.6 L508.0,138.0 L509.5,137.7 L511.0,137.6 L512.5,137.6 L514.0,137.5 L515.5,137.4 L517.0,137.2 L518.5,137.1 L520.0,137.2 L521.5,137.5 L523.0,137.8 L524.5,137.7 L526.0,137.5 L527.5,137.3 L529.0,137.3 L530.5,137.4 L532.0,137.6 L533.5,137.6 L535.0,137.3 L536.5,136.6 L538.0,135.6 L539.5,134.6 L541.0,133.8 L542.5,133.5 L544.0,134.1 L545.5,135.1 L547.0,136.2 L548.5,138.4 L550.0,140.4 L551.5,141.0 L553.0,142.5 L554.5,144.6 L556.0,145.4 L557.5,144.0 L559.0,144.5 L560.5,145.6 L562.0,146.8 L563.5,147.6 L565.0,147.8 L566.5,147.5 L568.0,147.0 L569.5,146.5 L571.0,146.4 L572.5,145.8 L574.0,144.7 L575.5,143.2 L577.0,141.9 L578.5,141.3 L580.0,141.0 L581.5,140.4 L583.0,139.7 L584.5,139.1 L586.0,139.0 L587.5,138.7 L589.0,138.4 L590.5,138.1 L592.0,138.0 L593.5,137.8 L595.0,137.4 L596.5,136.9 L598.0,136.7 L599.5,136.6 L601.0,136.1 L602.5,135.3 L604.0,134.6 L605.5,134.2 L607.0,134.3 L608.5,134.9 L610.0,135.6 L611.5,136.3 L613.0,137.3 L614.5,138.9 L616.0,140.9 L617.5,142.5 L619.0,143.7 L620.5,144.5 L622.0,145.4 L623.5,146.3 L625.0,146.9 L626.5,147.1 L628.0,147.0 L629.5,146.8 L631.0,146.5 L632.5,146.4 L634.0,146.4 L635.5,146.4 L637.0,146.3 L638.5,146.2 L640.0,146.1 L641.5,145.9 L643.0,145.3 L644.5,144.6 L646.0,144.0 L647.5,143.5 L649.0,143.5 L650.5,144.0 L652.0,144.9 L653.5,145.5 L655.0,145.5 L656.5,144.8 L658.0,143.8 L659.5,142.8 L661.0,142.3 L662.5,142.1 L664.0,141.7 L665.5,141.3 L667.0,140.7 L668.5,140.1 L670.0,139.5 L671.5,139.1 L673.0,138.8 L674.5,138.3 L676.0,137.8 L677.5,137.5 L679.0,137.4 L680.5,137.5" fill="none" stroke="#5a5a5a" stroke-width="1.25" stroke-linejoin="round"/>
<path d="M502.0,140.8 L503.5,140.6 L505.0,140.2 L506.5,139.8 L508.0,139.3 L509.5,138.9 L511.0,138.7 L512.5,138.6 L514.0,138.4 L515.5,138.1 L517.0,137.8 L518.5,137.5 L520.0,137.2 L521.5,136.9 L523.0,136.5 L524.5,136.5 L526.0,136.4 L527.5,136.5 L529.0,136.7 L530.5,137.0 L532.0,137.3 L533.5,137.5 L535.0,137.7 L536.5,137.9 L538.0,138.3 L539.5,138.7 L541.0,139.1 L542.5,139.6 L544.0,140.1 L545.5,140.0 L547.0,139.7 L548.5,140.7 L550.0,142.1 L551.5,142.7 L553.0,144.7 L554.5,147.4 L556.0,148.6 L557.5,147.0 L559.0,147.0 L560.5,147.4 L562.0,148.0 L563.5,148.2 L565.0,148.0 L566.5,147.5 L568.0,146.8 L569.5,146.3 L571.0,145.9 L572.5,145.2 L574.0,143.9 L575.5,142.5 L577.0,141.5 L578.5,141.3 L580.0,141.6 L581.5,141.7 L583.0,141.8 L584.5,141.9 L586.0,142.2 L587.5,142.3 L589.0,142.1 L590.5,141.9 L592.0,141.8 L593.5,141.7 L595.0,141.3 L596.5,140.9 L598.0,140.8 L599.5,140.6 L601.0,140.2 L602.5,139.7 L604.0,139.3 L605.5,139.1 L607.0,139.3 L608.5,139.7 L610.0,140.1 L611.5,140.2 L613.0,140.4 L614.5,141.4 L616.0,142.7 L617.5,144.0 L619.0,145.0 L620.5,145.9 L622.0,147.1 L623.5,148.1 L625.0,148.7 L626.5,148.6 L628.0,147.6 L629.5,146.3 L631.0,145.2 L632.5,144.6 L634.0,144.7 L635.5,145.0 L637.0,145.5 L638.5,145.9 L640.0,145.9 L641.5,145.8 L643.0,145.8 L644.5,145.9 L646.0,145.9 L647.5,145.9 L649.0,146.0 L650.5,146.4 L652.0,146.9 L653.5,147.3 L655.0,147.3 L656.5,146.6 L658.0,145.2 L659.5,143.8 L661.0,143.2 L662.5,143.5 L664.0,144.0 L665.5,144.5 L667.0,144.5 L668.5,144.0 L670.0,143.0 L671.5,141.9 L673.0,141.0 L674.5,140.2 L676.0,139.8 L677.5,139.9 L679.0,140.0 L680.5,140.0" fill="none" stroke="#5a5a5a" stroke-width="1.25" stroke-linejoin="round"/>
<path d="M502.0,145.8 L503.5,145.6 L505.0,145.1 L506.5,144.4 L508.0,143.7 L509.5,143.3 L511.0,143.2 L512.5,143.6 L514.0,144.2 L515.5,144.7 L517.0,144.9 L518.5,144.8 L520.0,144.9 L521.5,145.1 L523.0,145.4 L524.5,145.5 L526.0,145.5 L527.5,145.2 L529.0,144.7 L530.5,144.3 L532.0,144.0 L533.5,143.7 L535.0,143.6 L536.5,143.1 L538.0,142.5 L539.5,141.8 L541.0,141.3 L542.5,141.3 L544.0,141.9 L545.5,142.6 L547.0,143.4 L548.5,145.3 L550.0,147.2 L551.5,147.8 L553.0,149.5 L554.5,152.0 L556.0,153.0 L557.5,151.4 L559.0,151.7 L560.5,152.3 L562.0,152.9 L563.5,153.2 L565.0,153.1 L566.5,152.7 L568.0,152.0 L569.5,151.4 L571.0,151.1 L572.5,150.3 L574.0,148.9 L575.5,147.5 L577.0,146.3 L578.5,145.8 L580.0,145.8 L581.5,145.4 L583.0,145.0 L584.5,144.7 L586.0,144.6 L587.5,144.5 L589.0,144.2 L590.5,143.9 L592.0,143.6 L593.5,143.2 L595.0,142.5 L596.5,141.9 L598.0,141.7 L599.5,141.7 L601.0,141.8 L602.5,142.0 L604.0,142.3 L605.5,142.8 L607.0,143.4 L608.5,144.0 L610.0,144.4 L611.5,144.4 L613.0,144.6 L614.5,145.4 L616.0,146.7 L617.5,148.0 L619.0,149.0 L620.5,149.5 L622.0,149.9 L623.5,150.5 L625.0,150.9 L626.5,151.3 L628.0,151.8 L629.5,152.3 L631.0,152.7 L632.5,152.8 L634.0,152.8 L635.5,152.9 L637.0,152.9 L638.5,152.9 L640.0,152.8 L641.5,152.6 L643.0,152.1 L644.5,151.6 L646.0,151.1 L647.5,150.8 L649.0,150.7 L650.5,150.9 L652.0,151.2 L653.5,151.3 L655.0,151.2 L656.5,150.5 L658.0,149.4 L659.5,148.3 L661.0,147.8 L662.5,148.0 L664.0,148.5 L665.5,149.1 L667.0,149.3 L668.5,148.8 L670.0,148.4 L671.5,148.4 L673.0,148.4 L674.5,147.8 L676.0,146.4 L677.5,144.7 L679.0,143.4 L680.5,143.2" fill="none" stroke="#5a5a5a" stroke-width="1.25" stroke-linejoin="round"/>
<path d="M502.0,146.8 L503.5,146.5 L505.0,146.2 L506.5,145.7 L508.0,145.3 L509.5,144.9 L511.0,144.7 L512.5,145.0 L514.0,145.5 L515.5,145.9 L517.0,146.0 L518.5,145.8 L520.0,145.5 L521.5,145.5 L523.0,145.5 L524.5,145.9 L526.0,146.1 L527.5,146.0 L529.0,145.8 L530.5,145.4 L532.0,145.2 L533.5,145.2 L535.0,145.4 L536.5,145.5 L538.0,145.6 L539.5,145.8 L541.0,145.9 L542.5,146.4 L544.0,147.0 L545.5,147.5 L547.0,148.0 L548.5,149.8 L550.0,151.4 L551.5,151.6 L553.0,152.8 L554.5,154.5 L556.0,154.9 L557.5,152.9 L559.0,152.8 L560.5,153.0 L562.0,153.4 L563.5,153.5 L565.0,153.2 L566.5,152.6 L568.0,152.0 L569.5,151.7 L571.0,151.6 L572.5,151.0 L574.0,149.9 L575.5,148.7 L577.0,147.8 L578.5,147.5 L580.0,147.6 L581.5,147.3 L583.0,146.9 L584.5,146.7 L586.0,146.8 L587.5,146.7 L589.0,146.6 L590.5,146.5 L592.0,146.5 L593.5,146.5 L595.0,146.2 L596.5,146.0 L598.0,145.9 L599.5,146.0 L601.0,146.5 L602.5,147.3 L604.0,148.3 L605.5,149.4 L607.0,150.3 L608.5,150.8 L610.0,151.0 L611.5,150.8 L613.0,150.7 L614.5,151.3 L616.0,152.4 L617.5,153.5 L619.0,154.2 L620.5,153.9 L622.0,153.4 L623.5,153.0 L625.0,153.0 L626.5,153.3 L628.0,153.5 L629.5,153.7 L631.0,153.8 L632.5,153.8 L634.0,153.5 L635.5,153.0 L637.0,152.2 L638.5,151.6 L640.0,151.2 L641.5,151.2 L643.0,151.6 L644.5,152.3 L646.0,152.8 L647.5,153.1 L649.0,153.2 L650.5,153.0 L652.0,152.7 L653.5,152.3 L655.0,152.2 L656.5,151.9 L658.0,151.2 L659.5,150.6 L661.0,150.5 L662.5,151.0 L664.0,152.0 L665.5,152.9 L667.0,153.2 L668.5,152.8 L670.0,152.4 L671.5,152.2 L673.0,152.0 L674.5,151.1 L676.0,149.1 L677.5,146.7 L679.0,144.9 L680.5,144.4" fill="none" stroke="#5a5a5a" stroke-width="1.25" stroke-linejoin="round"/>
<path d="M502.0,167.1 L503.5,166.6 L505.0,165.3 L506.5,163.4 L508.0,161.4 L509.5,159.9 L511.0,159.2 L512.5,159.2 L514.0,158.5 L515.5,157.0 L517.0,154.7 L518.5,152.0 L520.0,149.6 L521.5,147.8 L523.0,147.0 L524.5,147.3 L526.0,148.8 L527.5,151.3 L529.0,154.1 L530.5,156.6 L532.0,158.2 L533.5,158.7 L535.0,159.3 L536.5,160.4 L538.0,161.6 L539.5,162.7 L541.0,163.6 L542.5,164.3 L544.0,164.7 L545.5,164.4 L547.0,163.4 L548.5,163.5 L550.0,163.8 L551.5,163.6 L553.0,165.1 L554.5,166.7 L556.0,166.2 L557.5,162.6 L559.0,160.7 L560.5,159.4 L562.0,158.5 L563.5,157.7 L565.0,156.9 L566.5,156.4 L568.0,156.3 L569.5,156.9 L571.0,158.1 L572.5,159.2 L574.0,159.8 L575.5,160.0 L577.0,160.2 L578.5,160.7 L580.0,161.1 L581.5,161.5 L583.0,162.5 L584.5,164.3 L586.0,166.5 L587.5,168.1 L589.0,168.8 L590.5,168.4 L592.0,168.0 L593.5,167.6 L595.0,167.1 L596.5,166.7 L598.0,166.5 L599.5,166.3 L601.0,165.7 L602.5,165.0 L604.0,164.3 L605.5,164.0 L607.0,164.1 L608.5,164.6 L610.0,164.5 L611.5,163.7 L613.0,162.7 L614.5,162.3 L616.0,162.4 L617.5,162.8 L619.0,163.3 L620.5,163.5 L622.0,163.2 L623.5,162.7 L625.0,162.1 L626.5,161.1 L628.0,159.9 L629.5,158.6 L631.0,157.6 L632.5,157.1 L634.0,157.2 L635.5,157.4 L637.0,157.5 L638.5,157.3 L640.0,156.7 L641.5,155.8 L643.0,154.8 L644.5,154.0 L646.0,153.4 L647.5,153.1 L649.0,153.6 L650.5,155.1 L652.0,157.3 L653.5,159.4 L655.0,161.0 L656.5,161.7 L658.0,161.5 L659.5,160.8 L661.0,160.6 L662.5,161.3 L664.0,162.2 L665.5,163.2 L667.0,164.0 L668.5,164.5 L670.0,165.0 L671.5,165.5 L673.0,165.6 L674.5,164.4 L676.0,162.2 L677.5,159.8 L679.0,158.1 L680.5,157.7" fill="none" stroke="#5a5a5a" stroke-width="1.25" stroke-linejoin="round"/>
<path d="M502.0,166.6 L503.5,166.2 L505.0,165.0 L506.5,163.4 L508.0,161.7 L509.5,160.3 L511.0,159.6 L512.5,159.9 L514.0,159.5 L515.5,158.2 L517.0,156.1 L518.5,153.4 L520.0,150.8 L521.5,149.0 L523.0,148.1 L524.5,148.4 L526.0,150.0 L527.5,152.4 L529.0,154.8 L530.5,156.8 L532.0,158.0 L533.5,158.2 L535.0,159.1 L536.5,161.2 L538.0,164.1 L539.5,167.1 L541.0,169.5 L542.5,171.0 L544.0,171.4 L545.5,170.8 L547.0,169.3 L548.5,169.0 L550.0,169.0 L551.5,168.6 L553.0,169.6 L554.5,170.5 L556.0,169.5 L557.5,165.7 L559.0,163.5 L560.5,161.6 L562.0,160.0 L563.5,158.5 L565.0,157.4 L566.5,156.8 L568.0,156.8 L569.5,157.4 L571.0,158.8 L572.5,160.0 L574.0,160.7 L575.5,161.1 L577.0,161.4 L578.5,161.9 L580.0,162.4 L581.5,162.8 L583.0,164.0 L584.5,165.9 L586.0,168.2 L587.5,169.9 L589.0,170.7 L590.5,170.3 L592.0,169.9 L593.5,169.7 L595.0,169.2 L596.5,168.8 L598.0,168.7 L599.5,168.4 L601.0,167.8 L602.5,167.0 L604.0,166.2 L605.5,165.8 L607.0,165.8 L608.5,166.3 L610.0,166.5 L611.5,166.2 L613.0,165.9 L614.5,166.1 L616.0,166.7 L617.5,167.4 L619.0,167.8 L620.5,167.4 L622.0,166.4 L623.5,165.3 L625.0,164.3 L626.5,163.4 L628.0,162.3 L629.5,161.3 L631.0,160.5 L632.5,160.1 L634.0,160.2 L635.5,160.3 L637.0,160.4 L638.5,160.1 L640.0,159.5 L641.5,158.7 L643.0,158.0 L644.5,157.4 L646.0,157.1 L647.5,157.0 L649.0,157.4 L650.5,158.1 L652.0,159.2 L653.5,160.4 L655.0,161.7 L656.5,163.0 L658.0,164.3 L659.5,165.1 L661.0,165.6 L662.5,166.0 L664.0,166.3 L665.5,166.3 L667.0,166.5 L668.5,166.9 L670.0,167.6 L671.5,168.3 L673.0,168.5 L674.5,167.4 L676.0,165.3 L677.5,163.0 L679.0,161.5 L680.5,161.2" fill="none" stroke="#5a5a5a" stroke-width="1.25" stroke-linejoin="round"/>
<path d="M502.0,167.0 L503.5,166.7 L505.0,166.0 L506.5,165.1 L508.0,164.0 L509.5,162.9 L511.0,162.3 L512.5,162.6 L514.0,162.5 L515.5,161.6 L517.0,159.8 L518.5,157.4 L520.0,155.1 L521.5,153.2 L523.0,152.2 L524.5,152.2 L526.0,153.5 L527.5,155.5 L529.0,157.6 L530.5,159.3 L532.0,160.3 L533.5,160.4 L535.0,161.2 L536.5,162.8 L538.0,165.0 L539.5,167.4 L541.0,169.2 L542.5,170.4 L544.0,170.9 L545.5,170.5 L547.0,169.6 L548.5,169.7 L550.0,170.1 L551.5,169.9 L553.0,171.3 L554.5,172.8 L556.0,172.4 L557.5,168.9 L559.0,167.0 L560.5,165.3 L562.0,163.7 L563.5,162.4 L565.0,161.2 L566.5,160.6 L568.0,160.4 L569.5,160.6 L571.0,161.4 L572.5,162.0 L574.0,162.2 L575.5,162.2 L577.0,162.3 L578.5,162.7 L580.0,163.3 L581.5,163.7 L583.0,164.9 L584.5,166.7 L586.0,168.7 L587.5,170.3 L589.0,170.9 L590.5,170.7 L592.0,170.6 L593.5,170.7 L595.0,170.5 L596.5,170.3 L598.0,170.2 L599.5,170.0 L601.0,169.4 L602.5,168.6 L604.0,167.9 L605.5,167.5 L607.0,167.6 L608.5,168.0 L610.0,168.1 L611.5,167.6 L613.0,167.0 L614.5,167.0 L616.0,167.5 L617.5,168.1 L619.0,168.6 L620.5,168.4 L622.0,167.8 L623.5,167.0 L625.0,166.3 L626.5,165.4 L628.0,164.2 L629.5,162.9 L631.0,161.9 L632.5,161.4 L634.0,161.5 L635.5,161.9 L637.0,162.2 L638.5,162.2 L640.0,161.7 L641.5,161.0 L643.0,160.5 L644.5,160.1 L646.0,159.8 L647.5,159.8 L649.0,160.1 L650.5,161.0 L652.0,162.1 L653.5,163.4 L655.0,164.5 L656.5,165.7 L658.0,166.8 L659.5,167.5 L661.0,167.9 L662.5,168.2 L664.0,168.1 L665.5,167.8 L667.0,167.6 L668.5,167.9 L670.0,168.5 L671.5,169.4 L673.0,169.8 L674.5,168.8 L676.0,166.9 L677.5,165.0 L679.0,163.7 L680.5,163.5" fill="none" stroke="#5a5a5a" stroke-width="1.25" stroke-linejoin="round"/>
<path d="M502.0,169.3 L503.5,169.0 L505.0,168.1 L506.5,167.0 L508.0,165.7 L509.5,164.5 L511.0,163.9 L512.5,164.0 L514.0,163.6 L515.5,162.3 L517.0,160.3 L518.5,157.9 L520.0,155.8 L521.5,154.3 L523.0,153.7 L524.5,154.1 L526.0,155.5 L527.5,157.5 L529.0,159.3 L530.5,160.6 L532.0,161.3 L533.5,161.3 L535.0,162.1 L536.5,164.0 L538.0,166.8 L539.5,169.6 L541.0,171.9 L542.5,173.3 L544.0,173.8 L545.5,173.3 L547.0,172.2 L548.5,172.1 L550.0,172.4 L551.5,172.1 L553.0,173.2 L554.5,174.3 L556.0,173.6 L557.5,170.1 L559.0,168.1 L560.5,166.3 L562.0,164.7 L563.5,163.3 L565.0,162.2 L566.5,161.6 L568.0,161.5 L569.5,161.9 L571.0,163.0 L572.5,163.9 L574.0,164.3 L575.5,164.3 L577.0,164.5 L578.5,165.0 L580.0,165.6 L581.5,166.1 L583.0,167.4 L584.5,169.2 L586.0,171.3 L587.5,172.9 L589.0,173.6 L590.5,173.2 L592.0,172.8 L593.5,172.5 L595.0,172.0 L596.5,171.6 L598.0,171.4 L599.5,171.2 L601.0,170.9 L602.5,170.4 L604.0,169.9 L605.5,169.9 L607.0,170.1 L608.5,170.6 L610.0,170.7 L611.5,170.1 L613.0,169.4 L614.5,169.3 L616.0,169.7 L617.5,170.3 L619.0,170.8 L620.5,170.4 L622.0,169.6 L623.5,168.6 L625.0,167.8 L626.5,167.0 L628.0,166.0 L629.5,165.0 L631.0,164.3 L632.5,164.0 L634.0,164.0 L635.5,164.1 L637.0,164.1 L638.5,163.9 L640.0,163.3 L641.5,162.6 L643.0,162.2 L644.5,162.0 L646.0,161.9 L647.5,162.0 L649.0,162.2 L650.5,162.8 L652.0,163.6 L653.5,164.4 L655.0,165.5 L656.5,166.8 L658.0,168.4 L659.5,169.6 L661.0,170.1 L662.5,170.5 L664.0,170.6 L665.5,170.4 L667.0,170.4 L668.5,170.7 L670.0,171.1 L671.5,171.5 L673.0,171.6 L674.5,170.5 L676.0,168.5 L677.5,166.4 L679.0,164.9 L680.5,164.6" fill="none" stroke="#5a5a5a" stroke-width="1.25" stroke-linejoin="round"/>
<path d="M502.0,175.1 L503.5,174.8 L505.0,174.0 L506.5,172.8 L508.0,171.3 L509.5,169.9 L511.0,168.8 L512.5,168.2 L514.0,166.4 L515.5,163.2 L517.0,159.5 L518.5,155.8 L520.0,153.0 L521.5,151.7 L523.0,151.9 L524.5,153.5 L526.0,156.1 L527.5,159.0 L529.0,161.7 L530.5,163.5 L532.0,164.3 L533.5,164.1 L535.0,165.2 L536.5,167.4 L538.0,170.3 L539.5,173.3 L541.0,175.6 L542.5,177.0 L544.0,177.4 L545.5,176.8 L547.0,175.4 L548.5,175.0 L550.0,174.7 L551.5,174.3 L553.0,176.2 L554.5,177.8 L556.0,177.1 L557.5,172.8 L559.0,169.8 L560.5,167.3 L562.0,165.1 L563.5,163.3 L565.0,161.9 L566.5,161.3 L568.0,161.4 L569.5,162.2 L571.0,163.8 L572.5,165.4 L574.0,166.5 L575.5,167.3 L577.0,168.1 L578.5,168.8 L580.0,169.2 L581.5,169.6 L583.0,171.1 L584.5,173.4 L586.0,176.3 L587.5,178.5 L589.0,179.7 L590.5,179.9 L592.0,180.2 L593.5,180.9 L595.0,181.4 L596.5,181.7 L598.0,181.8 L599.5,181.3 L601.0,179.9 L602.5,177.9 L604.0,175.8 L605.5,174.3 L607.0,173.7 L608.5,174.0 L610.0,173.9 L611.5,172.9 L613.0,171.7 L614.5,171.0 L616.0,170.8 L617.5,171.0 L619.0,171.4 L620.5,171.8 L622.0,171.9 L623.5,171.5 L625.0,170.6 L626.5,169.1 L628.0,167.2 L629.5,165.3 L631.0,163.8 L632.5,163.1 L634.0,163.1 L635.5,163.1 L637.0,163.0 L638.5,162.5 L640.0,161.6 L641.5,160.4 L643.0,159.1 L644.5,158.1 L646.0,157.3 L647.5,157.0 L649.0,157.6 L650.5,158.9 L652.0,160.6 L653.5,162.6 L655.0,164.5 L656.5,166.0 L658.0,166.8 L659.5,167.0 L661.0,167.2 L662.5,168.4 L664.0,170.2 L665.5,172.1 L667.0,173.8 L668.5,174.8 L670.0,174.9 L671.5,174.5 L673.0,173.7 L674.5,172.1 L676.0,170.1 L677.5,168.3 L679.0,167.1 L680.5,166.9" fill="none" stroke="#5a5a5a" stroke-width="1.25" stroke-linejoin="round"/>
<path d="M502.0,177.1 L503.5,176.8 L505.0,176.2 L506.5,175.1 L508.0,173.8 L509.5,172.5 L511.0,171.4 L512.5,170.5 L514.0,168.2 L515.5,164.6 L517.0,160.6 L518.5,156.8 L520.0,154.0 L521.5,152.6 L523.0,152.5 L524.5,153.9 L526.0,156.4 L527.5,159.4 L529.0,162.4 L530.5,164.7 L532.0,165.9 L533.5,166.0 L535.0,167.0 L536.5,169.2 L538.0,171.9 L539.5,174.7 L541.0,176.9 L542.5,178.2 L544.0,178.6 L545.5,177.9 L547.0,176.3 L548.5,175.6 L550.0,175.3 L551.5,175.0 L553.0,177.1 L554.5,179.0 L556.0,178.4 L557.5,174.1 L559.0,171.2 L560.5,168.6 L562.0,166.3 L563.5,164.5 L565.0,163.1 L566.5,162.4 L568.0,162.5 L569.5,163.4 L571.0,165.1 L572.5,166.8 L574.0,168.0 L575.5,168.8 L577.0,169.5 L578.5,170.3 L580.0,170.8 L581.5,171.2 L583.0,172.7 L584.5,175.2 L586.0,178.0 L587.5,180.3 L589.0,181.4 L590.5,181.5 L592.0,181.7 L593.5,182.1 L595.0,182.4 L596.5,182.6 L598.0,182.6 L599.5,182.1 L601.0,180.8 L602.5,179.0 L604.0,177.0 L605.5,175.6 L607.0,175.1 L608.5,175.5 L610.0,175.3 L611.5,174.3 L613.0,173.0 L614.5,172.3 L616.0,172.1 L617.5,172.3 L619.0,172.7 L620.5,173.0 L622.0,172.9 L623.5,172.4 L625.0,171.4 L626.5,170.0 L628.0,168.3 L629.5,166.6 L631.0,165.3 L632.5,164.7 L634.0,164.6 L635.5,164.3 L637.0,163.7 L638.5,162.9 L640.0,161.8 L641.5,160.8 L643.0,160.0 L644.5,159.5 L646.0,159.2 L647.5,159.2 L649.0,159.7 L650.5,160.6 L652.0,161.8 L653.5,163.3 L655.0,164.9 L656.5,166.7 L658.0,168.2 L659.5,169.0 L661.0,169.5 L662.5,170.5 L664.0,172.1 L665.5,173.7 L667.0,175.1 L668.5,176.1 L670.0,176.5 L671.5,176.5 L673.0,176.2 L674.5,174.7 L676.0,172.7 L677.5,170.8 L679.0,169.6 L680.5,169.3" fill="none" stroke="#5a5a5a" stroke-width="1.25" stroke-linejoin="round"/>
<path d="M502.0,178.7 L503.5,178.4 L505.0,177.5 L506.5,176.1 L508.0,174.6 L509.5,173.1 L511.0,172.0 L512.5,171.3 L514.0,169.3 L515.5,166.0 L517.0,162.1 L518.5,158.4 L520.0,155.5 L521.5,154.1 L523.0,154.1 L524.5,155.5 L526.0,158.0 L527.5,161.1 L529.0,164.1 L530.5,166.3 L532.0,167.5 L533.5,167.5 L535.0,168.6 L536.5,170.8 L538.0,173.6 L539.5,176.4 L541.0,178.6 L542.5,179.9 L544.0,180.4 L545.5,179.7 L547.0,178.3 L548.5,177.9 L550.0,177.6 L551.5,177.2 L553.0,179.0 L554.5,180.6 L556.0,179.9 L557.5,175.5 L559.0,172.7 L560.5,170.2 L562.0,168.2 L563.5,166.6 L565.0,165.3 L566.5,164.7 L568.0,164.7 L569.5,165.4 L571.0,166.9 L572.5,168.4 L574.0,169.4 L575.5,170.2 L577.0,170.9 L578.5,171.7 L580.0,172.1 L581.5,172.6 L583.0,174.1 L584.5,176.5 L586.0,179.3 L587.5,181.6 L589.0,182.8 L590.5,182.8 L592.0,183.0 L593.5,183.4 L595.0,183.6 L596.5,183.7 L598.0,183.8 L599.5,183.3 L601.0,182.0 L602.5,180.2 L604.0,178.4 L605.5,177.1 L607.0,176.6 L608.5,176.9 L610.0,176.8 L611.5,175.9 L613.0,174.7 L614.5,174.0 L616.0,173.9 L617.5,174.1 L619.0,174.5 L620.5,174.8 L622.0,174.7 L623.5,174.1 L625.0,173.1 L626.5,171.7 L628.0,169.9 L629.5,168.1 L631.0,166.8 L632.5,166.1 L634.0,166.0 L635.5,165.6 L637.0,164.9 L638.5,164.0 L640.0,162.9 L641.5,161.9 L643.0,161.1 L644.5,160.6 L646.0,160.3 L647.5,160.3 L649.0,160.8 L650.5,162.0 L652.0,163.6 L653.5,165.4 L655.0,167.2 L656.5,168.9 L658.0,170.1 L659.5,170.8 L661.0,171.1 L662.5,172.2 L664.0,173.9 L665.5,175.7 L667.0,177.2 L668.5,178.2 L670.0,178.4 L671.5,178.1 L673.0,177.4 L674.5,175.8 L676.0,173.7 L677.5,171.8 L679.0,170.4 L680.5,170.2" fill="none" stroke="#5a5a5a" stroke-width="1.25" stroke-linejoin="round"/>
<path d="M502.0,182.2 L503.5,181.8 L505.0,180.6 L506.5,178.9 L508.0,177.1 L509.5,175.5 L511.0,174.6 L512.5,174.3 L514.0,173.0 L515.5,170.6 L517.0,167.5 L518.5,164.3 L520.0,161.3 L521.5,159.2 L523.0,158.2 L524.5,158.6 L526.0,160.5 L527.5,163.5 L529.0,166.8 L530.5,169.8 L532.0,171.7 L533.5,172.2 L535.0,173.2 L536.5,175.1 L538.0,177.6 L539.5,180.1 L541.0,182.1 L542.5,183.3 L544.0,183.8 L545.5,183.4 L547.0,182.4 L548.5,182.4 L550.0,182.4 L551.5,181.9 L553.0,183.2 L554.5,184.4 L556.0,183.4 L557.5,179.3 L559.0,176.8 L560.5,174.5 L562.0,172.7 L563.5,171.1 L565.0,169.8 L566.5,169.2 L568.0,169.3 L569.5,170.1 L571.0,171.8 L572.5,173.3 L574.0,174.3 L575.5,174.9 L577.0,175.3 L578.5,175.6 L580.0,175.5 L581.5,175.1 L583.0,175.6 L584.5,177.0 L586.0,179.0 L587.5,180.8 L589.0,181.7 L590.5,181.7 L592.0,181.8 L593.5,182.1 L595.0,182.3 L596.5,182.3 L598.0,182.3 L599.5,182.0 L601.0,181.1 L602.5,179.9 L604.0,178.6 L605.5,177.9 L607.0,177.7 L608.5,178.1 L610.0,178.5 L611.5,178.4 L613.0,178.3 L614.5,178.8 L616.0,179.5 L617.5,180.2 L619.0,180.6 L620.5,180.5 L622.0,179.8 L623.5,178.8 L625.0,177.8 L626.5,176.5 L628.0,174.6 L629.5,172.7 L631.0,171.2 L632.5,170.5 L634.0,170.5 L635.5,170.3 L637.0,170.0 L638.5,169.4 L640.0,168.5 L641.5,167.5 L643.0,166.5 L644.5,165.6 L646.0,165.0 L647.5,164.7 L649.0,165.2 L650.5,166.4 L652.0,168.0 L653.5,169.8 L655.0,171.4 L656.5,172.7 L658.0,173.5 L659.5,173.7 L661.0,173.9 L662.5,175.0 L664.0,177.0 L665.5,179.2 L667.0,180.9 L668.5,181.7 L670.0,181.2 L671.5,179.8 L673.0,178.4 L674.5,176.8 L676.0,175.0 L677.5,173.4 L679.0,172.4 L680.5,172.2" fill="none" stroke="#5a5a5a" stroke-width="1.25" stroke-linejoin="round"/>
<path d="M502.0,183.1 L503.5,182.6 L505.0,181.4 L506.5,179.7 L508.0,177.9 L509.5,176.4 L511.0,175.5 L512.5,175.2 L514.0,173.9 L515.5,171.6 L517.0,168.6 L518.5,165.7 L520.0,163.0 L521.5,161.1 L523.0,160.3 L524.5,160.7 L526.0,162.4 L527.5,165.2 L529.0,168.5 L530.5,171.6 L532.0,173.6 L533.5,174.2 L535.0,175.1 L536.5,176.8 L538.0,179.0 L539.5,181.2 L541.0,182.9 L542.5,184.0 L544.0,184.5 L545.5,184.1 L547.0,183.1 L548.5,183.1 L550.0,183.2 L551.5,182.8 L553.0,184.2 L554.5,185.5 L556.0,184.8 L557.5,180.9 L559.0,178.7 L560.5,176.9 L562.0,175.5 L563.5,174.2 L565.0,173.2 L566.5,172.7 L568.0,172.7 L569.5,173.4 L571.0,174.9 L572.5,176.3 L574.0,177.1 L575.5,177.6 L577.0,177.8 L578.5,177.9 L580.0,177.5 L581.5,176.8 L583.0,176.9 L584.5,177.8 L586.0,179.4 L587.5,180.8 L589.0,181.7 L590.5,181.6 L592.0,181.7 L593.5,182.0 L595.0,182.1 L596.5,182.1 L598.0,182.1 L599.5,181.9 L601.0,181.3 L602.5,180.5 L604.0,179.8 L605.5,179.5 L607.0,179.6 L608.5,180.0 L610.0,180.2 L611.5,179.8 L613.0,179.4 L614.5,179.5 L616.0,180.0 L617.5,180.6 L619.0,181.0 L620.5,180.8 L622.0,180.0 L623.5,179.0 L625.0,178.1 L626.5,177.1 L628.0,175.9 L629.5,174.8 L631.0,173.9 L632.5,173.5 L634.0,173.4 L635.5,172.9 L637.0,172.1 L638.5,171.1 L640.0,170.2 L641.5,169.3 L643.0,168.3 L644.5,167.6 L646.0,167.0 L647.5,166.8 L649.0,167.2 L650.5,168.3 L652.0,169.8 L653.5,171.4 L655.0,172.9 L656.5,174.0 L658.0,174.6 L659.5,174.8 L661.0,174.8 L662.5,176.0 L664.0,178.0 L665.5,180.3 L667.0,182.1 L668.5,182.8 L670.0,182.1 L671.5,180.8 L673.0,179.3 L674.5,177.8 L676.0,176.3 L677.5,175.1 L679.0,174.5 L680.5,174.3" fill="none" stroke="#5a5a5a" stroke-width="1.25" stroke-linejoin="round"/>
<path d="M502.0,184.6 L503.5,184.0 L505.0,182.6 L506.5,180.5 L508.0,178.4 L509.5,176.8 L511.0,175.9 L512.5,175.9 L514.0,175.2 L515.5,173.4 L517.0,170.7 L518.5,167.7 L520.0,164.8 L521.5,162.6 L523.0,161.4 L524.5,161.6 L526.0,163.3 L527.5,166.2 L529.0,169.6 L530.5,172.7 L532.0,174.8 L533.5,175.4 L535.0,176.3 L536.5,178.1 L538.0,180.4 L539.5,182.8 L541.0,184.6 L542.5,185.8 L544.0,186.2 L545.5,185.5 L547.0,184.1 L548.5,183.7 L550.0,183.7 L551.5,183.5 L553.0,185.2 L554.5,186.9 L556.0,186.3 L557.5,182.5 L559.0,180.1 L560.5,178.0 L562.0,176.2 L563.5,174.6 L565.0,173.4 L566.5,172.8 L568.0,172.9 L569.5,173.7 L571.0,175.3 L572.5,176.8 L574.0,177.7 L575.5,178.3 L577.0,178.6 L578.5,178.7 L580.0,178.2 L581.5,177.5 L583.0,177.6 L584.5,178.5 L586.0,180.2 L587.5,181.7 L589.0,182.6 L590.5,182.8 L592.0,183.3 L593.5,184.0 L595.0,184.6 L596.5,184.9 L598.0,185.0 L599.5,184.7 L601.0,183.9 L602.5,182.7 L604.0,181.6 L605.5,180.9 L607.0,180.8 L608.5,181.2 L610.0,181.3 L611.5,180.9 L613.0,180.5 L614.5,180.6 L616.0,181.0 L617.5,181.6 L619.0,182.0 L620.5,182.0 L622.0,181.5 L623.5,180.7 L625.0,179.8 L626.5,178.7 L628.0,177.4 L629.5,176.0 L631.0,174.9 L632.5,174.5 L634.0,174.3 L635.5,173.9 L637.0,173.2 L638.5,172.3 L640.0,171.4 L641.5,170.5 L643.0,169.8 L644.5,169.4 L646.0,169.1 L647.5,169.1 L649.0,169.5 L650.5,170.2 L652.0,171.2 L653.5,172.4 L655.0,173.7 L656.5,175.1 L658.0,176.0 L659.5,176.5 L661.0,176.7 L662.5,177.9 L664.0,180.0 L665.5,182.4 L667.0,184.3 L668.5,185.0 L670.0,184.2 L671.5,182.5 L673.0,180.8 L674.5,179.2 L676.0,177.6 L677.5,176.3 L679.0,175.6 L680.5,175.4" fill="none" stroke="#5a5a5a" stroke-width="1.25" stroke-linejoin="round"/>
<path d="M502.0,188.1 L503.5,187.7 L505.0,186.5 L506.5,184.8 L508.0,182.9 L509.5,181.3 L511.0,180.2 L512.5,179.9 L514.0,178.6 L515.5,175.9 L517.0,172.4 L518.5,168.7 L520.0,165.6 L521.5,163.7 L523.0,163.2 L524.5,164.2 L526.0,166.6 L527.5,169.9 L529.0,173.4 L530.5,176.3 L532.0,178.0 L533.5,178.3 L535.0,179.4 L536.5,181.6 L538.0,184.5 L539.5,187.3 L541.0,189.6 L542.5,190.9 L544.0,191.1 L545.5,189.3 L547.0,186.2 L548.5,184.2 L550.0,183.3 L551.5,183.0 L553.0,185.3 L554.5,187.4 L556.0,186.9 L557.5,182.6 L559.0,179.5 L560.5,176.6 L562.0,174.0 L563.5,171.8 L565.0,170.2 L566.5,169.6 L568.0,169.9 L569.5,171.4 L571.0,173.9 L572.5,176.2 L574.0,178.0 L575.5,179.2 L577.0,179.9 L578.5,180.6 L580.0,180.9 L581.5,181.0 L583.0,182.3 L584.5,184.5 L586.0,187.2 L587.5,189.4 L589.0,190.6 L590.5,190.7 L592.0,191.1 L593.5,191.7 L595.0,192.2 L596.5,192.5 L598.0,192.5 L599.5,192.1 L601.0,190.8 L602.5,188.9 L604.0,187.0 L605.5,185.7 L607.0,185.2 L608.5,185.5 L610.0,185.4 L611.5,184.5 L613.0,183.4 L614.5,182.8 L616.0,182.8 L617.5,183.0 L619.0,183.2 L620.5,183.1 L622.0,182.3 L623.5,181.2 L625.0,180.0 L626.5,178.8 L628.0,177.7 L629.5,176.8 L631.0,176.2 L632.5,175.9 L634.0,175.9 L635.5,175.7 L637.0,175.3 L638.5,174.6 L640.0,173.6 L641.5,172.3 L643.0,170.7 L644.5,169.2 L646.0,168.1 L647.5,167.6 L649.0,168.2 L650.5,170.1 L652.0,172.7 L653.5,175.3 L655.0,177.5 L656.5,179.2 L658.0,180.5 L659.5,181.2 L661.0,181.5 L662.5,182.5 L664.0,183.6 L665.5,184.7 L667.0,185.8 L668.5,186.7 L670.0,187.2 L671.5,187.3 L673.0,187.0 L674.5,185.5 L676.0,183.0 L677.5,180.3 L679.0,178.4 L680.5,178.0" fill="none" stroke="#5a5a5a" stroke-width="1.25" stroke-linejoin="round"/>
<path d="M502.0,190.1 L503.5,189.7 L505.0,188.8 L506.5,187.3 L508.0,185.7 L509.5,184.2 L511.0,183.1 L512.5,182.6 L514.0,180.9 L515.5,178.0 L517.0,174.3 L518.5,170.7 L520.0,167.5 L521.5,165.4 L523.0,164.6 L524.5,165.4 L526.0,167.7 L527.5,170.9 L529.0,174.4 L530.5,177.4 L532.0,179.2 L533.5,179.6 L535.0,180.7 L536.5,182.9 L538.0,185.9 L539.5,188.9 L541.0,191.3 L542.5,192.7 L544.0,192.9 L545.5,191.2 L547.0,188.2 L548.5,186.3 L550.0,185.5 L551.5,185.2 L553.0,187.2 L554.5,189.1 L556.0,188.5 L557.5,184.2 L559.0,181.3 L560.5,178.6 L562.0,176.3 L563.5,174.4 L565.0,173.0 L566.5,172.4 L568.0,172.7 L569.5,174.1 L571.0,176.4 L572.5,178.6 L574.0,180.3 L575.5,181.3 L577.0,182.0 L578.5,182.7 L580.0,183.1 L581.5,183.4 L583.0,184.8 L584.5,187.0 L586.0,189.8 L587.5,192.0 L589.0,193.1 L590.5,193.0 L592.0,193.0 L593.5,193.1 L595.0,193.2 L596.5,193.2 L598.0,193.1 L599.5,192.7 L601.0,191.6 L602.5,189.9 L604.0,188.3 L605.5,187.1 L607.0,186.8 L608.5,187.1 L610.0,187.0 L611.5,186.0 L613.0,184.8 L614.5,184.2 L616.0,184.0 L617.5,184.2 L619.0,184.5 L620.5,184.3 L622.0,183.6 L623.5,182.6 L625.0,181.4 L626.5,180.3 L628.0,179.5 L629.5,179.0 L631.0,178.6 L632.5,178.4 L634.0,178.4 L635.5,178.1 L637.0,177.7 L638.5,177.0 L640.0,176.0 L641.5,174.6 L643.0,172.9 L644.5,171.2 L646.0,169.9 L647.5,169.4 L649.0,170.1 L650.5,172.2 L652.0,175.1 L653.5,178.1 L655.0,180.3 L656.5,181.9 L658.0,182.8 L659.5,183.2 L661.0,183.4 L662.5,184.3 L664.0,185.2 L665.5,186.1 L667.0,187.0 L668.5,187.8 L670.0,188.5 L671.5,188.9 L673.0,188.9 L674.5,187.4 L676.0,184.9 L677.5,182.2 L679.0,180.4 L680.5,180.0" fill="none" stroke="#5a5a5a" stroke-width="1.25" stroke-linejoin="round"/>
<path d="M502.0,193.4 L503.5,192.8 L505.0,191.2 L506.5,189.0 L508.0,186.8 L509.5,185.0 L511.0,184.0 L512.5,183.4 L514.0,181.8 L515.5,179.0 L517.0,175.6 L518.5,172.3 L520.0,169.7 L521.5,168.2 L523.0,168.0 L524.5,169.1 L526.0,171.2 L527.5,174.2 L529.0,177.4 L530.5,180.2 L532.0,182.0 L533.5,182.4 L535.0,183.3 L536.5,185.2 L538.0,187.5 L539.5,189.8 L541.0,191.7 L542.5,192.8 L544.0,193.2 L545.5,192.5 L547.0,191.0 L548.5,190.5 L550.0,190.3 L551.5,189.7 L553.0,190.7 L554.5,191.4 L556.0,190.0 L557.5,185.9 L559.0,183.5 L560.5,181.8 L562.0,180.6 L563.5,179.6 L565.0,178.8 L566.5,178.3 L568.0,178.1 L569.5,178.5 L571.0,179.6 L572.5,180.6 L574.0,181.1 L575.5,181.6 L577.0,182.1 L578.5,182.8 L580.0,183.3 L581.5,183.8 L583.0,185.2 L584.5,187.4 L586.0,190.0 L587.5,192.1 L589.0,193.1 L590.5,193.0 L592.0,193.1 L593.5,193.4 L595.0,193.6 L596.5,193.6 L598.0,193.6 L599.5,193.2 L601.0,192.0 L602.5,190.4 L604.0,188.7 L605.5,187.6 L607.0,187.2 L608.5,187.6 L610.0,187.6 L611.5,186.9 L613.0,186.1 L614.5,185.8 L616.0,186.0 L617.5,186.4 L619.0,186.8 L620.5,187.0 L622.0,186.7 L623.5,186.1 L625.0,185.2 L626.5,184.2 L628.0,183.5 L629.5,182.9 L631.0,182.5 L632.5,182.3 L634.0,182.4 L635.5,182.4 L637.0,182.2 L638.5,181.8 L640.0,181.0 L641.5,179.7 L643.0,177.9 L644.5,176.1 L646.0,174.6 L647.5,173.9 L649.0,174.4 L650.5,175.5 L652.0,177.1 L653.5,178.9 L655.0,180.5 L656.5,182.4 L658.0,184.5 L659.5,186.1 L661.0,186.9 L662.5,187.9 L664.0,189.2 L665.5,190.7 L667.0,191.9 L668.5,192.6 L670.0,192.0 L671.5,190.4 L673.0,188.8 L674.5,187.1 L676.0,185.2 L677.5,183.6 L679.0,182.5 L680.5,182.3" fill="none" stroke="#5a5a5a" stroke-width="1.25" stroke-linejoin="round"/>
<path d="M502.0,194.1 L503.5,193.6 L505.0,192.2 L506.5,190.3 L508.0,188.3 L509.5,186.7 L511.0,185.7 L512.5,184.9 L514.0,182.9 L515.5,179.9 L517.0,176.4 L518.5,173.3 L520.0,170.8 L521.5,169.4 L523.0,169.2 L524.5,170.2 L526.0,172.2 L527.5,175.0 L529.0,178.2 L530.5,181.0 L532.0,182.8 L533.5,183.2 L535.0,184.1 L536.5,185.7 L538.0,187.7 L539.5,189.7 L541.0,191.3 L542.5,192.3 L544.0,192.7 L545.5,192.1 L547.0,190.8 L548.5,190.6 L550.0,190.6 L551.5,190.1 L553.0,191.4 L554.5,192.5 L556.0,191.5 L557.5,187.6 L559.0,185.4 L560.5,183.7 L562.0,182.5 L563.5,181.5 L565.0,180.7 L566.5,180.1 L568.0,180.0 L569.5,180.5 L571.0,181.8 L572.5,182.9 L574.0,183.5 L575.5,183.9 L577.0,184.3 L578.5,184.9 L580.0,185.3 L581.5,185.6 L583.0,186.8 L584.5,188.8 L586.0,191.2 L587.5,193.1 L589.0,194.0 L590.5,193.8 L592.0,193.8 L593.5,193.9 L595.0,193.8 L596.5,193.7 L598.0,193.6 L599.5,193.3 L601.0,192.2 L602.5,190.7 L604.0,189.1 L605.5,188.1 L607.0,187.8 L608.5,188.2 L610.0,188.4 L611.5,188.0 L613.0,187.6 L614.5,187.7 L616.0,188.3 L617.5,188.9 L619.0,189.3 L620.5,189.2 L622.0,188.5 L623.5,187.7 L625.0,186.7 L626.5,185.9 L628.0,185.2 L629.5,184.7 L631.0,184.5 L632.5,184.3 L634.0,184.3 L635.5,184.4 L637.0,184.3 L638.5,183.9 L640.0,183.1 L641.5,181.9 L643.0,180.2 L644.5,178.4 L646.0,177.0 L647.5,176.4 L649.0,176.8 L650.5,177.8 L652.0,179.1 L653.5,180.6 L655.0,182.1 L656.5,183.9 L658.0,185.9 L659.5,187.4 L661.0,188.1 L662.5,189.0 L664.0,190.1 L665.5,191.2 L667.0,192.2 L668.5,192.7 L670.0,192.0 L671.5,190.5 L673.0,188.9 L674.5,187.3 L676.0,185.6 L677.5,184.2 L679.0,183.3 L680.5,183.1" fill="none" stroke="#5a5a5a" stroke-width="1.25" stroke-linejoin="round"/>
<path d="M502.0,195.4 L503.5,194.8 L505.0,193.3 L506.5,191.2 L508.0,189.0 L509.5,187.3 L511.0,186.4 L512.5,186.6 L514.0,186.1 L515.5,184.5 L517.0,181.9 L518.5,179.0 L520.0,176.4 L521.5,174.7 L523.0,174.2 L524.5,174.9 L526.0,176.9 L527.5,179.6 L529.0,182.6 L530.5,185.2 L532.0,186.9 L533.5,187.2 L535.0,188.0 L536.5,189.2 L538.0,190.7 L539.5,192.0 L541.0,193.0 L542.5,193.7 L544.0,194.2 L545.5,194.2 L547.0,193.7 L548.5,194.1 L550.0,194.3 L551.5,193.7 L553.0,194.5 L554.5,195.0 L556.0,193.6 L557.5,189.6 L559.0,187.2 L560.5,185.3 L562.0,183.7 L563.5,182.3 L565.0,181.3 L566.5,180.7 L568.0,180.6 L569.5,181.2 L571.0,182.6 L572.5,183.8 L574.0,184.5 L575.5,185.0 L577.0,185.4 L578.5,186.1 L580.0,186.7 L581.5,187.3 L583.0,188.8 L584.5,191.0 L586.0,193.5 L587.5,195.5 L589.0,196.4 L590.5,196.3 L592.0,196.4 L593.5,196.6 L595.0,196.7 L596.5,196.6 L598.0,196.6 L599.5,196.3 L601.0,195.3 L602.5,193.9 L604.0,192.5 L605.5,191.6 L607.0,191.3 L608.5,191.7 L610.0,191.9 L611.5,191.5 L613.0,191.1 L614.5,191.2 L616.0,191.7 L617.5,192.3 L619.0,192.7 L620.5,192.7 L622.0,192.2 L623.5,191.5 L625.0,190.6 L626.5,189.4 L628.0,188.0 L629.5,186.6 L631.0,185.5 L632.5,184.9 L634.0,184.9 L635.5,184.7 L637.0,184.2 L638.5,183.6 L640.0,182.7 L641.5,181.8 L643.0,180.9 L644.5,180.2 L646.0,179.7 L647.5,179.6 L649.0,180.0 L650.5,181.1 L652.0,182.5 L653.5,184.1 L655.0,185.6 L656.5,187.0 L658.0,188.2 L659.5,188.9 L661.0,189.3 L662.5,190.2 L664.0,191.3 L665.5,192.5 L667.0,193.6 L668.5,194.2 L670.0,194.1 L671.5,193.6 L673.0,192.9 L674.5,191.4 L676.0,189.2 L677.5,186.8 L679.0,185.1 L680.5,184.8" fill="none" stroke="#5a5a5a" stroke-width="1.25" stroke-linejoin="round"/>
<path d="M502.0,196.9 L503.5,196.5 L505.0,195.3 L506.5,193.6 L508.0,191.7 L509.5,190.1 L511.0,189.2 L512.5,189.1 L514.0,188.2 L515.5,186.0 L517.0,182.9 L518.5,179.4 L520.0,176.2 L521.5,174.0 L523.0,173.0 L524.5,173.6 L526.0,175.7 L527.5,179.0 L529.0,182.7 L530.5,186.0 L532.0,188.1 L533.5,188.7 L535.0,189.6 L536.5,191.1 L538.0,192.9 L539.5,194.6 L541.0,195.9 L542.5,196.8 L544.0,197.2 L545.5,197.0 L547.0,196.1 L548.5,196.2 L550.0,196.2 L551.5,195.3 L553.0,195.8 L554.5,195.9 L556.0,194.0 L557.5,189.6 L559.0,186.9 L560.5,184.8 L562.0,183.1 L563.5,181.7 L565.0,180.6 L566.5,180.1 L568.0,180.1 L569.5,180.9 L571.0,182.5 L572.5,184.0 L574.0,185.1 L575.5,185.8 L577.0,186.5 L578.5,187.3 L580.0,188.0 L581.5,188.6 L583.0,190.3 L584.5,192.9 L586.0,195.8 L587.5,198.0 L589.0,199.1 L590.5,199.0 L592.0,198.8 L593.5,198.9 L595.0,198.9 L596.5,198.8 L598.0,198.7 L599.5,198.4 L601.0,197.5 L602.5,196.3 L604.0,195.2 L605.5,194.4 L607.0,194.3 L608.5,194.7 L610.0,194.8 L611.5,194.2 L613.0,193.5 L614.5,193.3 L616.0,193.5 L617.5,193.9 L619.0,194.2 L620.5,194.2 L622.0,193.7 L623.5,192.8 L625.0,191.7 L626.5,190.3 L628.0,188.5 L629.5,186.7 L631.0,185.2 L632.5,184.6 L634.0,184.6 L635.5,184.5 L637.0,184.3 L638.5,183.8 L640.0,182.9 L641.5,181.9 L643.0,180.9 L644.5,180.2 L646.0,179.8 L647.5,179.7 L649.0,180.2 L650.5,181.5 L652.0,183.3 L653.5,185.3 L655.0,187.2 L656.5,188.7 L658.0,189.9 L659.5,190.4 L661.0,190.7 L662.5,191.7 L664.0,193.2 L665.5,194.7 L667.0,196.1 L668.5,196.9 L670.0,197.0 L671.5,196.5 L673.0,195.7 L674.5,194.1 L676.0,191.7 L677.5,189.1 L679.0,187.3 L680.5,186.9" fill="none" stroke="#5a5a5a" stroke-width="1.25" stroke-linejoin="round"/>
<path d="M502.0,197.9 L503.5,197.5 L505.0,196.3 L506.5,194.6 L508.0,192.8 L509.5,191.2 L511.0,190.3 L512.5,190.3 L514.0,189.5 L515.5,187.6 L517.0,184.7 L518.5,181.5 L520.0,178.6 L521.5,176.6 L523.0,175.8 L524.5,176.4 L526.0,178.4 L527.5,181.4 L529.0,184.9 L530.5,188.0 L532.0,190.0 L533.5,190.5 L535.0,191.4 L536.5,192.7 L538.0,194.2 L539.5,195.6 L541.0,196.6 L542.5,197.3 L544.0,197.9 L545.5,198.0 L547.0,197.7 L548.5,198.2 L550.0,198.5 L551.5,197.6 L553.0,197.9 L554.5,197.7 L556.0,195.8 L557.5,191.5 L559.0,189.1 L560.5,187.1 L562.0,185.6 L563.5,184.4 L565.0,183.4 L566.5,182.8 L568.0,182.9 L569.5,183.7 L571.0,185.3 L572.5,186.8 L574.0,187.8 L575.5,188.5 L577.0,189.0 L578.5,189.8 L580.0,190.4 L581.5,190.9 L583.0,192.5 L584.5,194.8 L586.0,197.5 L587.5,199.6 L589.0,200.6 L590.5,200.3 L592.0,200.1 L593.5,200.0 L595.0,199.7 L596.5,199.5 L598.0,199.4 L599.5,199.1 L601.0,198.3 L602.5,197.1 L604.0,196.0 L605.5,195.3 L607.0,195.2 L608.5,195.7 L610.0,195.8 L611.5,195.3 L613.0,194.6 L614.5,194.6 L616.0,194.9 L617.5,195.5 L619.0,195.8 L620.5,195.7 L622.0,195.0 L623.5,194.1 L625.0,193.0 L626.5,191.8 L628.0,190.2 L629.5,188.6 L631.0,187.3 L632.5,186.7 L634.0,186.8 L635.5,187.0 L637.0,187.2 L638.5,187.0 L640.0,186.2 L641.5,185.2 L643.0,184.0 L644.5,183.0 L646.0,182.3 L647.5,182.0 L649.0,182.4 L650.5,183.6 L652.0,185.2 L653.5,187.0 L655.0,188.6 L656.5,190.1 L658.0,191.1 L659.5,191.6 L661.0,191.9 L662.5,192.9 L664.0,194.2 L665.5,195.6 L667.0,196.7 L668.5,197.5 L670.0,197.8 L671.5,197.8 L673.0,197.4 L674.5,195.9 L676.0,193.6 L677.5,191.0 L679.0,189.3 L680.5,188.9" fill="none" stroke="#5a5a5a" stroke-width="1.25" stroke-linejoin="round"/>
<path d="M502.0,201.0 L503.5,200.6 L505.0,199.4 L506.5,197.7 L508.0,195.9 L509.5,194.5 L511.0,193.7 L512.5,193.5 L514.0,192.5 L515.5,190.6 L517.0,188.0 L518.5,185.2 L520.0,182.3 L521.5,179.8 L523.0,178.3 L524.5,178.1 L526.0,179.6 L527.5,182.0 L529.0,184.6 L530.5,186.9 L532.0,188.3 L533.5,188.5 L535.0,189.3 L536.5,191.2 L538.0,193.6 L539.5,196.0 L541.0,198.0 L542.5,199.2 L544.0,199.7 L545.5,199.3 L547.0,198.3 L548.5,198.3 L550.0,198.5 L551.5,198.2 L553.0,199.7 L554.5,201.1 L556.0,200.5 L557.5,196.8 L559.0,194.7 L560.5,193.0 L562.0,191.7 L563.5,190.5 L565.0,189.5 L566.5,189.0 L568.0,188.6 L569.5,188.7 L571.0,189.3 L572.5,189.8 L574.0,189.9 L575.5,189.9 L577.0,190.2 L578.5,190.7 L580.0,191.0 L581.5,191.3 L583.0,192.3 L584.5,194.1 L586.0,196.3 L587.5,198.0 L589.0,198.9 L590.5,199.1 L592.0,199.6 L593.5,200.5 L595.0,201.1 L596.5,201.5 L598.0,201.6 L599.5,201.2 L601.0,200.1 L602.5,198.5 L604.0,196.9 L605.5,195.8 L607.0,195.4 L608.5,195.8 L610.0,195.9 L611.5,195.3 L613.0,194.7 L614.5,194.6 L616.0,195.0 L617.5,195.6 L619.0,196.0 L620.5,196.3 L622.0,196.2 L623.5,195.8 L625.0,195.1 L626.5,194.0 L628.0,192.6 L629.5,191.2 L631.0,190.0 L632.5,189.5 L634.0,189.6 L635.5,189.8 L637.0,190.1 L638.5,190.0 L640.0,189.4 L641.5,188.4 L643.0,187.3 L644.5,186.3 L646.0,185.5 L647.5,185.2 L649.0,185.6 L650.5,186.8 L652.0,188.5 L653.5,190.3 L655.0,191.8 L656.5,193.0 L658.0,193.8 L659.5,194.2 L661.0,194.4 L662.5,195.0 L664.0,195.6 L665.5,196.1 L667.0,196.7 L668.5,197.1 L670.0,197.5 L671.5,197.7 L673.0,197.5 L674.5,196.3 L676.0,195.0 L677.5,194.2 L679.0,193.7 L680.5,193.6" fill="none" stroke="#5a5a5a" stroke-width="1.25" stroke-linejoin="round"/>
<path d="M502.0,201.7 L503.5,201.5 L505.0,201.0 L506.5,200.1 L508.0,199.0 L509.5,197.8 L511.0,197.0 L512.5,196.5 L514.0,195.1 L515.5,192.7 L517.0,189.6 L518.5,186.5 L520.0,183.6 L521.5,181.4 L523.0,180.2 L524.5,180.5 L526.0,182.2 L527.5,185.0 L529.0,188.1 L530.5,190.9 L532.0,192.7 L533.5,193.1 L535.0,194.0 L536.5,195.8 L538.0,198.2 L539.5,200.6 L541.0,202.5 L542.5,203.7 L544.0,204.1 L545.5,203.9 L547.0,203.0 L548.5,203.1 L550.0,203.2 L551.5,202.7 L553.0,203.9 L554.5,204.9 L556.0,203.8 L557.5,199.8 L559.0,197.4 L560.5,195.4 L562.0,193.7 L563.5,192.3 L565.0,191.2 L566.5,190.6 L568.0,190.5 L569.5,191.2 L571.0,192.5 L572.5,193.8 L574.0,194.5 L575.5,195.0 L577.0,195.4 L578.5,195.9 L580.0,196.2 L581.5,196.4 L583.0,197.4 L584.5,199.3 L586.0,201.6 L587.5,203.4 L589.0,204.3 L590.5,204.2 L592.0,204.2 L593.5,204.4 L595.0,204.4 L596.5,204.3 L598.0,204.3 L599.5,203.9 L601.0,203.0 L602.5,201.8 L604.0,200.5 L605.5,199.7 L607.0,199.5 L608.5,199.9 L610.0,199.9 L611.5,199.2 L613.0,198.4 L614.5,198.1 L616.0,198.3 L617.5,198.7 L619.0,199.3 L620.5,200.0 L622.0,200.6 L623.5,200.7 L625.0,200.1 L626.5,199.0 L628.0,197.5 L629.5,196.1 L631.0,194.9 L632.5,194.4 L634.0,194.3 L635.5,194.1 L637.0,193.6 L638.5,192.9 L640.0,192.1 L641.5,191.1 L643.0,190.1 L644.5,189.3 L646.0,188.7 L647.5,188.5 L649.0,188.9 L650.5,189.7 L652.0,190.8 L653.5,192.1 L655.0,193.5 L656.5,194.6 L658.0,195.0 L659.5,194.9 L661.0,194.8 L662.5,195.9 L664.0,197.6 L665.5,199.5 L667.0,201.0 L668.5,201.7 L670.0,202.0 L671.5,202.2 L673.0,201.9 L674.5,200.6 L676.0,199.2 L677.5,198.1 L679.0,197.5 L680.5,197.4" fill="none" stroke="#5a5a5a" stroke-width="1.25" stroke-linejoin="round"/>
<path d="M502.0,202.2 L503.5,202.0 L505.0,201.2 L506.5,200.2 L508.0,199.0 L509.5,197.8 L511.0,196.9 L512.5,196.6 L514.0,195.5 L515.5,193.3 L517.0,190.4 L518.5,187.4 L520.0,184.7 L521.5,182.7 L523.0,181.9 L524.5,182.3 L526.0,184.1 L527.5,186.9 L529.0,190.0 L530.5,192.9 L532.0,194.8 L533.5,195.3 L535.0,196.1 L536.5,197.9 L538.0,200.3 L539.5,202.7 L541.0,204.5 L542.5,205.7 L544.0,206.2 L545.5,205.6 L547.0,204.4 L548.5,204.2 L550.0,204.3 L551.5,203.9 L553.0,205.3 L554.5,206.6 L556.0,205.8 L557.5,201.9 L559.0,199.5 L560.5,197.4 L562.0,195.5 L563.5,194.0 L565.0,192.7 L566.5,192.1 L568.0,192.1 L569.5,192.9 L571.0,194.5 L572.5,195.9 L574.0,196.7 L575.5,197.2 L577.0,197.6 L578.5,197.9 L580.0,198.0 L581.5,197.9 L583.0,198.7 L584.5,200.2 L586.0,202.3 L587.5,204.0 L589.0,204.9 L590.5,204.8 L592.0,204.9 L593.5,205.2 L595.0,205.3 L596.5,205.3 L598.0,205.2 L599.5,205.0 L601.0,204.2 L602.5,203.2 L604.0,202.2 L605.5,201.6 L607.0,201.6 L608.5,202.0 L610.0,201.9 L611.5,201.0 L613.0,199.9 L614.5,199.4 L616.0,199.4 L617.5,199.8 L619.0,200.3 L620.5,201.0 L622.0,201.6 L623.5,201.7 L625.0,201.1 L626.5,200.1 L628.0,198.8 L629.5,197.5 L631.0,196.5 L632.5,196.0 L634.0,196.0 L635.5,195.8 L637.0,195.4 L638.5,194.8 L640.0,193.9 L641.5,192.9 L643.0,191.8 L644.5,190.9 L646.0,190.2 L647.5,189.9 L649.0,190.3 L650.5,191.2 L652.0,192.4 L653.5,193.7 L655.0,195.1 L656.5,196.2 L658.0,196.7 L659.5,196.6 L661.0,196.6 L662.5,197.6 L664.0,199.0 L665.5,200.5 L667.0,201.7 L668.5,202.4 L670.0,202.7 L671.5,202.9 L673.0,202.6 L674.5,201.3 L676.0,199.9 L677.5,198.7 L679.0,198.0 L680.5,197.9" fill="none" stroke="#5a5a5a" stroke-width="1.25" stroke-linejoin="round"/>
</g>
<line x1="503.1" y1="111.2" x2="679.2" y2="111.2" stroke="#e7828a" stroke-width="1.3" stroke-dasharray="3.8 3.3" stroke-dashoffset="0"/>
<line x1="503.1" y1="120.9" x2="679.2" y2="120.9" stroke="#e7828a" stroke-width="1.3" stroke-dasharray="3.8 3.3" stroke-dashoffset="0"/>
<line x1="625.5" y1="95.7" x2="625.5" y2="108.0" stroke="#e03a45" stroke-width="0.85"/><path d="M623.3,105.8 L625.5,111.3 L627.7,105.8 L625.5,107.175 Z" fill="#e03a45"/>
<line x1="625.5" y1="135.4" x2="625.5" y2="123.5" stroke="#e03a45" stroke-width="0.85"/><path d="M623.3,125.7 L625.5,120.2 L627.7,125.7 L625.5,124.325 Z" fill="#e03a45"/>
<text x="634.8" y="133.7" font-size="11.2" fill="#e03a45">0.33eV</text>
<line x1="543.1" y1="178.9" x2="543.1" y2="181.9" stroke="#222" stroke-width="1"/>
<line x1="557.1" y1="178.9" x2="557.1" y2="181.9" stroke="#222" stroke-width="1"/>
<line x1="598.2" y1="178.9" x2="598.2" y2="181.9" stroke="#222" stroke-width="1"/>
<line x1="632.7" y1="178.9" x2="632.7" y2="181.9" stroke="#222" stroke-width="1"/>
<line x1="661.1" y1="178.9" x2="661.1" y2="181.9" stroke="#222" stroke-width="1"/>
<rect x="503.1" y="6.2" width="176.10" height="175.70" fill="none" stroke="#333" stroke-width="1.6"/>
<text x="499.70" y="9.90" font-size="12.2" text-anchor="end" font-weight="normal" font-style="normal" fill="#1a1a1a" >2</text>
<text x="499.70" y="54.00" font-size="12.2" text-anchor="end" font-weight="normal" font-style="normal" fill="#1a1a1a" >1</text>
<text x="499.70" y="98.10" font-size="12.2" text-anchor="end" font-weight="normal" font-style="normal" fill="#1a1a1a" >0</text>
<text x="499.70" y="142.20" font-size="12.2" text-anchor="end" font-weight="normal" font-style="normal" fill="#1a1a1a" >-1</text>
<text x="499.70" y="186.30" font-size="12.2" text-anchor="end" font-weight="normal" font-style="normal" fill="#1a1a1a" >-2</text>
<rect x="37.8" y="227.4" width="176.20" height="175.30" fill="none" stroke="#111" stroke-width="1.6"/>
<text x="37.80" y="415.50" font-size="12.2" text-anchor="middle" font-weight="normal" font-style="normal" fill="#1a1a1a" >-2</text>
<line x1="81.85" y1="399.7" x2="81.85" y2="402.7" stroke="#111" stroke-width="1"/>
<text x="81.85" y="415.50" font-size="12.2" text-anchor="middle" font-weight="normal" font-style="normal" fill="#1a1a1a" >-1</text>
<line x1="125.90" y1="399.7" x2="125.90" y2="402.7" stroke="#111" stroke-width="1"/>
<text x="125.90" y="415.50" font-size="12.2" text-anchor="middle" font-weight="normal" font-style="normal" fill="#1a1a1a" >0</text>
<line x1="169.95" y1="399.7" x2="169.95" y2="402.7" stroke="#111" stroke-width="1"/>
<text x="169.95" y="415.50" font-size="12.2" text-anchor="middle" font-weight="normal" font-style="normal" fill="#1a1a1a" >1</text>
<text x="214.00" y="415.50" font-size="12.2" text-anchor="middle" font-weight="normal" font-style="normal" fill="#1a1a1a" >2</text>
<text x="34.20" y="407.00" font-size="12.2" text-anchor="end" font-weight="normal" font-style="normal" fill="#1a1a1a" >0</text>
<text x="34.20" y="336.20" font-size="12.2" text-anchor="end" font-weight="normal" font-style="normal" fill="#1a1a1a" >10</text>
<text x="34.20" y="265.40" font-size="12.2" text-anchor="end" font-weight="normal" font-style="normal" fill="#1a1a1a" >20</text>
<text x="111.90" y="435.9" font-size="16" font-style="italic" fill="#1a1a1a">E-E<tspan font-style="normal" font-size="10.5" dy="3.6">F</tspan></text>
<rect x="269.7" y="227.0" width="176.10" height="175.20" fill="none" stroke="#111" stroke-width="1.6"/>
<text x="269.70" y="415.00" font-size="12.2" text-anchor="middle" font-weight="normal" font-style="normal" fill="#1a1a1a" >-2</text>
<line x1="313.73" y1="399.2" x2="313.73" y2="402.2" stroke="#111" stroke-width="1"/>
<text x="313.73" y="415.00" font-size="12.2" text-anchor="middle" font-weight="normal" font-style="normal" fill="#1a1a1a" >-1</text>
<line x1="357.75" y1="399.2" x2="357.75" y2="402.2" stroke="#111" stroke-width="1"/>
<text x="357.75" y="415.00" font-size="12.2" text-anchor="middle" font-weight="normal" font-style="normal" fill="#1a1a1a" >0</text>
<line x1="401.77" y1="399.2" x2="401.77" y2="402.2" stroke="#111" stroke-width="1"/>
<text x="401.77" y="415.00" font-size="12.2" text-anchor="middle" font-weight="normal" font-style="normal" fill="#1a1a1a" >1</text>
<text x="445.80" y="415.00" font-size="12.2" text-anchor="middle" font-weight="normal" font-style="normal" fill="#1a1a1a" >2</text>
<text x="266.10" y="406.50" font-size="12.2" text-anchor="end" font-weight="normal" font-style="normal" fill="#1a1a1a" >0</text>
<text x="266.10" y="335.70" font-size="12.2" text-anchor="end" font-weight="normal" font-style="normal" fill="#1a1a1a" >10</text>
<text x="266.10" y="264.90" font-size="12.2" text-anchor="end" font-weight="normal" font-style="normal" fill="#1a1a1a" >20</text>
<text x="343.75" y="435.9" font-size="16" font-style="italic" fill="#1a1a1a">E-E<tspan font-style="normal" font-size="10.5" dy="3.6">F</tspan></text>
<rect x="503.5" y="227.0" width="175.80" height="175.30" fill="none" stroke="#111" stroke-width="1.6"/>
<text x="503.50" y="415.10" font-size="12.2" text-anchor="middle" font-weight="normal" font-style="normal" fill="#1a1a1a" >-2</text>
<line x1="547.45" y1="399.3" x2="547.45" y2="402.3" stroke="#111" stroke-width="1"/>
<text x="547.45" y="415.10" font-size="12.2" text-anchor="middle" font-weight="normal" font-style="normal" fill="#1a1a1a" >-1</text>
<line x1="591.40" y1="399.3" x2="591.40" y2="402.3" stroke="#111" stroke-width="1"/>
<text x="591.40" y="415.10" font-size="12.2" text-anchor="middle" font-weight="normal" font-style="normal" fill="#1a1a1a" >0</text>
<line x1="635.35" y1="399.3" x2="635.35" y2="402.3" stroke="#111" stroke-width="1"/>
<text x="635.35" y="415.10" font-size="12.2" text-anchor="middle" font-weight="normal" font-style="normal" fill="#1a1a1a" >1</text>
<text x="679.30" y="415.10" font-size="12.2" text-anchor="middle" font-weight="normal" font-style="normal" fill="#1a1a1a" >2</text>
<text x="499.90" y="406.60" font-size="12.2" text-anchor="end" font-weight="normal" font-style="normal" fill="#1a1a1a" >0</text>
<text x="499.90" y="335.80" font-size="12.2" text-anchor="end" font-weight="normal" font-style="normal" fill="#1a1a1a" >10</text>
<text x="499.90" y="265.00" font-size="12.2" text-anchor="end" font-weight="normal" font-style="normal" fill="#1a1a1a" >20</text>
<text x="577.40" y="435.9" font-size="16" font-style="italic" fill="#1a1a1a">E-E<tspan font-style="normal" font-size="10.5" dy="3.6">F</tspan></text>
<path d="M37.8,401.0 C41.7,400.8 54.0,399.9 61.0,399.8 C68.0,399.7 73.5,400.1 80.0,400.3 C86.5,400.5 94.2,400.6 100.0,400.8 C105.8,401.0 106.7,401.3 115.0,401.5 C123.3,401.7 142.5,402.1 150.0,402.0 C157.5,401.9 156.7,402.0 160.0,401.0 C163.3,400.0 167.6,397.2 169.9,396.0 C172.2,394.8 172.3,394.2 173.6,394.0 C174.8,393.8 176.2,395.2 177.4,395.0 C178.7,394.8 179.5,393.2 181.1,392.8 C182.7,392.4 184.7,392.8 187.0,392.3 C189.3,391.8 192.7,390.0 194.8,389.8 C196.9,389.6 198.1,390.5 199.8,391.0 C201.5,391.5 203.4,392.6 204.8,392.8 C206.2,393.0 207.1,391.8 208.5,392.3 C209.9,392.8 212.7,395.4 213.5,396.0" fill="none" stroke="#3daf5e" stroke-width="0.9" stroke-linejoin="round"/>
<path d="M37.8,391.0 C38.3,390.4 39.6,388.8 41.0,387.3 C42.4,385.9 44.3,383.5 46.0,382.3 C47.7,381.1 49.5,380.1 51.0,380.3 C52.5,380.5 53.5,384.4 54.7,383.5 C55.9,382.6 57.1,376.6 58.4,374.8 C59.6,373.0 60.9,372.8 62.2,372.8 C63.5,372.8 64.8,375.5 66.0,374.8 C67.2,374.1 68.5,369.9 69.7,368.6 C70.9,367.4 72.2,367.1 73.4,367.3 C74.6,367.5 75.6,369.0 77.1,369.8 C78.5,370.6 80.6,372.3 82.1,372.3 C83.6,372.3 84.8,370.6 85.9,369.8 C87.0,369.0 87.9,366.9 88.9,367.3 C89.9,367.7 90.7,370.2 92.1,372.3 C93.5,374.4 95.4,377.7 97.1,379.8 C98.8,381.9 100.2,382.7 102.1,384.8 C104.0,386.9 106.2,389.8 108.3,392.3 C110.4,394.8 113.0,398.2 114.6,399.8 C116.2,401.4 112.1,401.6 118.0,402.0 C123.9,402.4 142.6,402.4 150.0,402.0 C157.4,401.6 159.1,400.7 162.4,399.8 C165.7,398.9 168.0,397.6 169.9,396.8 C171.8,396.0 172.3,394.8 173.6,394.8 C174.8,394.8 176.2,397.0 177.4,396.8 C178.7,396.6 179.7,394.2 181.1,393.5 C182.5,392.8 184.4,393.1 186.1,392.8 C187.8,392.5 189.4,392.3 191.1,391.8 C192.8,391.3 194.6,389.7 196.1,389.8 C197.6,389.9 198.6,391.3 199.8,392.3 C201.0,393.3 202.2,395.7 203.5,396.0 C204.8,396.3 206.1,394.3 207.3,394.3 C208.6,394.3 210.0,395.3 211.0,396.0 C212.0,396.7 213.1,398.1 213.5,398.5" fill="none" stroke="#4a4a4a" stroke-width="0.9" stroke-linejoin="round"/>
<path d="M37.8,362.3 C38.3,362.1 39.6,361.1 41.0,361.1 C42.4,361.1 44.5,362.8 46.0,362.3 C47.5,361.8 48.5,358.1 49.7,357.9 C51.0,357.7 52.2,359.3 53.5,361.1 C54.8,362.9 56.0,368.4 57.2,368.6 C58.4,368.8 59.6,362.9 60.9,362.3 C62.1,361.8 63.7,364.5 64.7,365.3 C65.8,366.1 66.2,368.1 67.2,367.3 C68.2,366.5 69.9,360.9 70.9,360.3 C71.9,359.7 72.4,362.8 73.4,363.6 C74.4,364.4 75.6,363.9 77.1,365.3 C78.5,366.8 80.6,370.7 82.1,372.3 C83.6,373.9 84.7,374.4 85.9,374.8 C87.2,375.2 88.1,374.0 89.6,374.8 C91.0,375.6 92.7,377.9 94.6,379.8 C96.5,381.7 98.5,383.7 100.8,386.0 C103.1,388.3 105.8,391.1 108.3,393.5 C110.8,395.9 114.1,399.1 115.8,400.5 C117.5,401.9 112.8,401.8 118.3,402.0 C123.8,402.2 143.0,402.6 148.7,402.0 C154.4,401.4 151.2,399.9 152.4,398.5 C153.7,397.1 154.9,395.4 156.2,393.5 C157.4,391.6 158.4,390.0 159.9,387.3 C161.4,384.6 163.5,379.8 164.9,377.3 C166.3,374.8 167.6,375.2 168.6,372.3 C169.6,369.4 170.3,363.4 171.1,359.9 C171.8,356.4 172.4,351.1 173.1,351.1 C173.8,351.1 174.6,356.1 175.4,359.9 C176.2,363.6 177.1,372.8 177.9,373.6 C178.7,374.4 179.4,369.2 180.3,364.8 C181.2,360.4 182.5,350.1 183.6,347.4 C184.7,344.7 185.7,349.0 186.8,348.6 C187.9,348.2 189.2,348.8 190.3,344.9 C191.4,340.9 192.5,330.5 193.6,324.9 C194.7,319.3 195.9,312.2 196.8,311.2 C197.8,310.2 198.5,313.1 199.3,318.7 C200.1,324.3 200.9,342.8 201.8,344.9 C202.7,347.0 203.7,333.8 204.8,331.2 C205.9,328.6 207.5,326.9 208.5,329.4 C209.5,331.9 210.2,342.9 211.0,346.1 C211.8,349.3 213.1,348.2 213.5,348.6" fill="none" stroke="#d9363e" stroke-width="0.9" stroke-linejoin="round"/>
<path d="M37.8,274.1 C38.2,272.8 39.4,269.1 40.3,266.0 C41.2,262.9 42.2,253.8 43.1,255.2 C44.0,256.6 44.9,273.2 45.7,274.6 C46.5,276.0 47.2,267.7 47.9,263.8 C48.6,259.9 49.3,252.4 50.0,251.3 C50.7,250.2 51.5,254.1 52.2,257.3 C52.9,260.5 53.5,264.6 54.3,270.3 C55.1,276.1 56.1,290.7 56.9,291.8 C57.7,292.9 58.5,279.4 59.3,276.7 C60.1,274.0 61.1,275.4 61.9,275.6 C62.7,275.8 63.2,275.1 64.0,277.8 C64.8,280.5 65.9,291.3 66.8,291.8 C67.7,292.3 68.4,284.6 69.4,281.0 C70.4,277.4 71.7,270.3 72.6,270.3 C73.5,270.3 74.0,278.3 74.8,281.0 C75.6,283.7 76.7,284.9 77.6,286.4 C78.5,287.8 79.0,287.4 80.2,289.7 C81.4,292.0 83.1,301.1 84.5,300.0 C85.9,298.9 87.6,283.8 88.8,282.8 C90.0,281.8 90.7,289.6 91.6,294.0 C92.5,298.4 93.5,305.1 94.2,309.0 C94.9,312.9 95.0,314.8 95.9,317.5 C96.8,320.2 98.6,322.5 99.6,325.0 C100.6,327.5 101.3,329.3 102.1,332.4 C102.9,335.5 103.6,339.4 104.6,343.6 C105.6,347.8 107.3,352.2 108.3,357.4 C109.3,362.6 110.0,369.4 110.8,374.8 C111.6,380.2 112.3,385.5 113.3,389.8 C114.3,394.1 115.9,398.5 117.0,400.5 C118.1,402.5 114.5,401.8 120.0,402.0 C125.5,402.2 144.6,402.1 150.0,402.0 C155.4,401.9 151.2,401.9 152.4,401.5 C153.6,401.1 155.7,400.7 157.4,399.8 C159.1,398.9 160.7,397.5 162.4,396.0 C164.1,394.5 166.1,393.1 167.4,391.0 C168.7,388.9 169.5,384.9 170.4,383.5 C171.3,382.1 172.0,381.5 172.9,382.3 C173.8,383.1 175.0,388.5 176.1,388.5 C177.2,388.5 178.2,384.2 179.4,382.3 C180.7,380.4 182.3,378.3 183.6,377.3 C184.9,376.3 186.1,377.4 187.3,376.1 C188.6,374.9 189.6,372.1 191.1,369.8 C192.6,367.5 194.7,362.7 196.1,362.3 C197.5,361.9 198.4,364.5 199.3,367.3 C200.2,370.1 200.9,378.7 201.8,379.3 C202.7,379.9 203.8,373.1 204.8,371.1 C205.8,369.1 206.8,367.1 207.8,367.3 C208.8,367.5 210.1,370.6 211.0,372.3 C211.9,374.0 213.1,376.5 213.5,377.3" fill="none" stroke="#a26ee6" stroke-width="0.9" stroke-linejoin="round"/>
<text x="91.1" y="246.3" font-size="11.3" fill="#1a1a1a">GeSe (Orth.)</text>
<line x1="111.1" y1="266.3" x2="129.5" y2="266.3" stroke="#555" stroke-width="1"/>
<text x="133.0" y="269.8" font-size="9.6" fill="#4a4a4a">Ge-4s</text>
<line x1="111.1" y1="279.8" x2="129.5" y2="279.8" stroke="#d9363e" stroke-width="1"/>
<text x="133.0" y="283.3" font-size="9.6" fill="#d9363e">Ge-4p</text>
<line x1="111.1" y1="293.6" x2="129.5" y2="293.6" stroke="#3daf5e" stroke-width="1"/>
<text x="133.0" y="297.1" font-size="9.6" fill="#3daf5e">Se-4s</text>
<line x1="111.1" y1="307.4" x2="129.5" y2="307.4" stroke="#a26ee6" stroke-width="1"/>
<text x="133.0" y="310.9" font-size="9.6" fill="#a26ee6">Se-4p</text>
<path d="M269.7,401.0 C272.2,400.9 279.9,400.7 285.0,400.5 C290.1,400.3 295.9,400.2 300.3,400.0 C304.7,399.8 307.5,399.5 311.1,399.4 C314.7,399.3 318.0,399.4 322.0,399.6 C326.0,399.8 331.2,400.5 335.0,400.8 C338.8,401.1 340.0,401.4 345.0,401.5 C350.0,401.6 360.8,401.9 365.0,401.5 C369.2,401.1 368.5,399.7 370.4,399.0 C372.3,398.3 374.3,398.1 376.2,397.1 C378.1,396.1 380.4,394.0 382.0,393.2 C383.6,392.4 384.5,393.3 385.8,392.3 C387.1,391.3 388.4,387.9 389.7,387.4 C391.0,386.9 392.2,389.1 393.5,389.4 C394.8,389.7 396.1,389.6 397.4,389.4 C398.7,389.2 399.8,388.2 401.2,388.4 C402.6,388.5 404.5,389.5 406.1,390.3 C407.7,391.1 409.5,392.4 410.9,393.2 C412.3,394.0 413.1,394.9 414.7,395.1 C416.3,395.3 418.6,394.2 420.5,394.2 C422.4,394.2 424.4,394.6 426.3,395.1 C428.2,395.6 430.2,397.2 432.1,397.1 C434.0,397.0 436.5,394.9 437.9,394.2 C439.3,393.5 439.8,392.5 440.7,392.8 C441.6,393.1 442.9,395.1 443.6,396.1 C444.4,397.1 444.9,398.5 445.2,399.0" fill="none" stroke="#3daf5e" stroke-width="0.9" stroke-linejoin="round"/>
<path d="M269.7,390.0 C270.1,389.4 271.5,387.4 272.3,386.5 C273.1,385.6 273.6,384.5 274.5,384.4 C275.4,384.3 276.4,386.6 277.5,386.0 C278.6,385.4 279.8,381.4 280.9,381.1 C282.0,380.8 282.9,383.5 284.2,384.4 C285.5,385.3 287.1,385.6 288.5,386.5 C289.9,387.4 291.6,390.6 292.8,389.7 C294.1,388.8 294.9,385.8 296.0,381.1 C297.1,376.4 298.4,365.1 299.3,361.7 C300.2,358.3 300.7,359.5 301.4,360.6 C302.1,361.7 302.8,368.7 303.6,368.2 C304.4,367.7 305.5,360.4 306.4,357.4 C307.3,354.3 308.2,350.2 309.0,349.9 C309.8,349.5 310.3,351.9 311.1,355.3 C311.9,358.7 312.8,366.7 313.7,370.3 C314.6,373.9 315.5,376.1 316.5,376.8 C317.5,377.5 318.7,376.5 319.7,374.7 C320.7,372.9 321.5,368.2 322.3,366.0 C323.1,363.8 323.8,361.0 324.5,361.7 C325.2,362.4 326.0,365.6 326.6,370.3 C327.2,375.0 327.7,385.9 328.3,389.7 C328.9,393.5 329.4,392.6 330.5,393.0 C331.6,393.4 333.6,392.1 334.8,391.9 C336.1,391.7 336.9,391.4 338.0,391.9 C339.1,392.4 340.2,393.5 341.3,395.1 C342.4,396.7 343.6,400.5 344.5,401.6 C345.4,402.8 339.4,402.0 347.0,402.0 C354.6,402.0 382.2,401.7 390.0,401.5 C397.8,401.3 391.0,401.3 393.5,400.9 C396.0,400.5 401.9,399.5 405.1,399.0 C408.3,398.5 410.2,398.3 412.8,398.0 C415.4,397.7 417.9,396.9 420.5,397.1 C423.1,397.3 425.6,399.4 428.2,399.4 C430.8,399.4 433.6,398.2 435.9,397.1 C438.1,396.0 440.1,393.0 441.7,392.8 C443.2,392.6 444.6,395.6 445.2,396.1" fill="none" stroke="#4a4a4a" stroke-width="0.9" stroke-linejoin="round"/>
<path d="M269.7,390.0 C270.1,388.9 271.3,385.0 272.3,383.3 C273.3,381.6 274.4,379.5 275.5,380.0 C276.6,380.5 277.7,385.8 278.8,386.5 C279.9,387.2 280.9,383.9 282.0,384.4 C283.1,384.9 283.9,388.6 285.2,389.7 C286.5,390.8 288.2,391.1 289.6,390.8 C291.1,390.5 292.5,389.6 293.9,387.6 C295.3,385.6 297.0,381.0 298.2,379.0 C299.4,377.0 299.9,375.3 300.8,375.7 C301.7,376.1 302.6,379.5 303.6,381.1 C304.6,382.7 305.7,384.8 306.8,385.4 C307.9,385.9 308.9,383.7 310.0,384.4 C311.1,385.1 312.0,388.4 313.3,389.7 C314.6,390.9 316.2,392.4 317.6,391.9 C319.0,391.4 320.8,387.8 321.9,386.5 C323.0,385.2 323.7,383.5 324.5,384.4 C325.3,385.3 325.6,389.8 326.6,391.9 C327.6,394.0 328.8,396.2 330.5,397.3 C332.2,398.4 334.9,397.7 337.0,398.4 C339.1,399.1 341.9,401.0 343.4,401.6 C344.9,402.2 343.6,401.9 346.0,402.0 C348.4,402.1 355.4,402.0 358.0,402.0 C360.6,402.0 360.6,402.9 361.7,401.9 C362.8,400.9 363.7,396.8 364.6,396.1 C365.5,395.5 366.1,398.8 366.9,398.0 C367.7,397.2 368.4,393.9 369.5,391.3 C370.6,388.7 372.2,383.7 373.3,382.6 C374.4,381.5 375.0,385.6 375.8,384.5 C376.6,383.4 377.2,380.1 378.1,375.9 C379.0,371.7 380.0,363.2 381.0,359.5 C382.0,355.8 383.1,357.1 383.9,353.7 C384.7,350.3 385.2,344.9 385.8,339.3 C386.4,333.7 386.8,325.6 387.2,320.0 C387.6,314.4 387.6,311.4 388.2,306.0 C388.8,300.6 390.0,289.6 390.7,287.3 C391.4,285.0 391.6,287.7 392.4,292.4 C393.2,297.1 394.6,316.0 395.5,315.4 C396.4,314.8 396.8,296.8 397.5,289.0 C398.2,281.2 399.0,272.3 399.6,268.6 C400.2,264.9 400.5,266.8 400.9,266.9 C401.3,267.0 401.4,269.7 401.8,269.0 C402.2,268.3 402.7,262.5 403.1,262.7 C403.5,262.9 403.9,264.5 404.3,270.3 C404.7,276.1 405.2,291.3 405.7,297.5 C406.2,303.7 406.8,308.7 407.4,307.7 C408.0,306.7 408.8,293.0 409.4,291.6 C410.0,290.2 410.5,294.0 411.1,299.2 C411.7,304.4 412.5,321.1 413.2,323.0 C413.9,324.9 414.8,311.2 415.4,310.3 C416.0,309.4 416.6,315.9 417.1,317.9 C417.6,319.8 418.0,322.0 418.6,322.0 C419.2,322.0 419.9,317.7 420.5,317.9 C421.1,318.1 421.7,321.1 422.2,323.0 C422.7,324.9 422.8,329.1 423.4,329.6 C423.9,330.1 424.8,325.1 425.5,326.0 C426.2,326.9 426.9,331.4 427.5,335.0 C428.1,338.6 428.6,347.2 429.2,347.9 C429.8,348.6 430.5,341.7 431.1,339.3 C431.7,336.9 432.2,332.6 433.0,333.5 C433.8,334.4 435.0,348.2 435.9,345.0 C436.8,341.8 437.6,321.0 438.3,314.5 C439.0,308.0 439.3,308.4 440.0,306.0 C440.7,303.6 441.9,299.8 442.6,300.1 C443.3,300.4 443.8,299.6 444.3,307.7 C444.8,315.8 445.4,342.0 445.6,348.9" fill="none" stroke="#d9363e" stroke-width="0.9" stroke-linejoin="round"/>
<path d="M269.7,306.4 C269.8,307.4 269.8,310.2 270.2,312.6 C270.6,315.0 271.5,320.0 272.1,320.7 C272.8,321.4 273.4,315.5 274.1,316.6 C274.9,317.7 275.8,320.6 276.6,327.2 C277.5,333.8 278.3,353.1 279.2,356.3 C280.1,359.5 281.0,346.8 282.0,346.6 C283.0,346.4 284.1,354.2 285.2,355.3 C286.3,356.4 287.4,352.0 288.5,353.1 C289.6,354.2 290.8,359.6 291.7,361.7 C292.6,363.8 293.0,367.4 293.9,366.0 C294.8,364.6 296.2,359.6 297.1,353.1 C298.0,346.6 298.7,337.5 299.3,327.2 C299.9,316.9 300.2,294.3 300.7,291.1 C301.2,287.9 301.8,303.1 302.3,308.0 C302.8,312.9 303.2,318.1 303.6,320.8 C304.0,323.5 304.1,326.6 304.6,324.0 C305.1,321.4 306.1,318.3 306.8,305.0 C307.5,291.7 308.1,250.0 308.8,244.2 C309.5,238.4 310.1,259.0 310.8,270.0 C311.6,281.0 312.6,299.4 313.3,310.0 C314.0,320.6 314.5,330.1 315.0,333.7 C315.5,337.3 316.0,330.2 316.5,331.6 C317.0,333.0 317.4,338.4 318.0,342.3 C318.6,346.2 319.5,356.0 320.2,355.3 C320.9,354.6 321.6,342.9 322.3,338.0 C323.0,333.1 323.9,326.2 324.5,326.2 C325.1,326.2 325.6,331.4 326.2,338.0 C326.8,344.6 327.4,358.4 327.9,366.0 C328.4,373.6 328.8,380.1 329.4,383.3 C330.0,386.5 330.9,385.4 331.6,385.4 C332.3,385.4 333.0,383.1 333.7,383.3 C334.4,383.5 335.2,386.3 335.9,386.5 C336.6,386.7 337.3,383.5 338.0,384.4 C338.7,385.3 339.3,389.0 340.2,391.9 C341.1,394.8 342.4,399.9 343.4,401.6 C344.4,403.3 343.2,401.9 346.0,402.0 C348.8,402.1 357.2,402.0 360.0,402.0 C362.8,402.0 361.0,402.2 362.7,401.9 C364.4,401.6 368.1,400.6 370.4,400.0 C372.6,399.4 374.3,399.0 376.2,398.0 C378.1,397.0 380.1,395.1 382.0,394.2 C383.9,393.2 385.9,392.8 387.8,392.3 C389.7,391.8 391.6,392.3 393.5,391.3 C395.4,390.3 397.5,387.3 399.3,386.5 C401.1,385.7 402.5,387.6 404.1,386.5 C405.7,385.4 407.6,381.1 409.0,379.7 C410.4,378.2 411.7,377.8 412.8,377.8 C413.9,377.8 414.7,379.1 415.7,379.7 C416.7,380.3 417.5,382.2 418.6,381.7 C419.7,381.2 421.1,377.9 422.4,376.8 C423.7,375.7 425.2,374.1 426.3,374.9 C427.4,375.7 428.1,381.5 429.2,381.7 C430.3,381.9 431.7,377.8 433.0,375.9 C434.3,374.0 435.6,372.0 436.9,370.1 C438.2,368.2 439.7,365.9 440.7,364.3 C441.7,362.7 442.1,360.2 442.7,360.5 C443.2,360.8 443.6,363.6 444.0,366.2 C444.4,368.8 445.0,374.3 445.2,375.9" fill="none" stroke="#a26ee6" stroke-width="0.9" stroke-linejoin="round"/>
<text x="322.3" y="240.9" font-size="11.2" fill="#1a1a1a">GeSe (Cubic)</text>
<line x1="329.2" y1="256.6" x2="348.2" y2="256.6" stroke="#555" stroke-width="1"/>
<text x="351.3" y="260.1" font-size="9.6" fill="#4a4a4a">Ge-4s</text>
<line x1="329.2" y1="270.3" x2="348.2" y2="270.3" stroke="#d9363e" stroke-width="1"/>
<text x="351.3" y="273.8" font-size="9.6" fill="#d9363e">Ge-4p</text>
<line x1="329.2" y1="284.2" x2="348.2" y2="284.2" stroke="#3daf5e" stroke-width="1"/>
<text x="351.3" y="287.7" font-size="9.6" fill="#3daf5e">Se-4s</text>
<line x1="329.2" y1="297.9" x2="348.2" y2="297.9" stroke="#a26ee6" stroke-width="1"/>
<text x="351.3" y="301.4" font-size="9.6" fill="#a26ee6">Se-4p</text>
<path d="M503.5,401.0 C509.6,401.0 528.1,400.7 540.0,400.8 C551.9,400.9 565.0,401.7 575.0,401.8 C585.0,401.9 591.5,401.5 600.0,401.3 C608.5,401.1 612.6,401.0 625.8,400.8 C639.0,400.6 670.1,400.1 679.0,400.0" fill="none" stroke="#e4772f" stroke-width="0.9" stroke-linejoin="round"/>
<path d="M503.5,399.5 C507.9,399.4 520.6,399.0 530.0,399.2 C539.4,399.4 552.5,400.1 560.0,400.5 C567.5,400.9 568.3,401.5 575.0,401.5 C581.7,401.5 591.5,400.8 600.0,400.5 C608.5,400.2 617.5,399.8 625.8,399.6 C634.1,399.4 641.1,399.4 650.0,399.2 C658.9,399.0 674.2,398.7 679.0,398.6" fill="none" stroke="#55d6cf" stroke-width="0.9" stroke-linejoin="round"/>
<path d="M503.5,399.5 C507.9,399.4 521.4,398.9 530.0,399.0 C538.6,399.1 548.3,399.3 555.0,399.8 C561.7,400.3 565.8,401.6 570.0,401.8 C574.2,402.0 577.3,401.3 580.0,401.0 C582.7,400.7 584.2,400.4 586.0,400.0 C587.8,399.6 589.4,399.3 590.9,398.8 C592.4,398.3 593.5,397.6 594.9,397.2 C596.2,396.8 597.6,396.5 599.0,396.2 C600.4,395.9 601.6,395.4 603.1,395.2 C604.6,394.9 605.9,394.8 608.0,394.7 C610.1,394.6 612.6,394.4 615.6,394.5 C618.6,394.6 622.4,395.1 625.8,395.5 C629.2,395.9 632.6,396.8 636.0,397.1 C639.4,397.5 642.9,397.5 646.2,397.6 C649.5,397.8 652.7,398.1 656.0,398.0 C659.3,397.9 662.2,397.3 666.0,397.2 C669.8,397.1 676.8,397.5 679.0,397.6" fill="none" stroke="#3daf5e" stroke-width="0.9" stroke-linejoin="round"/>
<path d="M503.5,400.0 C506.2,399.9 513.9,399.6 520.0,399.5 C526.1,399.4 533.3,399.3 540.0,399.5 C546.7,399.7 555.0,400.1 560.0,400.5 C565.0,400.9 567.0,401.7 570.0,401.8 C573.0,401.9 576.2,401.5 578.0,401.0 C579.8,400.5 579.6,399.2 580.7,398.8 C581.8,398.4 583.6,399.3 584.7,398.8 C585.8,398.3 586.5,396.9 587.5,396.0 C588.5,395.1 589.8,394.2 590.9,393.7 C592.0,393.2 592.9,393.7 593.9,393.2 C594.9,392.7 596.0,391.4 597.0,390.6 C598.0,389.8 599.0,389.1 600.0,388.6 C601.0,388.1 601.8,387.9 603.1,387.6 C604.4,387.3 606.2,387.1 608.0,387.0 C609.8,386.9 611.3,387.1 613.6,387.3 C615.9,387.5 619.0,387.9 621.7,388.4 C624.4,388.9 627.2,389.9 629.9,390.4 C632.6,390.9 635.4,391.1 638.1,391.4 C640.8,391.7 643.5,391.9 646.2,392.4 C648.9,392.9 651.7,394.1 654.4,394.5 C657.1,394.9 659.9,394.9 662.6,395.1 C665.3,395.3 668.0,395.4 670.7,395.5 C673.4,395.6 677.6,395.5 679.0,395.5" fill="none" stroke="#7d5b5b" stroke-width="0.9" stroke-linejoin="round"/>
<path d="M503.5,388.4 C503.9,388.2 504.7,387.5 505.9,387.4 C507.1,387.2 509.1,387.2 510.7,387.5 C512.3,387.8 513.7,389.6 515.5,389.4 C517.3,389.2 519.7,387.1 521.3,386.5 C522.9,385.9 523.6,385.7 525.1,385.5 C526.6,385.3 528.5,385.7 530.0,385.5 C531.5,385.3 532.5,384.3 533.8,384.5 C535.1,384.7 536.5,386.5 537.6,386.5 C538.7,386.5 539.2,385.3 540.5,384.5 C541.8,383.7 543.8,381.8 545.4,381.7 C547.0,381.6 548.6,382.5 550.2,383.6 C551.8,384.7 553.7,387.2 555.0,388.4 C556.3,389.6 557.0,389.9 558.2,391.0 C559.4,392.1 560.9,393.7 562.3,395.0 C563.7,396.3 565.2,397.9 566.4,399.0 C567.6,400.1 567.9,401.1 569.5,401.6 C571.1,402.1 572.6,402.1 576.0,401.8 C579.4,401.5 585.1,400.5 590.0,400.0 C594.9,399.5 599.4,398.9 605.4,398.6 C611.4,398.3 620.0,398.1 625.8,398.0 C631.6,397.9 634.9,398.3 640.0,398.2 C645.1,398.1 652.0,397.4 656.4,397.1 C660.8,396.8 662.8,396.6 666.6,396.5 C670.4,396.4 676.9,396.5 679.0,396.5" fill="none" stroke="#5a8bc6" stroke-width="0.9" stroke-linejoin="round"/>
<path d="M503.5,388.4 C503.9,388.2 504.7,387.7 505.9,387.4 C507.1,387.1 509.1,386.3 510.7,386.5 C512.3,386.7 513.7,389.4 515.5,388.4 C517.3,387.4 519.5,382.8 521.3,380.7 C523.1,378.6 524.5,376.2 526.1,375.9 C527.7,375.6 529.5,377.5 530.9,378.8 C532.3,380.1 533.5,382.5 534.8,383.6 C536.1,384.7 537.5,385.5 538.6,385.5 C539.7,385.5 540.4,384.4 541.5,383.6 C542.6,382.8 543.9,380.6 545.4,380.7 C546.9,380.8 548.6,383.2 550.2,384.5 C551.8,385.8 553.7,387.4 555.0,388.4 C556.3,389.4 557.0,389.6 558.2,390.6 C559.4,391.7 560.9,393.3 562.3,394.7 C563.7,396.1 565.2,397.6 566.4,398.8 C567.6,400.0 567.9,401.1 569.5,401.6 C571.1,402.1 573.9,402.1 576.0,401.8 C578.1,401.5 579.7,400.5 582.0,400.0 C584.3,399.5 587.0,399.2 590.0,399.0 C593.0,398.8 595.0,398.7 600.0,398.5 C605.0,398.3 613.3,398.2 620.0,398.0 C626.7,397.8 633.3,397.7 640.0,397.5 C646.7,397.3 653.5,397.2 660.0,397.0 C666.5,396.8 675.8,396.6 679.0,396.5" fill="none" stroke="#4a4a4a" stroke-width="0.9" stroke-linejoin="round"/>
<path d="M503.5,388.4 C503.9,388.2 504.7,387.2 505.9,387.1 C507.1,387.0 508.9,387.0 510.7,387.5 C512.5,388.0 514.6,390.5 516.5,390.3 C518.4,390.1 520.6,387.3 522.2,386.5 C523.8,385.7 524.8,385.2 526.1,385.5 C527.4,385.8 528.7,387.4 530.0,388.4 C531.3,389.4 532.4,390.6 533.8,391.3 C535.2,392.0 537.0,392.3 538.6,392.3 C540.2,392.3 542.0,391.3 543.4,391.3 C544.8,391.3 546.0,391.8 547.3,392.3 C548.6,392.8 549.6,393.6 551.1,394.2 C552.6,394.8 554.5,395.5 556.0,396.1 C557.5,396.7 558.8,397.2 560.2,397.8 C561.6,398.4 563.0,399.2 564.3,399.8 C565.6,400.4 566.0,401.4 568.0,401.6 C570.0,401.9 574.8,401.9 576.6,401.3 C578.4,400.8 577.9,399.2 578.6,398.3 C579.3,397.4 579.9,396.6 580.7,396.2 C581.5,395.8 582.4,395.9 583.2,395.7 C584.1,395.5 584.9,396.0 585.8,395.2 C586.6,394.4 587.4,392.8 588.3,391.1 C589.1,389.4 590.0,386.4 590.9,385.0 C591.8,383.6 593.0,383.8 593.9,383.0 C594.8,382.2 595.1,381.8 596.0,380.4 C596.9,378.9 598.0,376.3 599.0,374.3 C600.0,372.3 601.0,370.6 602.1,368.2 C603.2,365.8 604.2,362.2 605.4,359.8 C606.6,357.4 608.1,355.6 609.5,353.7 C610.9,351.8 612.4,350.8 613.6,348.6 C614.8,346.4 615.8,342.4 616.6,340.4 C617.5,338.3 617.7,337.1 618.7,336.3 C619.7,335.6 621.6,335.7 622.8,335.9 C624.0,336.1 624.8,337.4 625.8,337.3 C626.8,337.2 627.5,335.5 628.9,335.3 C630.3,335.1 632.5,335.5 634.0,336.3 C635.5,337.1 636.8,338.9 638.1,340.4 C639.5,341.9 640.8,344.1 642.1,345.5 C643.5,346.9 644.8,348.1 646.2,348.6 C647.6,349.1 649.1,347.9 650.3,348.6 C651.5,349.3 652.4,352.5 653.4,352.7 C654.4,352.9 655.2,350.0 656.4,349.6 C657.6,349.2 659.1,350.8 660.5,350.6 C661.9,350.4 663.4,348.6 664.6,348.6 C665.8,348.6 666.5,349.4 667.7,350.6 C668.9,351.8 670.4,355.4 671.7,355.7 C673.1,356.0 674.6,353.4 675.8,352.7 C677.0,352.0 678.5,351.8 679.0,351.6" fill="none" stroke="#d9363e" stroke-width="0.9" stroke-linejoin="round"/>
<path d="M503.5,364.3 C503.9,363.8 504.9,362.2 505.9,361.4 C506.9,360.6 508.3,359.2 509.7,359.5 C511.1,359.8 513.0,364.2 514.5,363.4 C516.0,362.6 517.1,358.1 518.4,354.7 C519.7,351.3 521.1,346.2 522.2,343.1 C523.3,340.1 524.1,337.0 525.1,336.4 C526.1,335.8 527.0,337.5 528.0,339.3 C529.0,341.1 529.9,344.3 530.9,347.0 C531.9,349.7 532.8,354.0 533.8,355.6 C534.8,357.2 535.7,355.3 536.7,356.6 C537.7,357.9 538.6,362.9 539.6,363.4 C540.6,363.9 541.5,360.0 542.5,359.5 C543.5,359.0 544.4,359.1 545.4,360.5 C546.4,361.9 547.2,366.2 548.2,368.2 C549.2,370.1 550.1,370.5 551.1,372.2 C552.1,373.9 552.9,376.3 554.1,378.4 C555.3,380.4 556.8,382.5 558.2,384.5 C559.6,386.5 561.1,388.9 562.3,390.6 C563.5,392.3 564.3,393.0 565.3,394.7 C566.3,396.4 567.6,399.6 568.4,400.8 C569.2,402.0 568.7,401.6 570.0,401.8 C571.3,402.0 573.9,402.2 576.0,401.8 C578.1,401.4 580.9,399.8 582.7,399.3 C584.5,398.8 585.4,399.3 586.8,398.8 C588.2,398.3 589.5,396.9 590.9,396.2 C592.2,395.5 593.5,395.2 594.9,394.7 C596.2,394.2 597.6,393.7 599.0,393.2 C600.4,392.7 601.6,392.0 603.1,391.6 C604.6,391.2 605.6,391.7 608.0,390.6 C610.4,389.6 614.7,386.4 617.7,385.3 C620.7,384.2 623.1,385.2 625.8,384.3 C628.5,383.4 631.3,381.1 634.0,380.2 C636.7,379.3 639.4,379.5 642.1,379.2 C644.8,378.9 648.3,378.2 650.3,378.2 C652.3,378.2 652.6,379.2 654.0,379.0 C655.4,378.8 656.7,377.8 658.5,377.1 C660.3,376.5 662.6,375.2 664.6,375.1 C666.6,375.0 668.8,376.9 670.7,376.7 C672.6,376.5 674.4,374.5 675.8,374.1 C677.2,373.7 678.5,374.1 679.0,374.1" fill="none" stroke="#a26ee6" stroke-width="0.9" stroke-linejoin="round"/>
<text x="520.2" y="242" font-size="11.2" fill="#1a1a1a">(GeSe)<tspan font-size="8" dy="2.6">0.9</tspan><tspan dy="-2.6">(Sb</tspan><tspan font-size="8" dy="2.6">2</tspan><tspan dy="-2.6">Te</tspan><tspan font-size="8" dy="2.6">3</tspan><tspan dy="-2.6">)</tspan><tspan font-size="8" dy="2.6">0.1</tspan><tspan dy="-2.6"> (Cubic)</tspan></text>
<line x1="527.9" y1="265.1" x2="546.8" y2="265.1" stroke="#555" stroke-width="1"/>
<text x="551.6" y="268.6" font-size="9.6" fill="#4a4a4a">Ge-4s</text>
<line x1="527.9" y1="279" x2="546.8" y2="279" stroke="#d9363e" stroke-width="1"/>
<text x="551.6" y="282.5" font-size="9.6" fill="#d9363e">Ge-4p</text>
<line x1="527.9" y1="292.4" x2="546.8" y2="292.4" stroke="#3daf5e" stroke-width="1"/>
<text x="551.6" y="295.9" font-size="9.6" fill="#3daf5e">Se-4s</text>
<line x1="527.9" y1="305.9" x2="546.8" y2="305.9" stroke="#a26ee6" stroke-width="1"/>
<text x="551.6" y="309.4" font-size="9.6" fill="#a26ee6">Se-4p</text>
<line x1="596.6" y1="265.1" x2="615.8" y2="265.1" stroke="#55d6cf" stroke-width="1"/>
<text x="620.6" y="268.6" font-size="9.6" fill="#55d6cf">Sb-5s</text>
<line x1="596.6" y1="279" x2="615.8" y2="279" stroke="#7d5b5b" stroke-width="1"/>
<text x="620.6" y="282.5" font-size="9.6" fill="#7d5b5b">Sb-5p</text>
<line x1="596.6" y1="292.4" x2="615.8" y2="292.4" stroke="#e4772f" stroke-width="1"/>
<text x="620.6" y="295.9" font-size="9.6" fill="#e4772f">Te-5s</text>
<line x1="596.6" y1="305.9" x2="615.8" y2="305.9" stroke="#5a8bc6" stroke-width="1"/>
<text x="620.6" y="309.4" font-size="9.6" fill="#5a8bc6">Te-5p</text>
<text transform="translate(15.9,96.1) rotate(-90)" font-size="15.7" text-anchor="middle" fill="#1a1a1a">Energy (eV)</text>
<text transform="translate(250.4,96.1) rotate(-90)" font-size="15.7" text-anchor="middle" fill="#1a1a1a">Energy (eV)</text>
<text transform="translate(481.9,96.1) rotate(-90)" font-size="15.7" text-anchor="middle" fill="#1a1a1a">Energy (eV)</text>
<text transform="translate(12.3,314.7) rotate(-90)" font-size="15.7" text-anchor="middle" fill="#1a1a1a">PDOS (states/eV)</text>
<text transform="translate(244.6,314.7) rotate(-90)" font-size="15.7" text-anchor="middle" fill="#1a1a1a">PDOS (states/eV)</text>
<text transform="translate(477.9,314.7) rotate(-90)" font-size="15.7" text-anchor="middle" fill="#1a1a1a">PDOS (states/eV)</text>
<text transform="translate(5.5,15.1) scale(0.85,1)" font-size="20" font-weight="bold" fill="#000">a</text>
<text x="237.80" y="15.60" font-size="20" text-anchor="start" font-weight="bold" font-style="normal" fill="#000" >b</text>
<text x="472.60" y="15.60" font-size="20" text-anchor="start" font-weight="bold" font-style="normal" fill="#000" >c</text>
<text x="3.60" y="236.30" font-size="20" text-anchor="start" font-weight="bold" font-style="normal" fill="#000" >d</text>
<text x="234.60" y="236.30" font-size="20" text-anchor="start" font-weight="bold" font-style="normal" fill="#000" >e</text>
<text x="469.40" y="236.10" font-size="20" text-anchor="start" font-weight="bold" font-style="normal" fill="#000" >f</text>
<text x="61.1" y="194.1" font-size="12.2" text-anchor="middle" fill="#1a1a1a">X</text>
<text x="80.7" y="194.1" font-size="12.2" text-anchor="middle" fill="#1a1a1a">S</text>
<text x="105.3" y="194.1" font-size="12.2" text-anchor="middle" fill="#1a1a1a">Y</text>
<text x="125.5" y="194.1" font-size="13" text-anchor="middle" fill="#1a1a1a" font-family="Liberation Serif">&#915;</text>
<text x="132.9" y="194.1" font-size="12.2" text-anchor="middle" fill="#1a1a1a">Z</text>
<text x="157.0" y="194.1" font-size="12.2" text-anchor="middle" fill="#1a1a1a">U</text>
<text x="177.2" y="194.1" font-size="12.2" text-anchor="middle" fill="#1a1a1a">R</text>
<text x="200.4" y="194.1" font-size="12.2" text-anchor="middle" fill="#1a1a1a">T</text>
<text x="309.0" y="194.1" font-size="12.2" text-anchor="middle" fill="#1a1a1a">X</text>
<text x="324.3" y="191.8" font-size="9.4" text-anchor="middle" fill="#1a1a1a">U|K</text>
<text x="367.7" y="194.8" font-size="13" text-anchor="middle" fill="#1a1a1a" font-family="Liberation Serif">&#915;</text>
<text x="400.8" y="194.1" font-size="12.2" text-anchor="middle" fill="#1a1a1a">L</text>
<text x="428.3" y="194.1" font-size="12.2" text-anchor="middle" fill="#1a1a1a">W</text>
<text x="447.5" y="194.1" font-size="12.2" text-anchor="middle" fill="#1a1a1a">X</text>
<text x="504.2" y="194.6" font-size="13" text-anchor="middle" fill="#1a1a1a" font-family="Liberation Serif">&#915;</text>
<text x="541.8" y="194.1" font-size="12.2" text-anchor="middle" fill="#1a1a1a">X</text>
<text x="556.6" y="192.1" font-size="9.6" text-anchor="middle" fill="#1a1a1a">U|K</text>
<text x="599.6" y="194.6" font-size="13" text-anchor="middle" fill="#1a1a1a" font-family="Liberation Serif">&#915;</text>
<text x="633.2" y="194.1" font-size="12.2" text-anchor="middle" fill="#1a1a1a">L</text>
<text x="661.3" y="194.1" font-size="12.2" text-anchor="middle" fill="#1a1a1a">W</text>
<text x="680.0" y="194.1" font-size="12.2" text-anchor="middle" fill="#1a1a1a">X</text>
</svg>
</body></html>
